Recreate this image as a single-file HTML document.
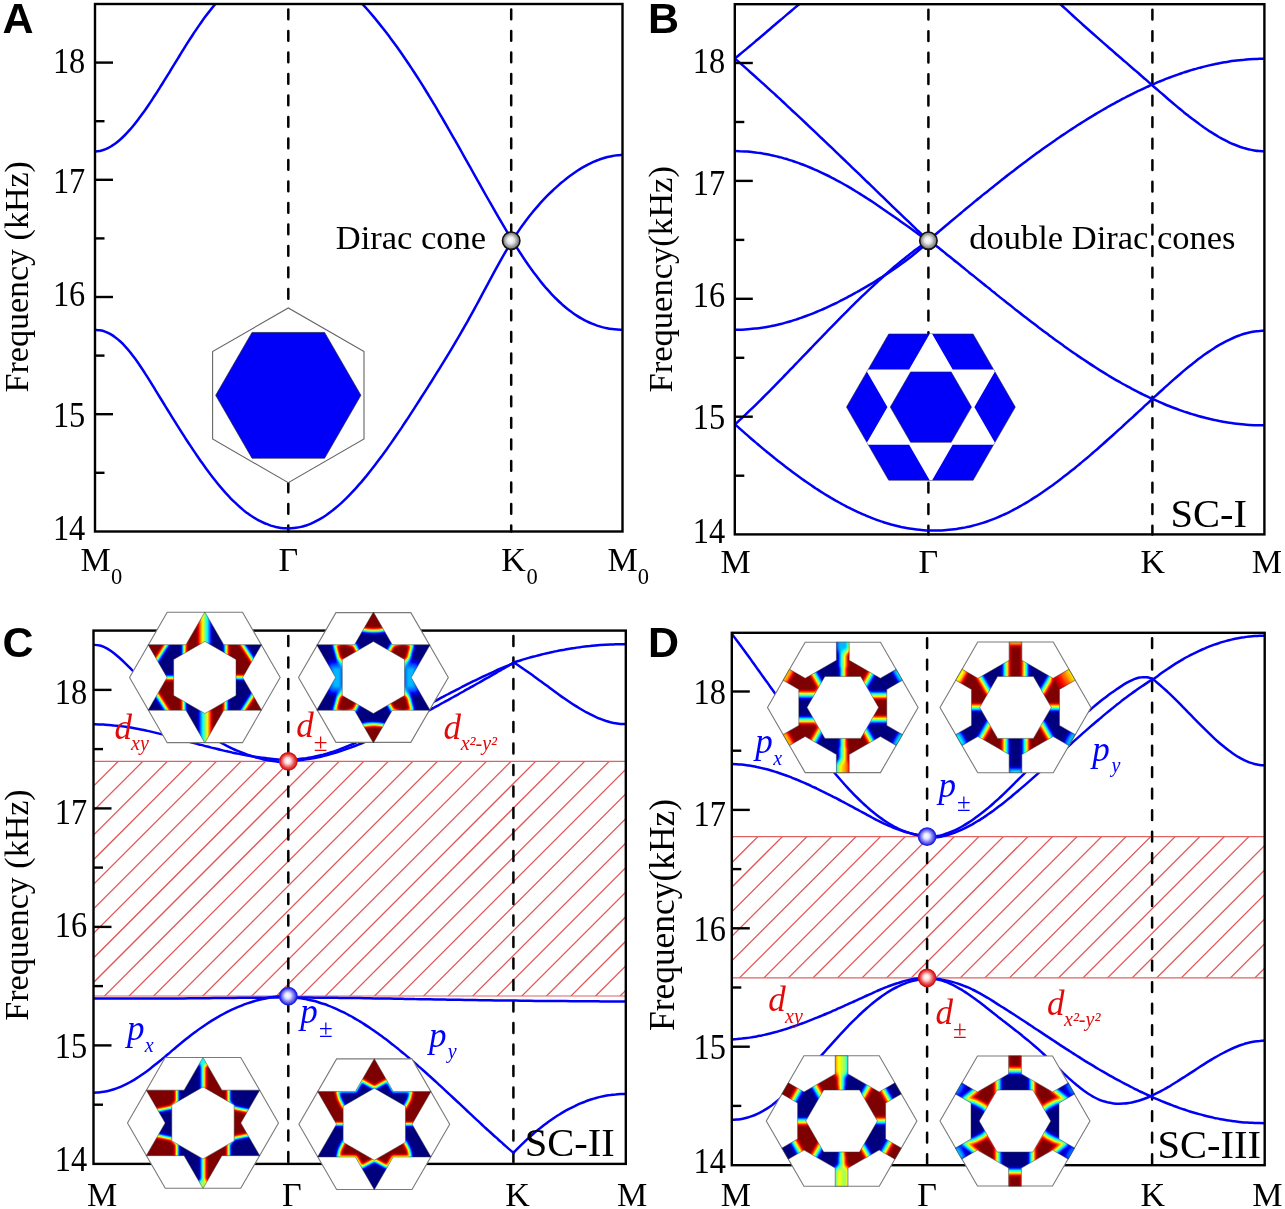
<!DOCTYPE html><html><head><meta charset="utf-8"><style>html,body{margin:0;padding:0;background:#fff;width:1285px;height:1209px;overflow:hidden}</style></head><body><svg width="1285" height="1209" viewBox="0 0 1285 1209" style="position:absolute;left:0;top:0;will-change:transform">
<defs><clipPath id="clipA"><rect x="95.0" y="4.0" width="527.5" height="527.5"/></clipPath><clipPath id="clipB"><rect x="734.8" y="4.2" width="529.6000000000001" height="530.1999999999999"/></clipPath><clipPath id="clipC"><rect x="93.5" y="630.6" width="532.3" height="533.3000000000001"/></clipPath><clipPath id="clipD"><rect x="731.8" y="632.8" width="532.9000000000001" height="532.4000000000001"/></clipPath><radialGradient id="gsph" cx="0.5" cy="0.5" r="0.55" fx="0.45" fy="0.45"><stop offset="0" stop-color="#fff"/><stop offset="0.35" stop-color="#e8e8e8"/><stop offset="0.75" stop-color="#8a8a8a"/><stop offset="1" stop-color="#444"/></radialGradient><radialGradient id="rsph" cx="0.5" cy="0.5" r="0.55" fx="0.45" fy="0.45"><stop offset="0" stop-color="#fff"/><stop offset="0.3" stop-color="#fde0e0"/><stop offset="0.7" stop-color="#e84545"/><stop offset="1" stop-color="#c81818"/></radialGradient><radialGradient id="bsph" cx="0.5" cy="0.5" r="0.55" fx="0.45" fy="0.45"><stop offset="0" stop-color="#fff"/><stop offset="0.3" stop-color="#e4e4ff"/><stop offset="0.7" stop-color="#6060f0"/><stop offset="1" stop-color="#2020d8"/></radialGradient><clipPath id="kagB"><path d="M1015.30,407.10 L973.10,334.01 L888.70,334.01 L846.50,407.10 L888.70,480.19 L973.10,480.19 Z"/></clipPath><clipPath id="hC"><rect x="93.5" y="761.4" width="532.3" height="234.60000000000002"/></clipPath><filter id="fC1" filterUnits="userSpaceOnUse" x="124.85" y="597.45" width="160" height="160" color-interpolation-filters="sRGB"><feGaussianBlur stdDeviation="0.9"/><feComponentTransfer><feFuncR type="table" tableValues="0.000 0.000 0.000 0.000 0.000 0.000 0.000 0.000 0.000 0.000 0.000 0.000 0.000 0.000 0.000 0.000 0.000 0.000 0.000 0.000 0.000 0.000 0.000 0.000 0.000 0.062 0.125 0.188 0.250 0.312 0.375 0.438 0.500 0.562 0.625 0.688 0.750 0.812 0.875 0.938 1.000 1.000 1.000 1.000 1.000 1.000 1.000 1.000 1.000 1.000 1.000 1.000 1.000 1.000 1.000 1.000 1.000 0.938 0.875 0.812 0.750 0.688 0.625 0.562 0.500"/><feFuncG type="table" tableValues="0.000 0.000 0.000 0.000 0.000 0.000 0.000 0.000 0.000 0.062 0.125 0.188 0.250 0.312 0.375 0.438 0.500 0.562 0.625 0.688 0.750 0.812 0.875 0.938 1.000 1.000 1.000 1.000 1.000 1.000 1.000 1.000 1.000 1.000 1.000 1.000 1.000 1.000 1.000 1.000 1.000 0.938 0.875 0.812 0.750 0.688 0.625 0.562 0.500 0.438 0.375 0.312 0.250 0.188 0.125 0.062 0.000 0.000 0.000 0.000 0.000 0.000 0.000 0.000 0.000"/><feFuncB type="table" tableValues="0.500 0.562 0.625 0.688 0.750 0.812 0.875 0.938 1.000 1.000 1.000 1.000 1.000 1.000 1.000 1.000 1.000 1.000 1.000 1.000 1.000 1.000 1.000 1.000 1.000 0.938 0.875 0.812 0.750 0.688 0.625 0.562 0.500 0.438 0.375 0.312 0.250 0.188 0.125 0.062 0.000 0.000 0.000 0.000 0.000 0.000 0.000 0.000 0.000 0.000 0.000 0.000 0.000 0.000 0.000 0.000 0.000 0.000 0.000 0.000 0.000 0.000 0.000 0.000 0.000"/></feComponentTransfer></filter><clipPath id="mC1" clip-rule="evenodd"><path clip-rule="evenodd" d="M223.76 644.70 261.57 644.70 242.67 677.45 261.57 710.20 223.76 710.20 204.85 742.95 185.94 710.20 148.13 710.20 167.03 677.45 148.13 644.70 185.94 644.70 204.85 611.95ZM173.67 659.45 173.67 695.45 204.85 713.45 236.03 695.45 236.03 659.45 204.85 641.45Z"/></clipPath><filter id="fC2" filterUnits="userSpaceOnUse" x="293.4" y="597.5" width="160" height="160" color-interpolation-filters="sRGB"><feGaussianBlur stdDeviation="0.9"/><feComponentTransfer><feFuncR type="table" tableValues="0.000 0.000 0.000 0.000 0.000 0.000 0.000 0.000 0.000 0.000 0.000 0.000 0.000 0.000 0.000 0.000 0.000 0.000 0.000 0.000 0.000 0.000 0.000 0.000 0.000 0.062 0.125 0.188 0.250 0.312 0.375 0.438 0.500 0.562 0.625 0.688 0.750 0.812 0.875 0.938 1.000 1.000 1.000 1.000 1.000 1.000 1.000 1.000 1.000 1.000 1.000 1.000 1.000 1.000 1.000 1.000 1.000 0.938 0.875 0.812 0.750 0.688 0.625 0.562 0.500"/><feFuncG type="table" tableValues="0.000 0.000 0.000 0.000 0.000 0.000 0.000 0.000 0.000 0.062 0.125 0.188 0.250 0.312 0.375 0.438 0.500 0.562 0.625 0.688 0.750 0.812 0.875 0.938 1.000 1.000 1.000 1.000 1.000 1.000 1.000 1.000 1.000 1.000 1.000 1.000 1.000 1.000 1.000 1.000 1.000 0.938 0.875 0.812 0.750 0.688 0.625 0.562 0.500 0.438 0.375 0.312 0.250 0.188 0.125 0.062 0.000 0.000 0.000 0.000 0.000 0.000 0.000 0.000 0.000"/><feFuncB type="table" tableValues="0.500 0.562 0.625 0.688 0.750 0.812 0.875 0.938 1.000 1.000 1.000 1.000 1.000 1.000 1.000 1.000 1.000 1.000 1.000 1.000 1.000 1.000 1.000 1.000 1.000 0.938 0.875 0.812 0.750 0.688 0.625 0.562 0.500 0.438 0.375 0.312 0.250 0.188 0.125 0.062 0.000 0.000 0.000 0.000 0.000 0.000 0.000 0.000 0.000 0.000 0.000 0.000 0.000 0.000 0.000 0.000 0.000 0.000 0.000 0.000 0.000 0.000 0.000 0.000 0.000"/></feComponentTransfer></filter><clipPath id="mC2" clip-rule="evenodd"><path clip-rule="evenodd" d="M392.31 644.75 430.12 644.75 411.22 677.50 430.12 710.25 392.31 710.25 373.40 743.00 354.49 710.25 316.68 710.25 335.58 677.50 316.68 644.75 354.49 644.75 373.40 612.00ZM342.22 659.50 342.22 695.50 373.40 713.50 404.58 695.50 404.58 659.50 373.40 641.50Z"/></clipPath><filter id="fC3" filterUnits="userSpaceOnUse" x="123.0" y="1042.9" width="160" height="160" color-interpolation-filters="sRGB"><feGaussianBlur stdDeviation="0.9"/><feComponentTransfer><feFuncR type="table" tableValues="0.000 0.000 0.000 0.000 0.000 0.000 0.000 0.000 0.000 0.000 0.000 0.000 0.000 0.000 0.000 0.000 0.000 0.000 0.000 0.000 0.000 0.000 0.000 0.000 0.000 0.062 0.125 0.188 0.250 0.312 0.375 0.438 0.500 0.562 0.625 0.688 0.750 0.812 0.875 0.938 1.000 1.000 1.000 1.000 1.000 1.000 1.000 1.000 1.000 1.000 1.000 1.000 1.000 1.000 1.000 1.000 1.000 0.938 0.875 0.812 0.750 0.688 0.625 0.562 0.500"/><feFuncG type="table" tableValues="0.000 0.000 0.000 0.000 0.000 0.000 0.000 0.000 0.000 0.062 0.125 0.188 0.250 0.312 0.375 0.438 0.500 0.562 0.625 0.688 0.750 0.812 0.875 0.938 1.000 1.000 1.000 1.000 1.000 1.000 1.000 1.000 1.000 1.000 1.000 1.000 1.000 1.000 1.000 1.000 1.000 0.938 0.875 0.812 0.750 0.688 0.625 0.562 0.500 0.438 0.375 0.312 0.250 0.188 0.125 0.062 0.000 0.000 0.000 0.000 0.000 0.000 0.000 0.000 0.000"/><feFuncB type="table" tableValues="0.500 0.562 0.625 0.688 0.750 0.812 0.875 0.938 1.000 1.000 1.000 1.000 1.000 1.000 1.000 1.000 1.000 1.000 1.000 1.000 1.000 1.000 1.000 1.000 1.000 0.938 0.875 0.812 0.750 0.688 0.625 0.562 0.500 0.438 0.375 0.312 0.250 0.188 0.125 0.062 0.000 0.000 0.000 0.000 0.000 0.000 0.000 0.000 0.000 0.000 0.000 0.000 0.000 0.000 0.000 0.000 0.000 0.000 0.000 0.000 0.000 0.000 0.000 0.000 0.000"/></feComponentTransfer></filter><clipPath id="mC3" clip-rule="evenodd"><path clip-rule="evenodd" d="M221.91 1090.15 259.72 1090.15 240.82 1122.90 259.72 1155.65 221.91 1155.65 203.00 1188.40 184.09 1155.65 146.28 1155.65 165.18 1122.90 146.28 1090.15 184.09 1090.15 203.00 1057.40ZM171.82 1104.90 171.82 1140.90 203.00 1158.90 234.18 1140.90 234.18 1104.90 203.00 1086.90Z"/></clipPath><filter id="fC4" filterUnits="userSpaceOnUse" x="294.3" y="1044.2" width="160" height="160" color-interpolation-filters="sRGB"><feGaussianBlur stdDeviation="0.9"/><feComponentTransfer><feFuncR type="table" tableValues="0.000 0.000 0.000 0.000 0.000 0.000 0.000 0.000 0.000 0.000 0.000 0.000 0.000 0.000 0.000 0.000 0.000 0.000 0.000 0.000 0.000 0.000 0.000 0.000 0.000 0.062 0.125 0.188 0.250 0.312 0.375 0.438 0.500 0.562 0.625 0.688 0.750 0.812 0.875 0.938 1.000 1.000 1.000 1.000 1.000 1.000 1.000 1.000 1.000 1.000 1.000 1.000 1.000 1.000 1.000 1.000 1.000 0.938 0.875 0.812 0.750 0.688 0.625 0.562 0.500"/><feFuncG type="table" tableValues="0.000 0.000 0.000 0.000 0.000 0.000 0.000 0.000 0.000 0.062 0.125 0.188 0.250 0.312 0.375 0.438 0.500 0.562 0.625 0.688 0.750 0.812 0.875 0.938 1.000 1.000 1.000 1.000 1.000 1.000 1.000 1.000 1.000 1.000 1.000 1.000 1.000 1.000 1.000 1.000 1.000 0.938 0.875 0.812 0.750 0.688 0.625 0.562 0.500 0.438 0.375 0.312 0.250 0.188 0.125 0.062 0.000 0.000 0.000 0.000 0.000 0.000 0.000 0.000 0.000"/><feFuncB type="table" tableValues="0.500 0.562 0.625 0.688 0.750 0.812 0.875 0.938 1.000 1.000 1.000 1.000 1.000 1.000 1.000 1.000 1.000 1.000 1.000 1.000 1.000 1.000 1.000 1.000 1.000 0.938 0.875 0.812 0.750 0.688 0.625 0.562 0.500 0.438 0.375 0.312 0.250 0.188 0.125 0.062 0.000 0.000 0.000 0.000 0.000 0.000 0.000 0.000 0.000 0.000 0.000 0.000 0.000 0.000 0.000 0.000 0.000 0.000 0.000 0.000 0.000 0.000 0.000 0.000 0.000"/></feComponentTransfer></filter><clipPath id="mC4" clip-rule="evenodd"><path clip-rule="evenodd" d="M393.21 1091.45 431.02 1091.45 412.12 1124.20 431.02 1156.95 393.21 1156.95 374.30 1189.70 355.39 1156.95 317.58 1156.95 336.48 1124.20 317.58 1091.45 355.39 1091.45 374.30 1058.70ZM343.12 1106.20 343.12 1142.20 374.30 1160.20 405.48 1142.20 405.48 1106.20 374.30 1088.20Z"/></clipPath><clipPath id="hD"><rect x="731.8" y="836.7" width="532.9000000000001" height="141.0999999999999"/></clipPath><filter id="fD1" filterUnits="userSpaceOnUse" x="762.8" y="627.4" width="160" height="160" color-interpolation-filters="sRGB"><feGaussianBlur stdDeviation="0.9"/><feComponentTransfer><feFuncR type="table" tableValues="0.000 0.000 0.000 0.000 0.000 0.000 0.000 0.000 0.000 0.000 0.000 0.000 0.000 0.000 0.000 0.000 0.000 0.000 0.000 0.000 0.000 0.000 0.000 0.000 0.000 0.062 0.125 0.188 0.250 0.312 0.375 0.438 0.500 0.562 0.625 0.688 0.750 0.812 0.875 0.938 1.000 1.000 1.000 1.000 1.000 1.000 1.000 1.000 1.000 1.000 1.000 1.000 1.000 1.000 1.000 1.000 1.000 0.938 0.875 0.812 0.750 0.688 0.625 0.562 0.500"/><feFuncG type="table" tableValues="0.000 0.000 0.000 0.000 0.000 0.000 0.000 0.000 0.000 0.062 0.125 0.188 0.250 0.312 0.375 0.438 0.500 0.562 0.625 0.688 0.750 0.812 0.875 0.938 1.000 1.000 1.000 1.000 1.000 1.000 1.000 1.000 1.000 1.000 1.000 1.000 1.000 1.000 1.000 1.000 1.000 0.938 0.875 0.812 0.750 0.688 0.625 0.562 0.500 0.438 0.375 0.312 0.250 0.188 0.125 0.062 0.000 0.000 0.000 0.000 0.000 0.000 0.000 0.000 0.000"/><feFuncB type="table" tableValues="0.500 0.562 0.625 0.688 0.750 0.812 0.875 0.938 1.000 1.000 1.000 1.000 1.000 1.000 1.000 1.000 1.000 1.000 1.000 1.000 1.000 1.000 1.000 1.000 1.000 0.938 0.875 0.812 0.750 0.688 0.625 0.562 0.500 0.438 0.375 0.312 0.250 0.188 0.125 0.062 0.000 0.000 0.000 0.000 0.000 0.000 0.000 0.000 0.000 0.000 0.000 0.000 0.000 0.000 0.000 0.000 0.000 0.000 0.000 0.000 0.000 0.000 0.000 0.000 0.000"/></feComponentTransfer></filter><clipPath id="mD1" clip-rule="evenodd"><path clip-rule="evenodd" d="M836.40 772.60 836.40 754.50 805.21 736.50 789.54 745.54 783.14 734.46 798.81 725.41 798.81 689.39 783.14 680.34 789.54 669.26 805.21 678.30 836.40 660.30 836.40 642.20 849.20 642.20 849.20 660.30 880.39 678.30 896.06 669.26 902.46 680.34 886.79 689.39 886.79 725.41 902.46 734.46 896.06 745.54 880.39 736.50 849.20 754.50 849.20 772.60ZM860.70 676.40 824.90 676.40 807.00 707.40 824.90 738.40 860.70 738.40 878.60 707.40Z"/></clipPath><filter id="fD2" filterUnits="userSpaceOnUse" x="935.5" y="627.4" width="160" height="160" color-interpolation-filters="sRGB"><feGaussianBlur stdDeviation="0.9"/><feComponentTransfer><feFuncR type="table" tableValues="0.000 0.000 0.000 0.000 0.000 0.000 0.000 0.000 0.000 0.000 0.000 0.000 0.000 0.000 0.000 0.000 0.000 0.000 0.000 0.000 0.000 0.000 0.000 0.000 0.000 0.062 0.125 0.188 0.250 0.312 0.375 0.438 0.500 0.562 0.625 0.688 0.750 0.812 0.875 0.938 1.000 1.000 1.000 1.000 1.000 1.000 1.000 1.000 1.000 1.000 1.000 1.000 1.000 1.000 1.000 1.000 1.000 0.938 0.875 0.812 0.750 0.688 0.625 0.562 0.500"/><feFuncG type="table" tableValues="0.000 0.000 0.000 0.000 0.000 0.000 0.000 0.000 0.000 0.062 0.125 0.188 0.250 0.312 0.375 0.438 0.500 0.562 0.625 0.688 0.750 0.812 0.875 0.938 1.000 1.000 1.000 1.000 1.000 1.000 1.000 1.000 1.000 1.000 1.000 1.000 1.000 1.000 1.000 1.000 1.000 0.938 0.875 0.812 0.750 0.688 0.625 0.562 0.500 0.438 0.375 0.312 0.250 0.188 0.125 0.062 0.000 0.000 0.000 0.000 0.000 0.000 0.000 0.000 0.000"/><feFuncB type="table" tableValues="0.500 0.562 0.625 0.688 0.750 0.812 0.875 0.938 1.000 1.000 1.000 1.000 1.000 1.000 1.000 1.000 1.000 1.000 1.000 1.000 1.000 1.000 1.000 1.000 1.000 0.938 0.875 0.812 0.750 0.688 0.625 0.562 0.500 0.438 0.375 0.312 0.250 0.188 0.125 0.062 0.000 0.000 0.000 0.000 0.000 0.000 0.000 0.000 0.000 0.000 0.000 0.000 0.000 0.000 0.000 0.000 0.000 0.000 0.000 0.000 0.000 0.000 0.000 0.000 0.000"/></feComponentTransfer></filter><clipPath id="mD2" clip-rule="evenodd"><path clip-rule="evenodd" d="M1009.10 772.60 1009.10 754.50 977.91 736.50 962.24 745.54 955.84 734.46 971.51 725.41 971.51 689.39 955.84 680.34 962.24 669.26 977.91 678.30 1009.10 660.30 1009.10 642.20 1021.90 642.20 1021.90 660.30 1053.09 678.30 1068.76 669.26 1075.16 680.34 1059.49 689.39 1059.49 725.41 1075.16 734.46 1068.76 745.54 1053.09 736.50 1021.90 754.50 1021.90 772.60ZM1033.40 676.40 997.60 676.40 979.70 707.40 997.60 738.40 1033.40 738.40 1051.30 707.40Z"/></clipPath><filter id="fD3" filterUnits="userSpaceOnUse" x="761.6" y="1041.0" width="160" height="160" color-interpolation-filters="sRGB"><feGaussianBlur stdDeviation="0.9"/><feComponentTransfer><feFuncR type="table" tableValues="0.000 0.000 0.000 0.000 0.000 0.000 0.000 0.000 0.000 0.000 0.000 0.000 0.000 0.000 0.000 0.000 0.000 0.000 0.000 0.000 0.000 0.000 0.000 0.000 0.000 0.062 0.125 0.188 0.250 0.312 0.375 0.438 0.500 0.562 0.625 0.688 0.750 0.812 0.875 0.938 1.000 1.000 1.000 1.000 1.000 1.000 1.000 1.000 1.000 1.000 1.000 1.000 1.000 1.000 1.000 1.000 1.000 0.938 0.875 0.812 0.750 0.688 0.625 0.562 0.500"/><feFuncG type="table" tableValues="0.000 0.000 0.000 0.000 0.000 0.000 0.000 0.000 0.000 0.062 0.125 0.188 0.250 0.312 0.375 0.438 0.500 0.562 0.625 0.688 0.750 0.812 0.875 0.938 1.000 1.000 1.000 1.000 1.000 1.000 1.000 1.000 1.000 1.000 1.000 1.000 1.000 1.000 1.000 1.000 1.000 0.938 0.875 0.812 0.750 0.688 0.625 0.562 0.500 0.438 0.375 0.312 0.250 0.188 0.125 0.062 0.000 0.000 0.000 0.000 0.000 0.000 0.000 0.000 0.000"/><feFuncB type="table" tableValues="0.500 0.562 0.625 0.688 0.750 0.812 0.875 0.938 1.000 1.000 1.000 1.000 1.000 1.000 1.000 1.000 1.000 1.000 1.000 1.000 1.000 1.000 1.000 1.000 1.000 0.938 0.875 0.812 0.750 0.688 0.625 0.562 0.500 0.438 0.375 0.312 0.250 0.188 0.125 0.062 0.000 0.000 0.000 0.000 0.000 0.000 0.000 0.000 0.000 0.000 0.000 0.000 0.000 0.000 0.000 0.000 0.000 0.000 0.000 0.000 0.000 0.000 0.000 0.000 0.000"/></feComponentTransfer></filter><clipPath id="mD3" clip-rule="evenodd"><path clip-rule="evenodd" d="M835.20 1186.20 835.20 1168.10 804.01 1150.10 788.34 1159.14 781.94 1148.06 797.61 1139.01 797.61 1102.99 781.94 1093.94 788.34 1082.86 804.01 1091.90 835.20 1073.90 835.20 1055.80 848.00 1055.80 848.00 1073.90 879.19 1091.90 894.86 1082.86 901.26 1093.94 885.59 1102.99 885.59 1139.01 901.26 1148.06 894.86 1159.14 879.19 1150.10 848.00 1168.10 848.00 1186.20ZM859.50 1090.00 823.70 1090.00 805.80 1121.00 823.70 1152.00 859.50 1152.00 877.40 1121.00Z"/></clipPath><filter id="fD4" filterUnits="userSpaceOnUse" x="935.0" y="1041.0" width="160" height="160" color-interpolation-filters="sRGB"><feGaussianBlur stdDeviation="0.9"/><feComponentTransfer><feFuncR type="table" tableValues="0.000 0.000 0.000 0.000 0.000 0.000 0.000 0.000 0.000 0.000 0.000 0.000 0.000 0.000 0.000 0.000 0.000 0.000 0.000 0.000 0.000 0.000 0.000 0.000 0.000 0.062 0.125 0.188 0.250 0.312 0.375 0.438 0.500 0.562 0.625 0.688 0.750 0.812 0.875 0.938 1.000 1.000 1.000 1.000 1.000 1.000 1.000 1.000 1.000 1.000 1.000 1.000 1.000 1.000 1.000 1.000 1.000 0.938 0.875 0.812 0.750 0.688 0.625 0.562 0.500"/><feFuncG type="table" tableValues="0.000 0.000 0.000 0.000 0.000 0.000 0.000 0.000 0.000 0.062 0.125 0.188 0.250 0.312 0.375 0.438 0.500 0.562 0.625 0.688 0.750 0.812 0.875 0.938 1.000 1.000 1.000 1.000 1.000 1.000 1.000 1.000 1.000 1.000 1.000 1.000 1.000 1.000 1.000 1.000 1.000 0.938 0.875 0.812 0.750 0.688 0.625 0.562 0.500 0.438 0.375 0.312 0.250 0.188 0.125 0.062 0.000 0.000 0.000 0.000 0.000 0.000 0.000 0.000 0.000"/><feFuncB type="table" tableValues="0.500 0.562 0.625 0.688 0.750 0.812 0.875 0.938 1.000 1.000 1.000 1.000 1.000 1.000 1.000 1.000 1.000 1.000 1.000 1.000 1.000 1.000 1.000 1.000 1.000 0.938 0.875 0.812 0.750 0.688 0.625 0.562 0.500 0.438 0.375 0.312 0.250 0.188 0.125 0.062 0.000 0.000 0.000 0.000 0.000 0.000 0.000 0.000 0.000 0.000 0.000 0.000 0.000 0.000 0.000 0.000 0.000 0.000 0.000 0.000 0.000 0.000 0.000 0.000 0.000"/></feComponentTransfer></filter><clipPath id="mD4" clip-rule="evenodd"><path clip-rule="evenodd" d="M1008.60 1186.20 1008.60 1168.10 977.41 1150.10 961.74 1159.14 955.34 1148.06 971.01 1139.01 971.01 1102.99 955.34 1093.94 961.74 1082.86 977.41 1091.90 1008.60 1073.90 1008.60 1055.80 1021.40 1055.80 1021.40 1073.90 1052.59 1091.90 1068.26 1082.86 1074.66 1093.94 1058.99 1102.99 1058.99 1139.01 1074.66 1148.06 1068.26 1159.14 1052.59 1150.10 1021.40 1168.10 1021.40 1186.20ZM1032.90 1090.00 997.10 1090.00 979.20 1121.00 997.10 1152.00 1032.90 1152.00 1050.80 1121.00Z"/></clipPath></defs>
<rect x="0" y="0" width="1285" height="1209" fill="#fff"/>
<line x1="288.3" y1="9.5" x2="288.3" y2="531.5" stroke="#000" stroke-width="2.5" stroke-dasharray="9.8 11.7" stroke-linecap="round"/>
<line x1="511.2" y1="9.5" x2="511.2" y2="531.5" stroke="#000" stroke-width="2.5" stroke-dasharray="9.8 11.7" stroke-linecap="round"/>
<path d="M95.0,329.8 C95.8,329.9 98.3,330.0 100.0,330.3 C101.7,330.6 103.4,331.0 105.0,331.6 C106.7,332.3 108.4,333.0 110.1,333.9 C111.7,334.9 113.4,335.9 115.1,337.2 C116.8,338.4 118.4,339.8 120.1,341.3 C121.8,342.8 123.5,344.5 125.1,346.3 C126.8,348.1 128.5,350.1 130.2,352.2 C131.8,354.3 133.5,356.5 135.2,358.8 C136.9,361.1 138.5,363.5 140.2,366.0 C141.9,368.5 143.6,371.0 145.2,373.6 C146.9,376.2 148.6,378.9 150.3,381.6 C151.9,384.3 153.6,387.0 155.3,389.8 C157.0,392.5 158.6,395.2 160.3,398.0 C162.0,400.7 163.7,403.4 165.3,406.2 C167.0,408.9 168.7,411.6 170.4,414.3 C172.0,417.0 173.7,419.7 175.4,422.4 C177.1,425.1 178.7,427.7 180.4,430.4 C182.1,433.0 183.8,435.6 185.4,438.2 C187.1,440.8 188.8,443.4 190.5,445.9 C192.1,448.4 193.8,450.9 195.5,453.4 C197.2,455.9 198.8,458.3 200.5,460.7 C202.2,463.1 203.8,465.4 205.5,467.7 C207.2,470.0 208.9,472.3 210.5,474.5 C212.2,476.7 213.9,478.9 215.6,481.0 C217.2,483.1 218.9,485.1 220.6,487.1 C222.3,489.1 223.9,491.0 225.6,492.9 C227.3,494.7 229.0,496.5 230.6,498.3 C232.3,500.0 234.0,501.6 235.7,503.2 C237.3,504.8 239.0,506.3 240.7,507.8 C242.4,509.2 244.0,510.6 245.7,511.9 C247.4,513.1 249.1,514.4 250.7,515.5 C252.4,516.6 254.1,517.7 255.8,518.7 C257.4,519.7 259.1,520.6 260.8,521.4 C262.5,522.3 264.1,523.1 265.8,523.7 C267.5,524.4 269.2,525.0 270.8,525.6 C272.5,526.1 274.2,526.6 275.9,527.0 C277.5,527.3 279.2,527.6 280.9,527.9 C282.6,528.1 284.2,528.3 285.9,528.3 C287.6,528.4 289.3,528.4 290.9,528.3 C292.6,528.2 294.3,528.1 296.0,527.8 C297.6,527.6 299.3,527.3 301.0,526.9 C302.7,526.5 304.3,526.0 306.0,525.5 C307.7,524.9 309.3,524.3 311.0,523.6 C312.7,522.9 314.4,522.1 316.0,521.2 C317.7,520.3 319.4,519.4 321.1,518.4 C322.7,517.4 324.4,516.3 326.1,515.2 C327.8,514.0 329.4,512.8 331.1,511.5 C332.8,510.2 334.5,508.9 336.1,507.5 C337.8,506.1 339.5,504.6 341.2,503.1 C342.8,501.5 344.5,499.9 346.2,498.3 C347.9,496.7 349.5,495.0 351.2,493.2 C352.9,491.4 354.6,489.6 356.2,487.8 C357.9,485.9 359.6,484.0 361.3,482.1 C362.9,480.1 364.6,478.1 366.3,476.1 C368.0,474.0 369.6,472.0 371.3,469.8 C373.0,467.7 374.7,465.5 376.3,463.3 C378.0,461.1 379.7,458.9 381.4,456.6 C383.0,454.3 384.7,452.0 386.4,449.7 C388.1,447.3 389.7,445.0 391.4,442.6 C393.1,440.2 394.8,437.7 396.4,435.3 C398.1,432.8 399.8,430.4 401.5,427.9 C403.1,425.4 404.8,422.8 406.5,420.3 C408.2,417.8 409.8,415.2 411.5,412.6 C413.2,410.1 414.8,407.5 416.5,404.9 C418.2,402.3 419.9,399.6 421.5,397.0 C423.2,394.4 424.9,391.8 426.6,389.1 C428.2,386.5 429.9,383.8 431.6,381.2 C433.3,378.5 434.9,375.9 436.6,373.2 C438.3,370.5 440.0,367.8 441.6,365.1 C443.3,362.4 445.0,359.7 446.7,356.9 C448.3,354.2 450.0,351.4 451.7,348.6 C453.4,345.8 455.0,343.0 456.7,340.2 C458.4,337.3 460.1,334.4 461.7,331.5 C463.4,328.6 465.1,325.7 466.8,322.7 C468.4,319.8 470.1,316.7 471.8,313.7 C473.5,310.7 475.1,307.6 476.8,304.5 C478.5,301.4 480.2,298.2 481.8,295.1 C483.5,292.0 485.2,288.8 486.9,285.7 C488.5,282.5 490.2,279.4 491.9,276.3 C493.6,273.2 495.2,270.1 496.9,267.1 C498.6,264.0 500.3,261.0 501.9,258.1 C503.6,255.1 505.3,252.2 507.0,249.4 C508.6,246.6 510.3,243.8 512.0,241.1 C513.7,238.5 515.3,235.9 517.0,233.4 C518.7,230.9 520.3,228.4 522.0,226.1 C523.7,223.7 525.4,221.4 527.0,219.2 C528.7,217.0 530.4,214.9 532.1,212.8 C533.7,210.7 535.4,208.7 537.1,206.8 C538.8,204.9 540.4,203.0 542.1,201.2 C543.8,199.4 545.5,197.6 547.1,195.9 C548.8,194.2 550.5,192.6 552.2,191.0 C553.8,189.4 555.5,187.9 557.2,186.4 C558.9,184.9 560.5,183.4 562.2,182.1 C563.9,180.7 565.6,179.3 567.2,178.0 C568.9,176.7 570.6,175.5 572.3,174.3 C573.9,173.1 575.6,171.9 577.3,170.8 C579.0,169.7 580.6,168.7 582.3,167.7 C584.0,166.7 585.7,165.8 587.3,164.9 C589.0,164.0 590.7,163.2 592.4,162.4 C594.0,161.7 595.7,160.9 597.4,160.3 C599.1,159.6 600.7,159.0 602.4,158.5 C604.1,157.9 605.8,157.4 607.4,157.0 C609.1,156.6 610.8,156.2 612.5,155.9 C614.1,155.6 615.8,155.4 617.5,155.2 C619.2,155.0 621.7,154.9 622.5,154.8" fill="none" stroke="#0000f5" stroke-width="2.5" stroke-linejoin="round" stroke-linecap="round" clip-path="url(#clipA)"/>
<path d="M95.0,151.4 C95.8,151.4 98.3,151.3 100.0,150.9 C101.7,150.6 103.3,150.1 105.0,149.4 C106.7,148.8 108.3,148.0 110.0,147.0 C111.7,146.1 113.3,145.0 115.0,143.8 C116.7,142.5 118.3,141.2 120.0,139.7 C121.7,138.3 123.3,136.7 125.0,135.0 C126.7,133.3 128.3,131.5 130.0,129.6 C131.7,127.7 133.3,125.7 135.0,123.6 C136.7,121.5 138.3,119.3 140.0,117.1 C141.7,114.9 143.3,112.5 145.0,110.2 C146.7,107.8 148.3,105.4 150.0,102.9 C151.7,100.4 153.3,97.8 155.0,95.3 C156.7,92.7 158.3,90.1 160.0,87.4 C161.7,84.8 163.3,82.1 165.0,79.4 C166.7,76.7 168.3,74.0 170.0,71.3 C171.7,68.5 173.3,65.8 175.0,63.1 C176.7,60.4 178.3,57.7 180.0,55.0 C181.7,52.3 183.3,49.6 185.0,46.9 C186.7,44.3 188.3,41.6 190.0,39.0 C191.7,36.5 193.3,33.9 195.0,31.4 C196.7,28.9 198.3,26.5 200.0,24.1 C201.7,21.7 203.3,19.3 205.0,17.1 C206.7,14.8 208.3,12.7 210.0,10.6 C211.7,8.5 213.3,6.4 215.0,4.5 C216.7,2.6 218.3,0.8 220.0,-0.9 C221.7,-2.6 224.2,-5.0 225.0,-5.8" fill="none" stroke="#0000f5" stroke-width="2.5" stroke-linejoin="round" stroke-linecap="round" clip-path="url(#clipA)"/>
<path d="M353.0,-5.7 C353.8,-4.9 356.4,-2.3 358.1,-0.6 C359.8,1.2 361.5,3.0 363.2,4.9 C364.9,6.7 366.6,8.6 368.3,10.5 C369.9,12.4 371.6,14.4 373.3,16.4 C375.0,18.4 376.7,20.5 378.4,22.6 C380.1,24.7 381.8,26.8 383.5,29.0 C385.2,31.2 386.9,33.4 388.6,35.6 C390.3,37.9 392.0,40.1 393.7,42.5 C395.4,44.8 397.1,47.1 398.8,49.5 C400.5,51.9 402.2,54.4 403.8,56.8 C405.5,59.3 407.2,61.8 408.9,64.3 C410.6,66.9 412.3,69.4 414.0,72.0 C415.7,74.6 417.4,77.2 419.1,79.9 C420.8,82.6 422.5,85.3 424.2,88.0 C425.9,90.7 427.6,93.5 429.3,96.3 C431.0,99.0 432.7,101.9 434.4,104.7 C436.1,107.5 437.7,110.4 439.4,113.3 C441.1,116.2 442.8,119.1 444.5,122.0 C446.2,124.9 447.9,127.9 449.6,130.8 C451.3,133.8 453.0,136.8 454.7,139.7 C456.4,142.7 458.1,145.7 459.8,148.7 C461.5,151.7 463.2,154.8 464.9,157.8 C466.6,160.8 468.3,163.8 470.0,166.8 C471.6,169.9 473.3,172.9 475.0,175.9 C476.7,178.9 478.4,181.9 480.1,184.9 C481.8,188.0 483.5,191.0 485.2,194.0 C486.9,197.0 488.6,200.0 490.3,202.9 C492.0,205.9 493.7,208.9 495.4,211.8 C497.1,214.8 498.8,217.7 500.5,220.6 C502.2,223.5 503.9,226.4 505.5,229.2 C507.2,232.1 508.9,234.9 510.6,237.7 C512.3,240.4 514.0,243.2 515.7,245.9 C517.4,248.6 519.1,251.2 520.8,253.8 C522.5,256.4 524.2,259.0 525.9,261.5 C527.6,264.0 529.3,266.4 531.0,268.7 C532.7,271.1 534.4,273.4 536.1,275.6 C537.8,277.9 539.4,280.0 541.1,282.1 C542.8,284.2 544.5,286.2 546.2,288.2 C547.9,290.1 549.6,292.0 551.3,293.8 C553.0,295.6 554.7,297.4 556.4,299.0 C558.1,300.7 559.8,302.3 561.5,303.8 C563.2,305.4 564.9,306.8 566.6,308.2 C568.3,309.6 570.0,310.9 571.7,312.1 C573.3,313.4 575.0,314.6 576.7,315.6 C578.4,316.7 580.1,317.8 581.8,318.7 C583.5,319.7 585.2,320.6 586.9,321.4 C588.6,322.2 590.3,323.0 592.0,323.7 C593.7,324.4 595.4,325.0 597.1,325.6 C598.8,326.1 600.5,326.6 602.2,327.1 C603.9,327.5 605.6,327.9 607.2,328.2 C608.9,328.6 610.6,328.8 612.3,329.0 C614.0,329.3 615.7,329.4 617.4,329.5 C619.1,329.6 621.7,329.7 622.5,329.7" fill="none" stroke="#0000f5" stroke-width="2.5" stroke-linejoin="round" stroke-linecap="round" clip-path="url(#clipA)"/>
<path d="M363.99,351.60 L288.30,307.90 L212.61,351.60 L212.61,439.00 L288.30,482.70 L363.99,439.00 Z" fill="#fff" stroke="#666" stroke-width="1.1"/>
<path d="M360.90,395.30 L324.60,332.43 L252.00,332.43 L215.70,395.30 L252.00,458.17 L324.60,458.17 Z" fill="#0000f8" stroke="#202040" stroke-width="0.7"/>
<rect x="95.0" y="4.0" width="527.5" height="527.5" fill="none" stroke="#000" stroke-width="2.4"/>
<line x1="95.0" y1="472.8" x2="104.5" y2="472.8" stroke="#000" stroke-width="2.4"/>
<line x1="95.0" y1="414.2" x2="113.0" y2="414.2" stroke="#000" stroke-width="2.4"/>
<line x1="95.0" y1="355.6" x2="104.5" y2="355.6" stroke="#000" stroke-width="2.4"/>
<line x1="95.0" y1="297.0" x2="113.0" y2="297.0" stroke="#000" stroke-width="2.4"/>
<line x1="95.0" y1="238.4" x2="104.5" y2="238.4" stroke="#000" stroke-width="2.4"/>
<line x1="95.0" y1="179.8" x2="113.0" y2="179.8" stroke="#000" stroke-width="2.4"/>
<line x1="95.0" y1="121.2" x2="104.5" y2="121.2" stroke="#000" stroke-width="2.4"/>
<line x1="95.0" y1="62.6" x2="113.0" y2="62.6" stroke="#000" stroke-width="2.4"/>
<text transform="translate(52.9,540.2) scale(0.9,1)" font-family="Liberation Serif" font-size="36">14</text>
<text transform="translate(52.9,426.6) scale(0.9,1)" font-family="Liberation Serif" font-size="36">15</text>
<text transform="translate(52.9,305.6) scale(0.9,1)" font-family="Liberation Serif" font-size="36">16</text>
<text transform="translate(52.9,193.1) scale(0.9,1)" font-family="Liberation Serif" font-size="36">17</text>
<text transform="translate(52.9,72.6) scale(0.9,1)" font-family="Liberation Serif" font-size="36">18</text>
<circle cx="511.2" cy="240.7" r="8.7" fill="url(#gsph)" stroke="#111" stroke-width="1.6"/>
<text x="335.8" y="248.6" font-family="Liberation Serif" font-size="34.5" text-anchor="start" fill="#000">Dirac cone</text>
<line x1="928.4" y1="9.7" x2="928.4" y2="534.4" stroke="#000" stroke-width="2.5" stroke-dasharray="9.8 11.7" stroke-linecap="round"/>
<line x1="1152.4" y1="9.7" x2="1152.4" y2="534.4" stroke="#000" stroke-width="2.5" stroke-dasharray="9.8 11.7" stroke-linecap="round"/>
<path d="M734.8,58.5 C735.7,57.8 738.3,55.7 740.0,54.2 C741.8,52.8 743.5,51.4 745.3,49.9 C747.0,48.5 748.7,47.0 750.5,45.6 C752.2,44.1 754.0,42.6 755.7,41.1 C757.5,39.7 759.2,38.2 760.9,36.7 C762.7,35.2 764.4,33.8 766.2,32.3 C767.9,30.8 769.7,29.3 771.4,27.8 C773.1,26.3 774.9,24.8 776.6,23.3 C778.4,21.9 780.1,20.4 781.9,18.9 C783.6,17.4 785.3,15.9 787.1,14.4 C788.8,13.0 790.6,11.5 792.3,10.0 C794.1,8.5 795.8,7.1 797.5,5.6 C799.3,4.2 801.0,2.7 802.8,1.3 C804.5,-0.2 807.1,-2.3 808.0,-3.0" fill="none" stroke="#0000f5" stroke-width="2.5" stroke-linejoin="round" stroke-linecap="round" clip-path="url(#clipB)"/>
<path d="M734.8,58.5 C735.6,59.2 738.2,61.5 739.9,62.9 C741.6,64.4 743.3,65.9 745.0,67.4 C746.7,68.9 748.4,70.4 750.1,72.0 C751.8,73.5 753.5,75.0 755.2,76.5 C756.9,78.0 758.6,79.6 760.3,81.1 C762.0,82.6 763.7,84.2 765.4,85.7 C767.1,87.3 768.8,88.8 770.5,90.4 C772.2,91.9 773.9,93.5 775.6,95.0 C777.3,96.6 779.0,98.1 780.7,99.7 C782.4,101.3 784.0,102.9 785.7,104.4 C787.4,106.0 789.1,107.6 790.8,109.2 C792.5,110.7 794.2,112.3 795.9,113.9 C797.6,115.5 799.3,117.1 801.0,118.7 C802.7,120.3 804.4,121.9 806.1,123.5 C807.8,125.1 809.5,126.7 811.2,128.3 C812.9,129.9 814.6,131.5 816.3,133.1 C818.0,134.7 819.7,136.4 821.4,138.0 C823.1,139.6 824.8,141.2 826.5,142.8 C828.2,144.5 829.9,146.1 831.6,147.7 C833.3,149.3 835.0,151.0 836.7,152.6 C838.4,154.2 840.1,155.8 841.8,157.5 C843.5,159.1 845.2,160.7 846.9,162.4 C848.6,164.0 850.3,165.6 852.0,167.3 C853.7,168.9 855.4,170.5 857.1,172.2 C858.8,173.8 860.5,175.4 862.2,177.1 C863.9,178.7 865.6,180.4 867.3,182.0 C869.0,183.6 870.7,185.3 872.4,186.9 C874.1,188.5 875.8,190.2 877.5,191.8 C879.2,193.5 880.8,195.1 882.5,196.7 C884.2,198.4 885.9,200.0 887.6,201.6 C889.3,203.3 891.0,204.9 892.7,206.6 C894.4,208.2 896.1,209.8 897.8,211.5 C899.5,213.1 901.2,214.7 902.9,216.3 C904.6,218.0 906.3,219.6 908.0,221.2 C909.7,222.9 911.4,224.5 913.1,226.1 C914.8,227.7 916.5,229.4 918.2,231.0 C919.9,232.6 921.6,234.2 923.3,235.8 C925.0,237.5 927.6,239.9 928.4,240.7" fill="none" stroke="#0000f5" stroke-width="2.5" stroke-linejoin="round" stroke-linecap="round" clip-path="url(#clipB)"/>
<path d="M734.8,151.1 C735.6,151.1 738.2,151.1 739.9,151.2 C741.6,151.2 743.3,151.3 745.0,151.4 C746.7,151.5 748.4,151.7 750.1,151.8 C751.8,152.0 753.5,152.2 755.2,152.4 C756.9,152.6 758.6,152.8 760.3,153.1 C762.0,153.4 763.7,153.7 765.4,154.0 C767.1,154.3 768.8,154.6 770.5,155.0 C772.2,155.3 773.9,155.7 775.6,156.1 C777.3,156.5 779.0,157.0 780.7,157.4 C782.4,157.9 784.0,158.3 785.7,158.8 C787.4,159.3 789.1,159.9 790.8,160.4 C792.5,161.0 794.2,161.5 795.9,162.1 C797.6,162.7 799.3,163.3 801.0,164.0 C802.7,164.6 804.4,165.2 806.1,165.9 C807.8,166.6 809.5,167.3 811.2,168.0 C812.9,168.7 814.6,169.5 816.3,170.2 C818.0,171.0 819.7,171.8 821.4,172.6 C823.1,173.4 824.8,174.2 826.5,175.0 C828.2,175.8 829.9,176.7 831.6,177.6 C833.3,178.4 835.0,179.3 836.7,180.3 C838.4,181.2 840.1,182.1 841.8,183.0 C843.5,184.0 845.2,185.0 846.9,185.9 C848.6,186.9 850.3,187.9 852.0,188.9 C853.7,189.9 855.4,191.0 857.1,192.0 C858.8,193.1 860.5,194.1 862.2,195.2 C863.9,196.3 865.6,197.4 867.3,198.5 C869.0,199.6 870.7,200.7 872.4,201.8 C874.1,202.9 875.8,204.0 877.5,205.2 C879.2,206.3 880.8,207.5 882.5,208.7 C884.2,209.8 885.9,211.0 887.6,212.2 C889.3,213.3 891.0,214.5 892.7,215.7 C894.4,216.9 896.1,218.1 897.8,219.3 C899.5,220.5 901.2,221.8 902.9,223.0 C904.6,224.2 906.3,225.4 908.0,226.6 C909.7,227.9 911.4,229.1 913.1,230.3 C914.8,231.6 916.5,232.8 918.2,234.0 C919.9,235.3 921.6,236.5 923.3,237.7 C925.0,239.0 927.6,240.8 928.4,241.4" fill="none" stroke="#0000f5" stroke-width="2.5" stroke-linejoin="round" stroke-linecap="round" clip-path="url(#clipB)"/>
<path d="M734.8,329.7 C735.6,329.7 738.2,329.7 739.9,329.7 C741.6,329.7 743.3,329.6 745.0,329.5 C746.7,329.4 748.4,329.3 750.1,329.1 C751.8,329.0 753.5,328.8 755.2,328.6 C756.9,328.5 758.6,328.2 760.3,328.0 C762.0,327.8 763.7,327.5 765.4,327.2 C767.1,326.9 768.8,326.6 770.5,326.3 C772.2,325.9 773.9,325.6 775.6,325.2 C777.3,324.8 779.0,324.4 780.7,324.0 C782.4,323.6 784.0,323.1 785.7,322.6 C787.4,322.2 789.1,321.7 790.8,321.2 C792.5,320.7 794.2,320.1 795.9,319.6 C797.6,319.0 799.3,318.5 801.0,317.9 C802.7,317.3 804.4,316.7 806.1,316.0 C807.8,315.4 809.5,314.8 811.2,314.1 C812.9,313.4 814.6,312.7 816.3,312.0 C818.0,311.3 819.7,310.6 821.4,309.9 C823.1,309.1 824.8,308.4 826.5,307.6 C828.2,306.8 829.9,306.0 831.6,305.2 C833.3,304.4 835.0,303.6 836.7,302.8 C838.4,301.9 840.1,301.1 841.8,300.2 C843.5,299.3 845.2,298.5 846.9,297.6 C848.6,296.7 850.3,295.7 852.0,294.8 C853.7,293.9 855.4,292.9 857.1,292.0 C858.8,291.0 860.5,290.1 862.2,289.1 C863.9,288.1 865.6,287.1 867.3,286.1 C869.0,285.1 870.7,284.1 872.4,283.1 C874.1,282.0 875.8,281.0 877.5,279.9 C879.2,278.9 880.8,277.8 882.5,276.7 C884.2,275.6 885.9,274.5 887.6,273.4 C889.3,272.3 891.0,271.2 892.7,270.0 C894.4,268.9 896.1,267.7 897.8,266.5 C899.5,265.3 901.2,264.1 902.9,262.8 C904.6,261.6 906.3,260.3 908.0,259.0 C909.7,257.7 911.4,256.4 913.1,255.0 C914.8,253.7 916.5,252.3 918.2,250.8 C919.9,249.4 921.6,248.0 923.3,246.5 C925.0,245.0 927.6,242.6 928.4,241.9" fill="none" stroke="#0000f5" stroke-width="2.5" stroke-linejoin="round" stroke-linecap="round" clip-path="url(#clipB)"/>
<path d="M734.8,424.6 C735.6,423.8 738.2,421.5 739.9,419.9 C741.6,418.3 743.3,416.7 745.0,415.1 C746.7,413.5 748.4,411.9 750.1,410.2 C751.8,408.6 753.5,407.0 755.2,405.3 C756.9,403.6 758.6,402.0 760.3,400.3 C762.0,398.6 763.7,396.9 765.4,395.2 C767.1,393.5 768.8,391.8 770.5,390.1 C772.2,388.4 773.9,386.7 775.6,384.9 C777.3,383.2 779.0,381.5 780.7,379.7 C782.4,378.0 784.0,376.2 785.7,374.5 C787.4,372.7 789.1,371.0 790.8,369.2 C792.5,367.4 794.2,365.7 795.9,363.9 C797.6,362.1 799.3,360.4 801.0,358.6 C802.7,356.8 804.4,355.1 806.1,353.3 C807.8,351.5 809.5,349.7 811.2,348.0 C812.9,346.2 814.6,344.4 816.3,342.7 C818.0,340.9 819.7,339.1 821.4,337.4 C823.1,335.6 824.8,333.8 826.5,332.1 C828.2,330.3 829.9,328.6 831.6,326.8 C833.3,325.1 835.0,323.4 836.7,321.6 C838.4,319.9 840.1,318.2 841.8,316.4 C843.5,314.7 845.2,313.0 846.9,311.3 C848.6,309.6 850.3,307.9 852.0,306.2 C853.7,304.5 855.4,302.9 857.1,301.2 C858.8,299.5 860.5,297.9 862.2,296.2 C863.9,294.6 865.6,293.0 867.3,291.4 C869.0,289.7 870.7,288.1 872.4,286.6 C874.1,285.0 875.8,283.4 877.5,281.8 C879.2,280.3 880.8,278.7 882.5,277.2 C884.2,275.7 885.9,274.2 887.6,272.7 C889.3,271.2 891.0,269.7 892.7,268.2 C894.4,266.8 896.1,265.3 897.8,263.9 C899.5,262.5 901.2,261.1 902.9,259.7 C904.6,258.4 906.3,257.0 908.0,255.7 C909.7,254.3 911.4,253.0 913.1,251.7 C914.8,250.4 916.5,249.2 918.2,247.9 C919.9,246.7 921.6,245.5 923.3,244.3 C925.0,243.1 927.6,241.3 928.4,240.8" fill="none" stroke="#0000f5" stroke-width="2.5" stroke-linejoin="round" stroke-linecap="round" clip-path="url(#clipB)"/>
<path d="M734.8,424.1 C735.6,424.9 738.2,427.1 739.8,428.6 C741.5,430.1 743.2,431.6 744.9,433.1 C746.6,434.6 748.3,436.0 749.9,437.5 C751.6,439.0 753.3,440.4 755.0,441.9 C756.7,443.3 758.3,444.7 760.0,446.1 C761.7,447.6 763.4,449.0 765.1,450.4 C766.7,451.8 768.4,453.1 770.1,454.5 C771.8,455.9 773.5,457.2 775.2,458.6 C776.8,459.9 778.5,461.3 780.2,462.6 C781.9,463.9 783.6,465.2 785.2,466.5 C786.9,467.8 788.6,469.1 790.3,470.3 C792.0,471.6 793.6,472.9 795.3,474.1 C797.0,475.3 798.7,476.5 800.4,477.7 C802.1,479.0 803.7,480.1 805.4,481.3 C807.1,482.5 808.8,483.6 810.5,484.8 C812.1,485.9 813.8,487.0 815.5,488.2 C817.2,489.3 818.9,490.3 820.5,491.4 C822.2,492.5 823.9,493.5 825.6,494.6 C827.3,495.6 829.0,496.6 830.6,497.6 C832.3,498.6 834.0,499.6 835.7,500.6 C837.4,501.5 839.0,502.5 840.7,503.4 C842.4,504.3 844.1,505.2 845.8,506.1 C847.4,507.0 849.1,507.8 850.8,508.7 C852.5,509.5 854.2,510.3 855.9,511.1 C857.5,511.9 859.2,512.7 860.9,513.4 C862.6,514.2 864.3,514.9 865.9,515.6 C867.6,516.3 869.3,517.0 871.0,517.7 C872.7,518.4 874.3,519.0 876.0,519.6 C877.7,520.2 879.4,520.8 881.1,521.4 C882.8,521.9 884.4,522.5 886.1,523.0 C887.8,523.5 889.5,524.0 891.2,524.5 C892.8,524.9 894.5,525.4 896.2,525.8 C897.9,526.2 899.6,526.6 901.2,527.0 C902.9,527.3 904.6,527.7 906.3,528.0 C908.0,528.3 909.7,528.6 911.3,528.8 C913.0,529.1 914.7,529.3 916.4,529.5 C918.1,529.7 919.7,529.9 921.4,530.0 C923.1,530.2 924.8,530.3 926.5,530.4 C928.1,530.4 929.8,530.5 931.5,530.5 C933.2,530.6 934.9,530.6 936.6,530.6 C938.2,530.5 939.9,530.5 941.6,530.4 C943.3,530.3 945.0,530.2 946.6,530.1 C948.3,530.0 950.0,529.8 951.7,529.6 C953.4,529.4 955.0,529.2 956.7,528.9 C958.4,528.7 960.1,528.4 961.8,528.1 C963.5,527.8 965.1,527.5 966.8,527.1 C968.5,526.8 970.2,526.4 971.9,526.0 C973.5,525.6 975.2,525.1 976.9,524.6 C978.6,524.2 980.3,523.7 981.9,523.1 C983.6,522.6 985.3,522.1 987.0,521.5 C988.7,520.9 990.4,520.3 992.0,519.6 C993.7,519.0 995.4,518.3 997.1,517.6 C998.8,516.9 1000.4,516.2 1002.1,515.4 C1003.8,514.7 1005.5,513.9 1007.2,513.1 C1008.8,512.2 1010.5,511.4 1012.2,510.5 C1013.9,509.7 1015.6,508.8 1017.3,507.9 C1018.9,506.9 1020.6,506.0 1022.3,505.0 C1024.0,504.1 1025.7,503.1 1027.3,502.1 C1029.0,501.0 1030.7,500.0 1032.4,498.9 C1034.1,497.9 1035.7,496.8 1037.4,495.7 C1039.1,494.6 1040.8,493.5 1042.5,492.3 C1044.2,491.2 1045.8,490.0 1047.5,488.8 C1049.2,487.6 1050.9,486.4 1052.6,485.2 C1054.2,484.0 1055.9,482.7 1057.6,481.5 C1059.3,480.2 1061.0,478.9 1062.6,477.6 C1064.3,476.3 1066.0,475.0 1067.7,473.7 C1069.4,472.4 1071.1,471.0 1072.7,469.7 C1074.4,468.3 1076.1,467.0 1077.8,465.6 C1079.5,464.2 1081.1,462.8 1082.8,461.4 C1084.5,460.0 1086.2,458.6 1087.9,457.2 C1089.5,455.7 1091.2,454.3 1092.9,452.8 C1094.6,451.4 1096.3,449.9 1098.0,448.5 C1099.6,447.0 1101.3,445.5 1103.0,444.0 C1104.7,442.5 1106.4,441.0 1108.0,439.5 C1109.7,438.0 1111.4,436.5 1113.1,435.0 C1114.8,433.5 1116.4,432.0 1118.1,430.4 C1119.8,428.9 1121.5,427.4 1123.2,425.8 C1124.9,424.3 1126.5,422.8 1128.2,421.2 C1129.9,419.7 1131.6,418.1 1133.3,416.6 C1134.9,415.0 1136.6,413.5 1138.3,411.9 C1140.0,410.4 1141.7,408.8 1143.3,407.3 C1145.0,405.7 1146.7,404.2 1148.4,402.6 C1150.1,401.0 1151.8,399.5 1153.4,397.9 C1155.1,396.4 1156.8,394.8 1158.5,393.3 C1160.2,391.8 1161.8,390.2 1163.5,388.7 C1165.2,387.2 1166.9,385.6 1168.6,384.1 C1170.2,382.6 1171.9,381.1 1173.6,379.6 C1175.3,378.2 1177.0,376.7 1178.7,375.2 C1180.3,373.8 1182.0,372.4 1183.7,370.9 C1185.4,369.5 1187.1,368.1 1188.7,366.8 C1190.4,365.4 1192.1,364.0 1193.8,362.7 C1195.5,361.4 1197.1,360.1 1198.8,358.8 C1200.5,357.6 1202.2,356.3 1203.9,355.1 C1205.6,353.9 1207.2,352.7 1208.9,351.6 C1210.6,350.5 1212.3,349.3 1214.0,348.3 C1215.6,347.2 1217.3,346.2 1219.0,345.2 C1220.7,344.2 1222.4,343.3 1224.0,342.4 C1225.7,341.5 1227.4,340.6 1229.1,339.8 C1230.8,339.0 1232.5,338.2 1234.1,337.5 C1235.8,336.8 1237.5,336.1 1239.2,335.5 C1240.9,334.9 1242.5,334.3 1244.2,333.8 C1245.9,333.3 1247.6,332.9 1249.3,332.5 C1250.9,332.1 1252.6,331.8 1254.3,331.5 C1256.0,331.2 1257.7,331.0 1259.4,330.9 C1261.0,330.7 1263.6,330.7 1264.4,330.6" fill="none" stroke="#0000f5" stroke-width="2.5" stroke-linejoin="round" stroke-linecap="round" clip-path="url(#clipB)"/>
<path d="M928.4,240.6 C929.2,239.9 931.7,237.7 933.4,236.3 C935.1,234.9 936.8,233.5 938.4,232.0 C940.1,230.6 941.8,229.2 943.4,227.8 C945.1,226.3 946.8,224.9 948.5,223.5 C950.1,222.1 951.8,220.7 953.5,219.3 C955.1,217.9 956.8,216.5 958.5,215.1 C960.2,213.7 961.8,212.3 963.5,210.9 C965.2,209.5 966.8,208.1 968.5,206.7 C970.2,205.4 971.9,204.0 973.5,202.6 C975.2,201.2 976.9,199.9 978.5,198.5 C980.2,197.1 981.9,195.8 983.6,194.4 C985.2,193.1 986.9,191.7 988.6,190.4 C990.3,189.0 991.9,187.7 993.6,186.4 C995.3,185.0 996.9,183.7 998.6,182.4 C1000.3,181.1 1002.0,179.7 1003.6,178.4 C1005.3,177.1 1007.0,175.8 1008.6,174.5 C1010.3,173.2 1012.0,171.9 1013.7,170.7 C1015.3,169.4 1017.0,168.1 1018.7,166.8 C1020.3,165.6 1022.0,164.3 1023.7,163.0 C1025.4,161.8 1027.0,160.5 1028.7,159.3 C1030.4,158.0 1032.0,156.8 1033.7,155.6 C1035.4,154.4 1037.1,153.1 1038.7,151.9 C1040.4,150.7 1042.1,149.5 1043.7,148.3 C1045.4,147.1 1047.1,145.9 1048.8,144.8 C1050.4,143.6 1052.1,142.4 1053.8,141.2 C1055.4,140.1 1057.1,138.9 1058.8,137.8 C1060.5,136.6 1062.1,135.5 1063.8,134.4 C1065.5,133.3 1067.1,132.1 1068.8,131.0 C1070.5,129.9 1072.2,128.8 1073.8,127.7 C1075.5,126.6 1077.2,125.6 1078.8,124.5 C1080.5,123.4 1082.2,122.4 1083.9,121.3 C1085.5,120.3 1087.2,119.2 1088.9,118.2 C1090.5,117.2 1092.2,116.1 1093.9,115.1 C1095.6,114.1 1097.2,113.1 1098.9,112.1 C1100.6,111.1 1102.3,110.2 1103.9,109.2 C1105.6,108.2 1107.3,107.3 1108.9,106.3 C1110.6,105.4 1112.3,104.5 1114.0,103.6 C1115.6,102.6 1117.3,101.7 1119.0,100.8 C1120.6,99.9 1122.3,99.0 1124.0,98.2 C1125.7,97.3 1127.3,96.4 1129.0,95.6 C1130.7,94.7 1132.3,93.9 1134.0,93.1 C1135.7,92.3 1137.4,91.4 1139.0,90.7 C1140.7,89.9 1142.4,89.1 1144.0,88.3 C1145.7,87.5 1147.4,86.8 1149.1,86.0 C1150.7,85.3 1152.4,84.5 1154.1,83.8 C1155.7,83.1 1157.4,82.4 1159.1,81.7 C1160.8,81.0 1162.4,80.3 1164.1,79.7 C1165.8,79.0 1167.4,78.4 1169.1,77.7 C1170.8,77.1 1172.5,76.5 1174.1,75.9 C1175.8,75.3 1177.5,74.7 1179.1,74.1 C1180.8,73.5 1182.5,73.0 1184.2,72.4 C1185.8,71.9 1187.5,71.3 1189.2,70.8 C1190.8,70.3 1192.5,69.8 1194.2,69.3 C1195.9,68.8 1197.5,68.4 1199.2,67.9 C1200.9,67.5 1202.5,67.0 1204.2,66.6 C1205.9,66.2 1207.6,65.8 1209.2,65.4 C1210.9,65.0 1212.6,64.6 1214.3,64.3 C1215.9,63.9 1217.6,63.6 1219.3,63.2 C1220.9,62.9 1222.6,62.6 1224.3,62.3 C1226.0,62.0 1227.6,61.8 1229.3,61.5 C1231.0,61.2 1232.6,61.0 1234.3,60.8 C1236.0,60.6 1237.7,60.4 1239.3,60.2 C1241.0,60.0 1242.7,59.8 1244.3,59.7 C1246.0,59.5 1247.7,59.4 1249.4,59.3 C1251.0,59.2 1252.7,59.1 1254.4,59.0 C1256.0,58.9 1257.7,58.9 1259.4,58.8 C1261.1,58.8 1263.6,58.8 1264.4,58.8" fill="none" stroke="#0000f5" stroke-width="2.5" stroke-linejoin="round" stroke-linecap="round" clip-path="url(#clipB)"/>
<path d="M1052.0,-3.7 C1052.8,-2.9 1055.4,-0.5 1057.1,1.1 C1058.7,2.6 1060.4,4.2 1062.1,5.8 C1063.8,7.3 1065.5,8.9 1067.2,10.4 C1068.9,12.0 1070.5,13.5 1072.2,15.0 C1073.9,16.6 1075.6,18.1 1077.3,19.6 C1079.0,21.1 1080.7,22.6 1082.3,24.2 C1084.0,25.7 1085.7,27.2 1087.4,28.7 C1089.1,30.2 1090.8,31.7 1092.5,33.2 C1094.1,34.6 1095.8,36.1 1097.5,37.6 C1099.2,39.1 1100.9,40.6 1102.6,42.1 C1104.3,43.5 1105.9,45.0 1107.6,46.5 C1109.3,48.0 1111.0,49.4 1112.7,50.9 C1114.4,52.4 1116.1,53.8 1117.7,55.3 C1119.4,56.8 1121.1,58.2 1122.8,59.7 C1124.5,61.2 1126.2,62.6 1127.9,64.1 C1129.5,65.5 1131.2,67.0 1132.9,68.5 C1134.6,69.9 1136.3,71.4 1138.0,72.8 C1139.7,74.3 1141.3,75.8 1143.0,77.2 C1144.7,78.7 1146.4,80.1 1148.1,81.6 C1149.8,83.1 1151.5,84.5 1153.1,86.0 C1154.8,87.5 1156.5,88.9 1158.2,90.4 C1159.9,91.9 1161.6,93.3 1163.3,94.8 C1164.9,96.2 1166.6,97.7 1168.3,99.2 C1170.0,100.6 1171.7,102.0 1173.4,103.5 C1175.1,104.9 1176.7,106.3 1178.4,107.7 C1180.1,109.1 1181.8,110.5 1183.5,111.9 C1185.2,113.2 1186.9,114.6 1188.5,115.9 C1190.2,117.2 1191.9,118.6 1193.6,119.8 C1195.3,121.1 1197.0,122.4 1198.7,123.6 C1200.3,124.9 1202.0,126.1 1203.7,127.3 C1205.4,128.4 1207.1,129.6 1208.8,130.7 C1210.5,131.8 1212.1,132.9 1213.8,133.9 C1215.5,135.0 1217.2,136.0 1218.9,137.0 C1220.6,137.9 1222.3,138.9 1223.9,139.7 C1225.6,140.6 1227.3,141.5 1229.0,142.3 C1230.7,143.1 1232.4,143.8 1234.1,144.5 C1235.7,145.2 1237.4,145.9 1239.1,146.5 C1240.8,147.1 1242.5,147.6 1244.2,148.1 C1245.9,148.6 1247.5,149.1 1249.2,149.4 C1250.9,149.8 1252.6,150.1 1254.3,150.4 C1256.0,150.7 1257.7,150.9 1259.3,151.0 C1261.0,151.1 1263.6,151.2 1264.4,151.2" fill="none" stroke="#0000f5" stroke-width="2.5" stroke-linejoin="round" stroke-linecap="round" clip-path="url(#clipB)"/>
<path d="M928.4,239.6 C929.2,240.3 931.7,242.3 933.4,243.6 C935.1,244.9 936.8,246.3 938.4,247.6 C940.1,248.9 941.8,250.3 943.4,251.6 C945.1,253.0 946.8,254.3 948.5,255.7 C950.1,257.0 951.8,258.4 953.5,259.7 C955.1,261.1 956.8,262.4 958.5,263.8 C960.2,265.1 961.8,266.5 963.5,267.8 C965.2,269.2 966.8,270.5 968.5,271.9 C970.2,273.2 971.9,274.6 973.5,275.9 C975.2,277.3 976.9,278.6 978.5,280.0 C980.2,281.3 981.9,282.7 983.6,284.0 C985.2,285.4 986.9,286.7 988.6,288.1 C990.3,289.4 991.9,290.8 993.6,292.1 C995.3,293.4 996.9,294.8 998.6,296.1 C1000.3,297.5 1002.0,298.8 1003.6,300.1 C1005.3,301.4 1007.0,302.8 1008.6,304.1 C1010.3,305.4 1012.0,306.7 1013.7,308.1 C1015.3,309.4 1017.0,310.7 1018.7,312.0 C1020.3,313.3 1022.0,314.6 1023.7,315.9 C1025.4,317.2 1027.0,318.5 1028.7,319.8 C1030.4,321.1 1032.0,322.4 1033.7,323.6 C1035.4,324.9 1037.1,326.2 1038.7,327.5 C1040.4,328.7 1042.1,330.0 1043.7,331.2 C1045.4,332.5 1047.1,333.7 1048.8,335.0 C1050.4,336.2 1052.1,337.4 1053.8,338.7 C1055.4,339.9 1057.1,341.1 1058.8,342.3 C1060.5,343.5 1062.1,344.7 1063.8,345.9 C1065.5,347.1 1067.1,348.3 1068.8,349.5 C1070.5,350.6 1072.2,351.8 1073.8,353.0 C1075.5,354.1 1077.2,355.3 1078.8,356.4 C1080.5,357.6 1082.2,358.7 1083.9,359.8 C1085.5,360.9 1087.2,362.0 1088.9,363.1 C1090.5,364.2 1092.2,365.3 1093.9,366.4 C1095.6,367.5 1097.2,368.5 1098.9,369.6 C1100.6,370.6 1102.3,371.7 1103.9,372.7 C1105.6,373.7 1107.3,374.8 1108.9,375.8 C1110.6,376.8 1112.3,377.8 1114.0,378.8 C1115.6,379.7 1117.3,380.7 1119.0,381.7 C1120.6,382.6 1122.3,383.6 1124.0,384.5 C1125.7,385.4 1127.3,386.3 1129.0,387.2 C1130.7,388.1 1132.3,389.0 1134.0,389.9 C1135.7,390.8 1137.4,391.6 1139.0,392.5 C1140.7,393.3 1142.4,394.1 1144.0,395.0 C1145.7,395.8 1147.4,396.6 1149.1,397.4 C1150.7,398.1 1152.4,398.9 1154.1,399.7 C1155.7,400.4 1157.4,401.2 1159.1,401.9 C1160.8,402.6 1162.4,403.3 1164.1,404.0 C1165.8,404.7 1167.4,405.4 1169.1,406.0 C1170.8,406.7 1172.5,407.4 1174.1,408.0 C1175.8,408.6 1177.5,409.2 1179.1,409.8 C1180.8,410.4 1182.5,411.0 1184.2,411.6 C1185.8,412.1 1187.5,412.7 1189.2,413.2 C1190.8,413.7 1192.5,414.3 1194.2,414.8 C1195.9,415.3 1197.5,415.7 1199.2,416.2 C1200.9,416.7 1202.5,417.1 1204.2,417.5 C1205.9,418.0 1207.6,418.4 1209.2,418.8 C1210.9,419.2 1212.6,419.6 1214.3,419.9 C1215.9,420.3 1217.6,420.6 1219.3,421.0 C1220.9,421.3 1222.6,421.6 1224.3,421.9 C1226.0,422.2 1227.6,422.5 1229.3,422.7 C1231.0,423.0 1232.6,423.2 1234.3,423.4 C1236.0,423.6 1237.7,423.8 1239.3,424.0 C1241.0,424.2 1242.7,424.4 1244.3,424.5 C1246.0,424.7 1247.7,424.8 1249.4,424.9 C1251.0,425.0 1252.7,425.1 1254.4,425.2 C1256.0,425.2 1257.7,425.3 1259.4,425.3 C1261.1,425.3 1263.6,425.3 1264.4,425.3" fill="none" stroke="#0000f5" stroke-width="2.5" stroke-linejoin="round" stroke-linecap="round" clip-path="url(#clipB)"/>
<path d="M1015.30,407.10 L973.10,334.01 L888.70,334.01 L846.50,407.10 L888.70,480.19 L973.10,480.19 Z" fill="#0000f8" stroke="#202040" stroke-width="0.6"/>
<g clip-path="url(#kagB)"><path d="M930.90,334.01 L867.60,443.65 L994.20,443.65 Z M930.90,480.19 L994.20,370.55 L867.60,370.55 Z" fill="#fff" stroke="#fff" stroke-width="2.2" stroke-linejoin="miter"/></g>
<path d="M971.50,407.10 L951.20,371.94 L910.60,371.94 L890.30,407.10 L910.60,442.26 L951.20,442.26 Z" fill="#0000f8" stroke="#202040" stroke-width="0.6"/>
<rect x="734.8" y="4.2" width="529.6000000000001" height="530.1999999999999" fill="none" stroke="#000" stroke-width="2.4"/>
<line x1="734.8" y1="475.7" x2="744.3" y2="475.7" stroke="#000" stroke-width="2.4"/>
<line x1="734.8" y1="416.7" x2="752.8" y2="416.7" stroke="#000" stroke-width="2.4"/>
<line x1="734.8" y1="357.8" x2="744.3" y2="357.8" stroke="#000" stroke-width="2.4"/>
<line x1="734.8" y1="298.8" x2="752.8" y2="298.8" stroke="#000" stroke-width="2.4"/>
<line x1="734.8" y1="239.9" x2="744.3" y2="239.9" stroke="#000" stroke-width="2.4"/>
<line x1="734.8" y1="180.9" x2="752.8" y2="180.9" stroke="#000" stroke-width="2.4"/>
<line x1="734.8" y1="122.0" x2="744.3" y2="122.0" stroke="#000" stroke-width="2.4"/>
<line x1="734.8" y1="63.0" x2="752.8" y2="63.0" stroke="#000" stroke-width="2.4"/>
<text transform="translate(692.7,543.2) scale(0.9,1)" font-family="Liberation Serif" font-size="36">14</text>
<text transform="translate(692.7,429.1) scale(0.9,1)" font-family="Liberation Serif" font-size="36">15</text>
<text transform="translate(692.7,307.2) scale(0.9,1)" font-family="Liberation Serif" font-size="36">16</text>
<text transform="translate(692.7,194.7) scale(0.9,1)" font-family="Liberation Serif" font-size="36">17</text>
<text transform="translate(692.7,73.0) scale(0.9,1)" font-family="Liberation Serif" font-size="36">18</text>
<circle cx="928.4" cy="240.7" r="8.7" fill="url(#gsph)" stroke="#111" stroke-width="1.6"/>
<text x="969.2" y="249.0" font-family="Liberation Serif" font-size="34.5" text-anchor="start" fill="#000">double Dirac cones</text>
<text x="1170.5" y="526.8" font-family="Liberation Serif" font-size="40.5" text-anchor="start" fill="#000">SC-I</text>
<g clip-path="url(#hC)" stroke="#e25656" stroke-width="1.25"><line x1="-192.0" y1="998.0" x2="46.6" y2="759.4"/><line x1="-167.5" y1="998.0" x2="71.1" y2="759.4"/><line x1="-142.9" y1="998.0" x2="95.7" y2="759.4"/><line x1="-118.4" y1="998.0" x2="120.2" y2="759.4"/><line x1="-93.9" y1="998.0" x2="144.8" y2="759.4"/><line x1="-69.3" y1="998.0" x2="169.3" y2="759.4"/><line x1="-44.8" y1="998.0" x2="193.9" y2="759.4"/><line x1="-20.2" y1="998.0" x2="218.4" y2="759.4"/><line x1="4.4" y1="998.0" x2="243.0" y2="759.4"/><line x1="28.9" y1="998.0" x2="267.5" y2="759.4"/><line x1="53.5" y1="998.0" x2="292.1" y2="759.4"/><line x1="78.0" y1="998.0" x2="316.6" y2="759.4"/><line x1="102.5" y1="998.0" x2="341.1" y2="759.4"/><line x1="127.1" y1="998.0" x2="365.7" y2="759.4"/><line x1="151.7" y1="998.0" x2="390.3" y2="759.4"/><line x1="176.2" y1="998.0" x2="414.8" y2="759.4"/><line x1="200.8" y1="998.0" x2="439.4" y2="759.4"/><line x1="225.3" y1="998.0" x2="463.9" y2="759.4"/><line x1="249.8" y1="998.0" x2="488.4" y2="759.4"/><line x1="274.4" y1="998.0" x2="513.0" y2="759.4"/><line x1="299.0" y1="998.0" x2="537.6" y2="759.4"/><line x1="323.5" y1="998.0" x2="562.1" y2="759.4"/><line x1="348.0" y1="998.0" x2="586.6" y2="759.4"/><line x1="372.6" y1="998.0" x2="611.2" y2="759.4"/><line x1="397.2" y1="998.0" x2="635.8" y2="759.4"/><line x1="421.7" y1="998.0" x2="660.3" y2="759.4"/><line x1="446.2" y1="998.0" x2="684.9" y2="759.4"/><line x1="470.8" y1="998.0" x2="709.4" y2="759.4"/><line x1="495.3" y1="998.0" x2="733.9" y2="759.4"/><line x1="519.9" y1="998.0" x2="758.5" y2="759.4"/><line x1="544.5" y1="998.0" x2="783.1" y2="759.4"/><line x1="569.0" y1="998.0" x2="807.6" y2="759.4"/><line x1="593.6" y1="998.0" x2="832.2" y2="759.4"/><line x1="618.1" y1="998.0" x2="856.7" y2="759.4"/><line x1="642.7" y1="998.0" x2="881.3" y2="759.4"/><line x1="667.2" y1="998.0" x2="905.8" y2="759.4"/></g>
<line x1="93.5" y1="761.4" x2="625.8" y2="761.4" stroke="#e06262" stroke-width="1.2"/>
<line x1="93.5" y1="996.0" x2="625.8" y2="996.0" stroke="#e06262" stroke-width="1.2"/>
<line x1="288.3" y1="636.1" x2="288.3" y2="1163.9" stroke="#000" stroke-width="2.5" stroke-dasharray="9.8 11.7" stroke-linecap="round"/>
<line x1="513.4" y1="636.1" x2="513.4" y2="1163.9" stroke="#000" stroke-width="2.5" stroke-dasharray="9.8 11.7" stroke-linecap="round"/>
<path d="M93.5,644.8 C94.4,644.9 96.9,644.9 98.6,645.3 C100.3,645.6 102.0,646.2 103.8,646.9 C105.5,647.6 107.2,648.5 108.9,649.6 C110.6,650.6 112.3,651.9 114.0,653.2 C115.7,654.5 117.4,656.0 119.1,657.5 C120.8,659.0 122.5,660.6 124.3,662.3 C126.0,664.0 127.7,665.7 129.4,667.4 C131.1,669.1 132.8,670.9 134.5,672.6 C136.2,674.3 137.9,676.0 139.6,677.7 C141.3,679.4 143.1,681.0 144.8,682.7 C146.5,684.4 148.2,686.0 149.9,687.6 C151.6,689.3 153.3,690.9 155.0,692.5 C156.7,694.1 158.4,695.7 160.1,697.2 C161.9,698.8 163.6,700.4 165.3,701.9 C167.0,703.4 168.7,704.9 170.4,706.4 C172.1,707.9 173.8,709.4 175.5,710.8 C177.2,712.2 178.9,713.6 180.6,715.0 C182.4,716.4 184.1,717.8 185.8,719.1 C187.5,720.5 189.2,721.8 190.9,723.1 C192.6,724.4 194.3,725.6 196.0,726.8 C197.7,728.1 199.4,729.3 201.2,730.4 C202.9,731.6 204.6,732.8 206.3,733.9 C208.0,735.0 209.7,736.1 211.4,737.1 C213.1,738.2 214.8,739.2 216.5,740.2 C218.2,741.2 219.9,742.1 221.7,743.1 C223.4,744.0 225.1,744.9 226.8,745.8 C228.5,746.6 230.2,747.5 231.9,748.3 C233.6,749.1 235.3,749.9 237.0,750.6 C238.7,751.3 240.5,752.0 242.2,752.7 C243.9,753.4 245.6,754.0 247.3,754.6 C249.0,755.2 250.7,755.8 252.4,756.4 C254.1,756.9 255.8,757.4 257.5,757.9 C259.3,758.3 261.0,758.8 262.7,759.2 C264.4,759.6 266.1,759.9 267.8,760.3 C269.5,760.6 271.2,760.9 272.9,761.1 C274.6,761.4 276.3,761.6 278.0,761.8 C279.8,762.0 281.5,762.1 283.2,762.2 C284.9,762.4 287.4,762.4 288.3,762.5" fill="none" stroke="#0000f5" stroke-width="2.5" stroke-linejoin="round" stroke-linecap="round" clip-path="url(#clipC)"/>
<path d="M93.5,724.3 C94.4,724.3 96.9,724.4 98.6,724.4 C100.3,724.5 102.0,724.5 103.8,724.6 C105.5,724.7 107.2,724.8 108.9,724.9 C110.6,725.1 112.3,725.2 114.0,725.4 C115.7,725.5 117.4,725.7 119.1,725.9 C120.8,726.1 122.5,726.3 124.3,726.6 C126.0,726.8 127.7,727.1 129.4,727.3 C131.1,727.6 132.8,727.9 134.5,728.2 C136.2,728.5 137.9,728.9 139.6,729.2 C141.3,729.6 143.1,729.9 144.8,730.3 C146.5,730.7 148.2,731.0 149.9,731.4 C151.6,731.8 153.3,732.2 155.0,732.6 C156.7,733.1 158.4,733.5 160.1,733.9 C161.9,734.3 163.6,734.8 165.3,735.2 C167.0,735.7 168.7,736.1 170.4,736.6 C172.1,737.0 173.8,737.5 175.5,738.0 C177.2,738.4 178.9,738.9 180.6,739.4 C182.4,739.8 184.1,740.3 185.8,740.8 C187.5,741.2 189.2,741.7 190.9,742.2 C192.6,742.6 194.3,743.1 196.0,743.6 C197.7,744.0 199.4,744.5 201.2,744.9 C202.9,745.4 204.6,745.8 206.3,746.3 C208.0,746.7 209.7,747.1 211.4,747.6 C213.1,748.0 214.8,748.4 216.5,748.8 C218.2,749.3 219.9,749.7 221.7,750.1 C223.4,750.5 225.1,750.9 226.8,751.2 C228.5,751.6 230.2,752.0 231.9,752.4 C233.6,752.7 235.3,753.1 237.0,753.5 C238.7,753.8 240.5,754.1 242.2,754.5 C243.9,754.8 245.6,755.1 247.3,755.4 C249.0,755.7 250.7,756.0 252.4,756.3 C254.1,756.6 255.8,756.8 257.5,757.1 C259.3,757.3 261.0,757.6 262.7,757.8 C264.4,758.0 266.1,758.2 267.8,758.4 C269.5,758.6 271.2,758.8 272.9,759.0 C274.6,759.2 276.3,759.3 278.0,759.4 C279.8,759.6 281.5,759.7 283.2,759.8 C284.9,759.9 287.4,760.0 288.3,760.0" fill="none" stroke="#0000f5" stroke-width="2.5" stroke-linejoin="round" stroke-linecap="round" clip-path="url(#clipC)"/>
<path d="M288.3,759.5 C289.1,759.4 291.6,759.4 293.3,759.4 C295.0,759.3 296.6,759.2 298.3,759.1 C300.0,758.9 301.6,758.8 303.3,758.6 C305.0,758.4 306.6,758.1 308.3,757.8 C310.0,757.6 311.6,757.3 313.3,756.9 C315.0,756.6 316.6,756.2 318.3,755.8 C320.0,755.5 321.6,755.0 323.3,754.6 C325.0,754.1 326.7,753.7 328.3,753.1 C330.0,752.6 331.7,752.1 333.3,751.6 C335.0,751.0 336.7,750.4 338.3,749.8 C340.0,749.2 341.7,748.6 343.3,747.9 C345.0,747.3 346.7,746.6 348.3,745.9 C350.0,745.2 351.7,744.5 353.3,743.8 C355.0,743.0 356.7,742.3 358.3,741.5 C360.0,740.8 361.7,740.0 363.3,739.2 C365.0,738.4 366.7,737.6 368.3,736.8 C370.0,735.9 371.7,735.1 373.3,734.3 C375.0,733.4 376.7,732.6 378.3,731.7 C380.0,730.8 381.7,730.0 383.3,729.1 C385.0,728.2 386.7,727.3 388.3,726.4 C390.0,725.5 391.7,724.7 393.3,723.8 C395.0,722.9 396.7,722.0 398.3,721.1 C400.0,720.2 401.7,719.2 403.4,718.3 C405.0,717.4 406.7,716.5 408.4,715.6 C410.0,714.7 411.7,713.8 413.4,712.9 C415.0,712.0 416.7,711.1 418.4,710.2 C420.0,709.3 421.7,708.4 423.4,707.5 C425.0,706.5 426.7,705.6 428.4,704.7 C430.0,703.8 431.7,702.9 433.4,702.0 C435.0,701.1 436.7,700.2 438.4,699.3 C440.0,698.5 441.7,697.6 443.4,696.7 C445.0,695.8 446.7,694.9 448.4,694.0 C450.0,693.1 451.7,692.3 453.4,691.4 C455.0,690.5 456.7,689.7 458.4,688.8 C460.0,687.9 461.7,687.1 463.4,686.2 C465.0,685.4 466.7,684.6 468.4,683.7 C470.0,682.9 471.7,682.1 473.4,681.2 C475.0,680.4 476.7,679.6 478.4,678.8 C480.1,678.0 481.7,677.2 483.4,676.4 C485.1,675.6 486.7,674.8 488.4,674.1 C490.1,673.3 491.7,672.5 493.4,671.8 C495.1,671.0 496.7,670.3 498.4,669.5 C500.1,668.8 501.7,668.1 503.4,667.4 C505.1,666.7 506.7,666.0 508.4,665.3 C510.1,664.6 512.6,663.6 513.4,663.2" fill="none" stroke="#0000f5" stroke-width="2.5" stroke-linejoin="round" stroke-linecap="round" clip-path="url(#clipC)"/>
<path d="M288.3,760.5 C289.1,760.5 291.6,760.5 293.3,760.4 C295.0,760.4 296.6,760.3 298.3,760.2 C300.0,760.0 301.6,759.9 303.3,759.7 C305.0,759.5 306.6,759.3 308.3,759.0 C310.0,758.8 311.6,758.5 313.3,758.2 C315.0,757.9 316.6,757.6 318.3,757.3 C320.0,756.9 321.6,756.5 323.3,756.1 C325.0,755.7 326.7,755.3 328.3,754.8 C330.0,754.4 331.7,753.9 333.3,753.4 C335.0,752.9 336.7,752.4 338.3,751.9 C340.0,751.4 341.7,750.8 343.3,750.2 C345.0,749.6 346.7,749.1 348.3,748.4 C350.0,747.8 351.7,747.2 353.3,746.6 C355.0,745.9 356.7,745.3 358.3,744.6 C360.0,743.9 361.7,743.2 363.3,742.5 C365.0,741.8 366.7,741.1 368.3,740.4 C370.0,739.6 371.7,738.9 373.3,738.1 C375.0,737.4 376.7,736.6 378.3,735.8 C380.0,735.1 381.7,734.3 383.3,733.5 C385.0,732.7 386.7,731.9 388.3,731.1 C390.0,730.3 391.7,729.4 393.3,728.6 C395.0,727.8 396.7,727.0 398.3,726.1 C400.0,725.3 401.7,724.5 403.4,723.6 C405.0,722.8 406.7,721.9 408.4,721.1 C410.0,720.2 411.7,719.4 413.4,718.5 C415.0,717.6 416.7,716.8 418.4,715.9 C420.0,715.0 421.7,714.2 423.4,713.3 C425.0,712.4 426.7,711.5 428.4,710.6 C430.0,709.7 431.7,708.8 433.4,708.0 C435.0,707.1 436.7,706.2 438.4,705.3 C440.0,704.4 441.7,703.4 443.4,702.5 C445.0,701.6 446.7,700.7 448.4,699.8 C450.0,698.9 451.7,698.0 453.4,697.0 C455.0,696.1 456.7,695.2 458.4,694.3 C460.0,693.3 461.7,692.4 463.4,691.5 C465.0,690.5 466.7,689.6 468.4,688.7 C470.0,687.7 471.7,686.8 473.4,685.8 C475.0,684.9 476.7,683.9 478.4,683.0 C480.1,682.0 481.7,681.1 483.4,680.1 C485.1,679.2 486.7,678.2 488.4,677.3 C490.1,676.3 491.7,675.4 493.4,674.4 C495.1,673.5 496.7,672.5 498.4,671.5 C500.1,670.6 501.7,669.6 503.4,668.7 C505.1,667.7 506.7,666.7 508.4,665.8 C510.1,664.8 512.6,663.4 513.4,662.9" fill="none" stroke="#0000f5" stroke-width="2.5" stroke-linejoin="round" stroke-linecap="round" clip-path="url(#clipC)"/>
<path d="M513.4,662.6 C514.3,662.4 516.8,661.5 518.5,661.0 C520.2,660.5 521.9,659.9 523.6,659.4 C525.3,658.9 527.0,658.4 528.7,657.9 C530.4,657.5 532.1,657.0 533.8,656.5 C535.5,656.1 537.2,655.6 538.9,655.2 C540.6,654.8 542.4,654.3 544.1,653.9 C545.8,653.5 547.5,653.1 549.2,652.8 C550.9,652.4 552.6,652.0 554.3,651.6 C556.0,651.3 557.7,650.9 559.4,650.6 C561.1,650.3 562.8,650.0 564.5,649.7 C566.2,649.4 567.9,649.1 569.6,648.8 C571.3,648.5 573.0,648.2 574.7,648.0 C576.4,647.7 578.1,647.5 579.8,647.3 C581.5,647.0 583.2,646.8 584.9,646.6 C586.6,646.4 588.3,646.2 590.0,646.0 C591.7,645.9 593.4,645.7 595.1,645.5 C596.8,645.4 598.6,645.2 600.3,645.1 C602.0,645.0 603.7,644.9 605.4,644.8 C607.1,644.7 608.8,644.6 610.5,644.5 C612.2,644.4 613.9,644.4 615.6,644.3 C617.3,644.3 619.0,644.2 620.7,644.2 C622.4,644.2 624.9,644.2 625.8,644.2" fill="none" stroke="#0000f5" stroke-width="2.5" stroke-linejoin="round" stroke-linecap="round" clip-path="url(#clipC)"/>
<path d="M513.4,662.2 C514.3,662.7 516.8,664.4 518.5,665.5 C520.2,666.6 521.9,667.8 523.6,669.0 C525.3,670.1 527.0,671.3 528.7,672.5 C530.4,673.7 532.1,675.0 533.8,676.2 C535.5,677.4 537.2,678.7 538.9,680.0 C540.6,681.2 542.4,682.5 544.1,683.7 C545.8,685.0 547.5,686.2 549.2,687.5 C550.9,688.8 552.6,690.0 554.3,691.2 C556.0,692.5 557.7,693.7 559.4,694.9 C561.1,696.2 562.8,697.4 564.5,698.5 C566.2,699.7 567.9,700.9 569.6,702.0 C571.3,703.2 573.0,704.3 574.7,705.4 C576.4,706.5 578.1,707.5 579.8,708.5 C581.5,709.6 583.2,710.6 584.9,711.5 C586.6,712.4 588.3,713.4 590.0,714.2 C591.7,715.1 593.4,715.9 595.1,716.7 C596.8,717.4 598.6,718.2 600.3,718.8 C602.0,719.5 603.7,720.1 605.4,720.7 C607.1,721.2 608.8,721.7 610.5,722.2 C612.2,722.6 613.9,723.0 615.6,723.2 C617.3,723.5 619.0,723.8 620.7,723.9 C622.4,724.1 624.9,724.1 625.8,724.2" fill="none" stroke="#0000f5" stroke-width="2.5" stroke-linejoin="round" stroke-linecap="round" clip-path="url(#clipC)"/>
<path d="M93.5,998.6 C94.3,998.6 96.8,998.6 98.5,998.6 C100.2,998.6 101.9,998.6 103.5,998.6 C105.2,998.6 106.9,998.6 108.6,998.6 C110.2,998.6 111.9,998.6 113.6,998.6 C115.3,998.6 116.9,998.6 118.6,998.6 C120.3,998.6 122.0,998.6 123.6,998.6 C125.3,998.6 127.0,998.6 128.7,998.6 C130.3,998.6 132.0,998.6 133.7,998.6 C135.3,998.6 137.0,998.6 138.7,998.6 C140.4,998.6 142.0,998.6 143.7,998.6 C145.4,998.6 147.1,998.6 148.7,998.6 C150.4,998.6 152.1,998.6 153.8,998.6 C155.4,998.6 157.1,998.6 158.8,998.5 C160.5,998.5 162.1,998.5 163.8,998.5 C165.5,998.5 167.2,998.5 168.8,998.5 C170.5,998.5 172.2,998.5 173.8,998.5 C175.5,998.4 177.2,998.4 178.9,998.4 C180.5,998.4 182.2,998.4 183.9,998.4 C185.6,998.4 187.2,998.4 188.9,998.3 C190.6,998.3 192.3,998.3 193.9,998.3 C195.6,998.3 197.3,998.3 199.0,998.3 C200.6,998.2 202.3,998.2 204.0,998.2 C205.7,998.2 207.3,998.2 209.0,998.2 C210.7,998.1 212.3,998.1 214.0,998.1 C215.7,998.1 217.4,998.1 219.0,998.0 C220.7,998.0 222.4,998.0 224.1,998.0 C225.7,998.0 227.4,998.0 229.1,997.9 C230.8,997.9 232.4,997.9 234.1,997.9 C235.8,997.9 237.5,997.9 239.1,997.8 C240.8,997.8 242.5,997.8 244.2,997.8 C245.8,997.8 247.5,997.8 249.2,997.8 C250.8,997.7 252.5,997.7 254.2,997.7 C255.9,997.7 257.5,997.7 259.2,997.7 C260.9,997.7 262.6,997.7 264.2,997.7 C265.9,997.6 267.6,997.6 269.3,997.6 C270.9,997.6 272.6,997.6 274.3,997.6 C276.0,997.6 277.6,997.6 279.3,997.6 C281.0,997.6 282.7,997.6 284.3,997.6 C286.0,997.6 287.7,997.6 289.3,997.6 C291.0,997.6 292.7,997.6 294.4,997.6 C296.0,997.6 297.7,997.6 299.4,997.6 C301.1,997.6 302.7,997.6 304.4,997.6 C306.1,997.6 307.8,997.6 309.4,997.6 C311.1,997.6 312.8,997.6 314.5,997.7 C316.1,997.7 317.8,997.7 319.5,997.7 C321.2,997.7 322.8,997.7 324.5,997.7 C326.2,997.7 327.8,997.8 329.5,997.8 C331.2,997.8 332.9,997.8 334.5,997.8 C336.2,997.8 337.9,997.9 339.6,997.9 C341.2,997.9 342.9,997.9 344.6,997.9 C346.3,998.0 347.9,998.0 349.6,998.0 C351.3,998.0 353.0,998.1 354.6,998.1 C356.3,998.1 358.0,998.1 359.6,998.1 C361.3,998.2 363.0,998.2 364.7,998.2 C366.3,998.2 368.0,998.3 369.7,998.3 C371.4,998.3 373.0,998.3 374.7,998.4 C376.4,998.4 378.1,998.4 379.7,998.5 C381.4,998.5 383.1,998.5 384.8,998.5 C386.4,998.6 388.1,998.6 389.8,998.6 C391.5,998.7 393.1,998.7 394.8,998.7 C396.5,998.7 398.1,998.8 399.8,998.8 C401.5,998.8 403.2,998.9 404.8,998.9 C406.5,998.9 408.2,998.9 409.9,999.0 C411.5,999.0 413.2,999.0 414.9,999.1 C416.6,999.1 418.2,999.1 419.9,999.2 C421.6,999.2 423.3,999.2 424.9,999.2 C426.6,999.3 428.3,999.3 430.0,999.3 C431.6,999.4 433.3,999.4 435.0,999.4 C436.6,999.5 438.3,999.5 440.0,999.5 C441.7,999.5 443.3,999.6 445.0,999.6 C446.7,999.6 448.4,999.7 450.0,999.7 C451.7,999.7 453.4,999.7 455.1,999.8 C456.7,999.8 458.4,999.8 460.1,999.8 C461.8,999.9 463.4,999.9 465.1,999.9 C466.8,999.9 468.5,1000.0 470.1,1000.0 C471.8,1000.0 473.5,1000.1 475.1,1000.1 C476.8,1000.1 478.5,1000.1 480.2,1000.2 C481.8,1000.2 483.5,1000.2 485.2,1000.2 C486.9,1000.3 488.5,1000.3 490.2,1000.3 C491.9,1000.3 493.6,1000.3 495.2,1000.4 C496.9,1000.4 498.6,1000.4 500.3,1000.4 C501.9,1000.5 503.6,1000.5 505.3,1000.5 C507.0,1000.5 508.6,1000.5 510.3,1000.6 C512.0,1000.6 513.6,1000.6 515.3,1000.6 C517.0,1000.7 518.7,1000.7 520.3,1000.7 C522.0,1000.7 523.7,1000.7 525.4,1000.7 C527.0,1000.8 528.7,1000.8 530.4,1000.8 C532.1,1000.8 533.7,1000.8 535.4,1000.9 C537.1,1000.9 538.8,1000.9 540.4,1000.9 C542.1,1000.9 543.8,1000.9 545.5,1001.0 C547.1,1001.0 548.8,1001.0 550.5,1001.0 C552.1,1001.0 553.8,1001.0 555.5,1001.1 C557.2,1001.1 558.8,1001.1 560.5,1001.1 C562.2,1001.1 563.9,1001.1 565.5,1001.1 C567.2,1001.2 568.9,1001.2 570.6,1001.2 C572.2,1001.2 573.9,1001.2 575.6,1001.2 C577.3,1001.2 578.9,1001.2 580.6,1001.3 C582.3,1001.3 584.0,1001.3 585.6,1001.3 C587.3,1001.3 589.0,1001.3 590.6,1001.3 C592.3,1001.3 594.0,1001.3 595.7,1001.3 C597.3,1001.3 599.0,1001.4 600.7,1001.4 C602.4,1001.4 604.0,1001.4 605.7,1001.4 C607.4,1001.4 609.1,1001.4 610.7,1001.4 C612.4,1001.4 614.1,1001.4 615.8,1001.4 C617.4,1001.4 619.1,1001.4 620.8,1001.4 C622.5,1001.4 625.0,1001.4 625.8,1001.4" fill="none" stroke="#0000f5" stroke-width="2.5" stroke-linejoin="round" stroke-linecap="round" clip-path="url(#clipC)"/>
<path d="M93.5,1092.8 C94.4,1092.7 96.9,1092.6 98.6,1092.5 C100.3,1092.3 102.0,1092.1 103.8,1091.8 C105.5,1091.5 107.2,1091.2 108.9,1090.7 C110.6,1090.3 112.3,1089.8 114.0,1089.2 C115.7,1088.7 117.4,1088.1 119.1,1087.4 C120.8,1086.7 122.5,1085.9 124.3,1085.1 C126.0,1084.3 127.7,1083.5 129.4,1082.5 C131.1,1081.6 132.8,1080.6 134.5,1079.6 C136.2,1078.5 137.9,1077.4 139.6,1076.3 C141.3,1075.1 143.1,1073.9 144.8,1072.7 C146.5,1071.5 148.2,1070.2 149.9,1068.9 C151.6,1067.6 153.3,1066.2 155.0,1064.8 C156.7,1063.5 158.4,1062.1 160.1,1060.7 C161.9,1059.3 163.6,1057.8 165.3,1056.4 C167.0,1055.0 168.7,1053.5 170.4,1052.1 C172.1,1050.6 173.8,1049.2 175.5,1047.7 C177.2,1046.3 178.9,1044.9 180.6,1043.5 C182.4,1042.1 184.1,1040.7 185.8,1039.3 C187.5,1037.9 189.2,1036.5 190.9,1035.2 C192.6,1033.9 194.3,1032.6 196.0,1031.4 C197.7,1030.1 199.4,1028.9 201.2,1027.7 C202.9,1026.5 204.6,1025.3 206.3,1024.2 C208.0,1023.1 209.7,1022.0 211.4,1020.9 C213.1,1019.8 214.8,1018.8 216.5,1017.8 C218.2,1016.8 219.9,1015.8 221.7,1014.9 C223.4,1014.0 225.1,1013.1 226.8,1012.2 C228.5,1011.3 230.2,1010.5 231.9,1009.7 C233.6,1008.9 235.3,1008.1 237.0,1007.4 C238.7,1006.7 240.5,1006.0 242.2,1005.3 C243.9,1004.6 245.6,1004.0 247.3,1003.4 C249.0,1002.8 250.7,1002.2 252.4,1001.7 C254.1,1001.2 255.8,1000.7 257.5,1000.2 C259.3,999.8 261.0,999.4 262.7,999.0 C264.4,998.6 266.1,998.2 267.8,997.9 C269.5,997.6 271.2,997.3 272.9,997.1 C274.6,996.9 276.3,996.7 278.0,996.5 C279.8,996.3 281.5,996.2 283.2,996.1 C284.9,996.0 287.4,995.9 288.3,995.9" fill="none" stroke="#0000f5" stroke-width="2.5" stroke-linejoin="round" stroke-linecap="round" clip-path="url(#clipC)"/>
<path d="M288.3,997.6 C289.1,997.6 291.6,997.7 293.3,997.7 C295.0,997.8 296.6,998.0 298.3,998.1 C300.0,998.3 301.6,998.5 303.3,998.8 C305.0,999.0 306.6,999.3 308.3,999.7 C310.0,1000.0 311.7,1000.4 313.3,1000.8 C315.0,1001.2 316.7,1001.7 318.3,1002.2 C320.0,1002.7 321.7,1003.2 323.3,1003.8 C325.0,1004.3 326.7,1004.9 328.3,1005.6 C330.0,1006.2 331.7,1006.9 333.3,1007.6 C335.0,1008.3 336.7,1009.0 338.3,1009.8 C340.0,1010.6 341.7,1011.4 343.3,1012.2 C345.0,1013.1 346.7,1013.9 348.4,1014.8 C350.0,1015.7 351.7,1016.6 353.4,1017.6 C355.0,1018.5 356.7,1019.5 358.4,1020.5 C360.0,1021.5 361.7,1022.5 363.4,1023.6 C365.0,1024.7 366.7,1025.8 368.4,1026.9 C370.0,1028.0 371.7,1029.1 373.4,1030.3 C375.0,1031.4 376.7,1032.6 378.4,1033.8 C380.0,1035.0 381.7,1036.2 383.4,1037.5 C385.1,1038.7 386.7,1040.0 388.4,1041.2 C390.1,1042.5 391.7,1043.8 393.4,1045.1 C395.1,1046.5 396.7,1047.8 398.4,1049.1 C400.1,1050.5 401.7,1051.9 403.4,1053.3 C405.1,1054.6 406.7,1056.0 408.4,1057.4 C410.1,1058.9 411.7,1060.3 413.4,1061.7 C415.1,1063.2 416.7,1064.6 418.4,1066.1 C420.1,1067.5 421.8,1069.0 423.4,1070.5 C425.1,1072.0 426.8,1073.5 428.4,1075.0 C430.1,1076.5 431.8,1078.0 433.4,1079.5 C435.1,1081.1 436.8,1082.6 438.4,1084.1 C440.1,1085.6 441.8,1087.2 443.4,1088.7 C445.1,1090.3 446.8,1091.8 448.4,1093.4 C450.1,1094.9 451.8,1096.5 453.4,1098.0 C455.1,1099.6 456.8,1101.2 458.5,1102.7 C460.1,1104.3 461.8,1105.9 463.5,1107.4 C465.1,1109.0 466.8,1110.5 468.5,1112.1 C470.1,1113.7 471.8,1115.2 473.5,1116.8 C475.1,1118.3 476.8,1119.9 478.5,1121.4 C480.1,1123.0 481.8,1124.5 483.5,1126.1 C485.1,1127.6 486.8,1129.1 488.5,1130.7 C490.1,1132.2 491.8,1133.7 493.5,1135.2 C495.2,1136.7 496.8,1138.2 498.5,1139.7 C500.2,1141.2 501.8,1142.7 503.5,1144.2 C505.2,1145.7 506.8,1147.1 508.5,1148.6 C510.2,1150.0 512.7,1152.2 513.5,1152.9" fill="none" stroke="#0000f5" stroke-width="2.5" stroke-linejoin="round" stroke-linecap="round" clip-path="url(#clipC)"/>
<path d="M513.5,1152.8 C514.4,1151.9 516.9,1149.3 518.6,1147.6 C520.3,1145.9 522.0,1144.2 523.7,1142.6 C525.4,1141.0 527.1,1139.4 528.8,1137.8 C530.5,1136.3 532.2,1134.8 533.9,1133.3 C535.6,1131.9 537.3,1130.4 539.0,1129.1 C540.7,1127.7 542.4,1126.3 544.1,1125.0 C545.8,1123.8 547.5,1122.5 549.2,1121.3 C550.9,1120.1 552.6,1118.9 554.3,1117.7 C556.0,1116.6 557.7,1115.5 559.4,1114.5 C561.1,1113.4 562.8,1112.4 564.5,1111.4 C566.2,1110.4 567.9,1109.5 569.6,1108.6 C571.4,1107.7 573.1,1106.9 574.8,1106.1 C576.5,1105.2 578.2,1104.5 579.9,1103.7 C581.6,1103.0 583.3,1102.3 585.0,1101.7 C586.7,1101.0 588.4,1100.4 590.1,1099.8 C591.8,1099.3 593.5,1098.7 595.2,1098.3 C596.9,1097.8 598.6,1097.3 600.3,1096.9 C602.0,1096.5 603.7,1096.1 605.4,1095.8 C607.1,1095.5 608.8,1095.2 610.5,1095.0 C612.2,1094.7 613.9,1094.5 615.6,1094.4 C617.3,1094.2 619.0,1094.1 620.7,1094.0 C622.4,1093.9 624.9,1093.9 625.8,1093.9" fill="none" stroke="#0000f5" stroke-width="2.5" stroke-linejoin="round" stroke-linecap="round" clip-path="url(#clipC)"/>
<rect x="93.5" y="630.6" width="532.3" height="533.3000000000001" fill="none" stroke="#000" stroke-width="2.4"/>
<line x1="93.5" y1="1104.7" x2="103.0" y2="1104.7" stroke="#000" stroke-width="2.4"/>
<line x1="93.5" y1="1045.4" x2="111.5" y2="1045.4" stroke="#000" stroke-width="2.4"/>
<line x1="93.5" y1="986.1" x2="103.0" y2="986.1" stroke="#000" stroke-width="2.4"/>
<line x1="93.5" y1="926.9" x2="111.5" y2="926.9" stroke="#000" stroke-width="2.4"/>
<line x1="93.5" y1="867.6" x2="103.0" y2="867.6" stroke="#000" stroke-width="2.4"/>
<line x1="93.5" y1="808.4" x2="111.5" y2="808.4" stroke="#000" stroke-width="2.4"/>
<line x1="93.5" y1="749.1" x2="103.0" y2="749.1" stroke="#000" stroke-width="2.4"/>
<line x1="93.5" y1="689.9" x2="111.5" y2="689.9" stroke="#000" stroke-width="2.4"/>
<text transform="translate(54.7,1171.3) scale(0.9,1)" font-family="Liberation Serif" font-size="36">14</text>
<text transform="translate(54.7,1058.0) scale(0.9,1)" font-family="Liberation Serif" font-size="36">15</text>
<text transform="translate(54.7,937.4) scale(0.9,1)" font-family="Liberation Serif" font-size="36">16</text>
<text transform="translate(54.7,824.3) scale(0.9,1)" font-family="Liberation Serif" font-size="36">17</text>
<text transform="translate(54.7,704.0) scale(0.9,1)" font-family="Liberation Serif" font-size="36">18</text>
<polygon points="280.15,677.45 242.50,612.24 167.20,612.24 129.55,677.45 167.20,742.66 242.50,742.66" fill="#fff" stroke="#7a7a7a" stroke-width="1.1"/>
<g clip-path="url(#mC1)"><g filter="url(#fC1)"><rect x="124.85" y="597.45" width="160" height="160" fill="#000"/><path d="M125.0 597.6 125.0 680.6 143.7 680.6 175.2 729.3 177.0 730.6 178.7 730.8 185.7 730.6 187.2 729.3 187.7 727.6 187.7 711.6 187.0 705.6 187.0 680.8 187.2 680.6 201.7 680.6 202.0 680.8 202.0 705.3 200.2 707.3 198.0 711.1 198.0 757.3 284.7 757.3 284.7 674.6 266.0 674.6 234.5 625.8 232.7 624.6 231.0 624.3 224.2 624.6 222.7 625.8 222.5 626.8 222.5 645.8 223.0 649.3 223.0 674.3 222.7 674.6 208.2 674.6 208.0 674.3 208.0 649.6 209.7 647.6 212.0 643.6 212.0 597.6ZM257.7 680.6 258.0 680.8 257.7 681.6 230.2 724.1 229.5 724.3 229.2 724.1 229.2 708.3 229.0 708.1 229.0 680.8 229.2 680.6ZM180.5 630.8 180.7 631.1 180.7 646.8 181.0 647.1 181.0 674.3 180.7 674.6 152.0 674.6 151.7 674.3 152.0 673.6 179.5 631.1Z" fill="rgb(20,20,20)"/><path d="M125.0 597.6 125.0 680.1 144.2 680.1 175.7 729.1 177.0 730.1 181.5 730.1 181.7 730.3 185.5 730.1 186.7 728.8 187.0 727.6 187.0 710.8 186.5 706.3 186.5 680.3 186.7 680.1 202.2 680.1 202.5 680.3 202.5 705.3 200.5 708.1 198.7 711.3 198.7 757.3 284.7 757.3 284.7 675.1 265.5 675.1 234.0 626.1 232.7 625.1 228.2 625.1 228.0 624.8 225.7 624.8 224.2 625.3 223.5 626.1 223.0 627.6 223.0 643.6 223.5 648.3 223.5 674.8 223.2 675.1 207.7 675.1 207.5 674.8 207.5 649.6 209.5 646.8 211.2 643.3 211.2 597.6ZM258.7 680.1 259.0 680.6 230.7 724.3 230.0 725.1 228.7 725.1 228.5 724.8 228.5 680.3 228.7 680.1ZM181.2 630.1 181.5 630.3 181.5 674.8 181.2 675.1 151.0 675.1 150.7 674.6 179.0 630.8 179.7 630.1Z" fill="rgb(39,39,39)"/><path d="M125.0 597.6 125.0 679.6 144.5 679.6 176.0 728.6 177.2 729.6 183.5 729.6 183.7 729.8 185.5 729.3 186.2 728.1 186.0 679.8 186.2 679.6 202.7 679.6 203.0 679.8 203.0 705.6 202.0 706.8 199.7 711.3 199.7 757.3 284.7 757.3 284.7 675.6 265.2 675.6 233.7 626.6 232.5 625.6 226.2 625.6 226.0 625.3 224.5 625.8 223.7 627.1 224.0 675.3 223.7 675.6 207.2 675.6 207.0 675.3 207.0 649.3 208.2 647.6 210.2 643.3 210.2 597.6ZM259.7 679.6 260.0 679.8 230.7 725.3 228.2 725.6 228.0 725.3 228.0 679.8 228.2 679.6ZM181.7 629.6 182.0 629.8 182.0 675.3 181.7 675.6 150.0 675.6 149.7 675.3 179.0 629.8 179.2 629.6Z" fill="rgb(59,59,59)"/><path d="M125.0 597.6 125.0 679.1 144.7 679.1 176.5 728.3 177.5 729.1 184.7 729.1 185.7 727.6 185.5 679.3 185.7 679.1 203.2 679.1 203.5 679.3 203.5 705.6 201.0 711.1 201.0 757.3 284.7 757.3 284.7 676.1 265.0 676.1 233.2 626.8 232.2 626.1 225.2 626.1 224.5 626.8 224.5 675.8 224.2 676.1 206.7 676.1 206.5 675.8 206.5 649.3 209.0 643.8 209.0 597.6ZM260.7 679.1 261.0 679.3 231.2 725.6 230.7 726.1 227.7 726.1 227.5 725.8 227.5 679.3 227.7 679.1ZM182.2 629.1 182.5 629.3 182.5 675.8 182.2 676.1 149.0 676.1 148.7 675.8 178.5 629.6 179.0 629.1Z" fill="rgb(78,78,78)"/><path d="M125.0 597.6 125.0 678.6 145.0 678.6 146.2 680.1 177.0 728.1 177.7 728.6 184.5 728.6 185.0 728.1 185.0 678.8 185.2 678.6 203.7 678.6 204.0 678.8 204.0 705.8 202.2 710.8 202.2 757.3 284.7 757.3 284.7 676.6 264.7 676.6 263.5 675.1 232.7 627.1 232.0 626.6 225.5 626.6 225.0 627.1 225.0 676.3 224.7 676.6 206.2 676.6 206.0 676.3 206.0 649.1 207.7 643.8 207.7 597.6ZM261.7 678.6 262.0 678.8 231.7 725.8 231.0 726.6 227.2 726.6 227.0 726.3 227.0 678.8 227.2 678.6ZM182.7 628.6 183.0 628.8 183.0 676.3 182.7 676.6 148.0 676.6 147.7 676.3 178.0 629.3 178.7 628.6Z" fill="rgb(98,98,98)"/><path d="M125.0 597.6 125.0 678.1 145.5 678.1 176.2 725.8 178.0 728.1 184.2 728.1 184.5 727.8 184.5 678.3 184.7 678.1 204.2 678.1 204.5 678.3 204.5 706.6 203.5 711.3 203.5 757.3 284.7 757.3 284.7 677.1 264.2 677.1 233.5 629.3 231.7 627.1 225.7 627.1 225.5 627.3 225.5 676.8 225.2 677.1 205.7 677.1 205.5 676.8 205.5 648.3 206.5 643.3 206.5 597.6ZM262.7 678.1 263.0 678.3 232.0 726.6 231.5 727.1 226.7 727.1 226.5 726.8 226.5 678.3 226.7 678.1ZM183.2 628.1 183.5 628.3 183.5 676.8 183.2 677.1 147.0 677.1 146.7 676.8 177.7 628.6 178.2 628.1Z" fill="rgb(118,118,118)"/><path d="M125.0 597.6 125.0 677.6 145.7 677.6 178.0 727.6 184.0 727.6 184.0 677.8 184.2 677.6 204.7 677.6 205.0 677.8 205.0 757.3 284.7 757.3 284.7 677.6 264.0 677.6 231.7 627.6 226.0 627.6 226.0 677.3 225.7 677.6 205.2 677.6 205.0 677.3 205.0 597.6ZM263.5 677.6 263.7 678.1 232.0 727.3 231.7 727.6 226.2 727.6 226.0 727.3 226.0 677.8 226.2 677.6ZM183.7 627.6 184.0 627.8 184.0 677.3 183.7 677.6 146.2 677.6 146.0 677.1 177.7 627.8 178.0 627.6Z" fill="rgb(137,137,137)"/><path d="M205.5 678.1 205.5 706.6 206.5 711.3 206.5 757.3 284.7 757.3 284.7 678.1 264.2 678.1 233.5 725.8 231.7 728.1 226.0 728.1 225.5 727.6 225.5 678.1ZM146.5 678.1 178.2 727.1 183.5 727.1 183.5 678.1ZM226.5 628.1 226.5 677.1 263.2 677.1 231.5 628.1ZM125.0 597.6 125.0 677.1 145.5 677.1 176.2 629.3 178.0 627.1 184.0 627.1 184.5 627.6 184.5 677.1 204.5 677.1 204.5 648.3 203.5 643.6 203.5 597.6Z" fill="rgb(157,157,157)"/><path d="M206.0 678.6 206.0 705.8 207.7 710.8 207.7 757.3 284.7 757.3 284.7 678.6 264.5 678.6 232.7 728.1 232.0 728.6 225.7 728.6 225.0 727.8 225.0 678.6ZM147.7 678.6 178.5 726.6 183.0 726.6 183.0 678.6ZM227.0 628.6 227.0 676.6 262.0 676.6 231.2 628.6ZM125.0 597.6 125.0 676.6 145.2 676.6 177.0 627.1 177.7 626.6 184.2 626.6 185.0 627.3 185.0 676.6 204.0 676.6 204.0 649.1 202.2 644.1 202.2 597.6Z" fill="rgb(177,177,177)"/><path d="M206.5 679.1 206.5 705.6 209.0 711.1 209.0 757.3 284.7 757.3 284.7 679.1 265.0 679.1 233.2 728.3 232.2 729.1 225.5 729.1 224.5 728.1 224.5 679.1ZM148.5 679.1 179.0 726.1 182.5 726.1 182.5 679.1ZM227.5 629.1 227.5 676.1 261.2 676.1 230.7 629.1ZM125.0 597.6 125.0 676.1 144.7 676.1 176.5 626.8 177.5 626.1 184.5 626.1 185.5 627.1 185.5 676.1 203.5 676.1 203.5 649.3 200.7 643.3 200.7 597.6Z" fill="rgb(196,196,196)"/><path d="M207.0 679.6 207.0 705.6 208.0 706.8 210.2 711.3 210.2 757.3 284.7 757.3 284.7 679.6 265.2 679.6 233.7 728.6 232.5 729.6 225.2 729.6 224.2 728.8 223.7 727.6 224.0 679.6ZM149.5 679.6 179.2 725.6 182.0 725.6 182.0 679.6ZM228.0 629.6 228.0 675.6 260.2 675.6 230.5 629.6ZM125.0 597.6 125.0 675.6 144.5 675.6 176.0 626.6 177.2 625.6 183.5 625.6 183.7 625.3 185.2 625.8 186.2 627.3 186.0 675.6 203.0 675.6 203.0 649.3 201.0 646.3 199.7 643.6 199.7 597.6Z" fill="rgb(216,216,216)"/><path d="M207.5 680.1 207.5 705.3 209.5 708.1 211.2 711.3 211.2 757.3 284.7 757.3 284.7 680.1 265.5 680.1 234.0 729.1 232.7 730.1 228.2 730.1 228.0 730.3 225.0 730.1 223.2 728.3 223.5 680.1ZM150.5 680.1 179.5 725.1 181.5 725.1 181.5 680.1ZM228.5 630.1 228.5 675.1 259.2 675.1 230.2 630.1ZM125.0 597.6 125.0 675.1 144.2 675.1 175.7 626.1 177.0 625.1 181.5 625.1 181.7 624.8 184.0 624.8 185.5 625.3 186.5 626.3 187.0 627.8 187.0 643.6 186.5 648.3 186.5 675.1 202.5 675.1 202.5 649.6 200.7 647.3 198.7 643.6 198.7 597.6Z" fill="rgb(235,235,235)"/><path d="M208.0 680.6 208.0 705.3 209.7 707.3 212.0 711.1 212.0 757.3 284.7 757.3 284.7 680.6 265.7 680.6 234.5 729.3 232.7 730.6 231.0 730.8 224.5 730.6 223.2 729.6 222.5 728.1 222.5 709.3 223.0 705.6 223.0 680.6ZM151.5 680.6 179.5 724.1 180.7 724.3 181.0 680.6ZM229.2 630.8 229.0 674.6 258.2 674.6 230.2 631.1ZM125.0 597.6 125.0 674.6 144.0 674.6 175.2 625.8 177.0 624.6 178.7 624.3 185.5 624.6 187.2 626.1 187.5 627.1 187.5 645.8 187.0 649.3 187.0 674.6 202.0 674.6 202.0 649.6 200.0 647.3 197.7 643.3 197.7 597.6Z" fill="rgb(255,255,255)"/></g></g>
<path d="M223.76 644.70 261.57 644.70 242.67 677.45 261.57 710.20 223.76 710.20 204.85 742.95 185.94 710.20 148.13 710.20 167.03 677.45 148.13 644.70 185.94 644.70 204.85 611.95ZM173.67 659.45 173.67 695.45 204.85 713.45 236.03 695.45 236.03 659.45 204.85 641.45Z" fill="none" stroke="#3a3a3a" stroke-width="0.5"/>
<polygon points="448.30,677.50 410.85,612.63 335.95,612.63 298.50,677.50 335.95,742.37 410.85,742.37" fill="#fff" stroke="#7a7a7a" stroke-width="1.1"/>
<g clip-path="url(#mC2)"><g filter="url(#fC2)"><rect x="293.4" y="597.5" width="160" height="160" fill="#000"/><path d="M355.8 724.6 355.5 725.6 355.5 757.4 391.5 757.4 391.5 725.6 391.3 724.6 390.0 723.4 379.8 721.4 372.0 720.9 365.5 721.6 360.0 722.9 358.8 722.9 357.0 723.4ZM402.8 638.6 391.0 641.9 389.5 643.4 380.8 658.6 380.5 659.6 380.8 661.6 382.3 663.1 397.3 672.6 398.5 673.1 398.5 682.1 382.3 691.9 380.8 693.4 380.5 695.4 381.5 697.9 389.5 711.9 391.0 713.4 402.8 716.6 404.3 716.6 413.3 713.6 415.0 712.1 415.3 709.9 411.8 695.9 412.0 695.6 416.3 695.6 418.3 695.1 419.8 694.4 421.3 692.9 422.0 691.4 422.5 689.4 422.5 665.9 421.3 662.4 419.8 660.9 416.3 659.6 412.0 659.6 411.8 659.4 415.3 645.4 415.0 643.1 413.3 641.6 405.3 638.9ZM342.8 638.6 333.5 641.6 331.8 643.1 331.5 645.4 334.8 656.9 335.0 659.4 334.8 659.6 330.8 659.6 328.8 660.1 327.3 660.9 325.8 662.4 325.0 663.9 324.5 665.9 324.5 689.4 325.8 692.9 327.3 694.4 330.8 695.6 334.8 695.6 335.0 695.9 334.8 698.4 331.5 709.9 331.8 712.1 333.5 713.6 341.8 716.4 344.3 716.6 356.0 713.4 357.5 711.9 360.3 706.4 366.3 696.4 366.5 695.4 366.3 693.4 364.8 691.9 348.5 682.1 348.5 673.1 349.8 672.6 364.8 663.1 366.3 661.6 366.5 659.6 365.8 657.6 360.3 648.9 357.5 643.4 356.0 641.9 344.3 638.6ZM355.5 597.6 355.5 629.6 355.8 630.6 357.0 631.9 365.5 633.6 375.8 634.1 376.0 633.9 381.5 633.6 390.0 631.9 391.3 630.6 391.5 629.6 391.5 597.6Z" fill="rgb(20,20,20)"/><path d="M356.3 724.9 356.0 725.6 356.0 757.4 391.0 757.4 391.0 725.6 390.8 724.9 389.8 723.9 379.8 721.9 372.0 721.4 365.5 722.1 360.0 723.4 358.8 723.4 357.3 723.9ZM402.8 639.1 391.3 642.4 389.3 644.9 382.0 657.4 381.0 659.6 381.3 661.4 383.3 663.1 397.5 672.1 401.0 672.6 401.0 682.6 397.5 683.1 382.5 692.4 381.3 693.6 381.0 695.4 389.3 710.4 391.3 712.9 400.8 715.6 404.3 716.1 413.0 713.1 414.5 711.9 414.8 709.9 410.5 693.4 410.8 693.1 415.3 693.1 416.8 692.6 418.0 691.9 419.5 689.9 420.0 688.4 420.0 666.9 418.8 664.1 417.3 662.9 415.3 662.1 410.8 662.1 410.5 661.9 414.8 645.4 414.5 643.4 413.0 642.1 404.3 639.1ZM342.8 639.1 333.8 642.1 332.3 643.4 332.0 645.4 335.0 655.9 336.3 661.9 336.0 662.1 331.8 662.1 330.3 662.6 329.0 663.4 327.5 665.4 327.0 666.9 327.0 688.4 328.3 691.1 329.8 692.4 331.8 693.1 336.0 693.1 336.3 693.4 335.0 699.4 332.0 709.9 332.3 711.9 333.8 713.1 342.8 716.1 344.3 716.1 355.8 712.9 357.0 711.6 359.8 706.1 364.3 698.9 366.0 695.4 365.8 693.6 364.5 692.4 349.5 683.1 346.0 682.6 346.0 672.6 349.5 672.1 363.8 663.1 365.8 661.4 366.0 659.6 365.3 657.9 359.8 649.1 357.0 643.6 355.8 642.4 346.3 639.6ZM356.0 597.6 356.0 629.6 356.3 630.4 357.3 631.4 365.5 633.1 375.8 633.6 376.0 633.4 381.5 633.1 388.3 631.9 389.8 631.4 390.8 630.4 391.0 629.6 391.0 597.6Z" fill="rgb(39,39,39)"/><path d="M356.8 725.1 356.5 725.9 356.5 757.4 390.5 757.4 390.5 725.9 389.5 724.4 381.3 722.6 372.3 721.9 365.8 722.6 360.3 723.9 359.0 723.9 357.5 724.4ZM403.0 639.6 391.5 642.9 390.5 643.9 382.5 657.6 381.5 660.4 381.8 661.1 382.8 662.1 397.8 671.6 399.8 671.6 401.0 671.1 403.3 671.4 403.3 683.9 401.0 684.1 399.8 683.6 397.8 683.6 382.8 692.9 381.8 693.9 381.5 695.1 390.5 711.4 391.5 712.4 401.0 715.1 404.0 715.6 412.8 712.6 414.0 711.6 414.3 710.9 411.0 697.1 409.5 693.6 409.3 691.4 409.8 690.9 414.8 690.9 416.3 690.1 417.8 687.9 417.8 667.4 417.0 665.9 414.8 664.4 409.8 664.4 409.3 663.9 409.5 661.6 411.0 658.1 414.3 645.1 414.0 643.6 412.8 642.6 404.0 639.6ZM343.0 639.6 334.0 642.6 332.8 643.6 332.5 644.4 333.3 648.1 335.8 656.6 335.8 657.6 337.3 661.1 337.5 663.9 337.0 664.4 332.3 664.4 330.8 665.1 329.3 667.4 329.3 687.9 330.0 689.4 332.3 690.9 337.0 690.9 337.5 691.4 337.3 694.1 335.8 697.6 335.5 699.6 332.5 710.1 332.8 711.6 334.0 712.6 343.0 715.6 344.0 715.6 355.5 712.4 356.5 711.4 359.3 705.9 364.8 696.9 365.5 694.6 365.3 693.9 364.3 692.9 349.3 683.6 347.3 683.6 346.0 684.1 343.8 683.9 343.8 671.4 346.0 671.1 347.3 671.6 349.3 671.6 364.3 662.1 365.3 661.1 365.5 659.9 364.8 658.1 359.3 649.4 356.5 643.9 355.5 642.9 346.0 640.1ZM356.5 597.6 356.5 629.4 357.5 630.9 365.8 632.6 375.5 633.1 375.8 632.9 381.3 632.6 388.0 631.4 389.5 630.9 390.3 630.1 390.5 629.4 390.5 597.6Z" fill="rgb(59,59,59)"/><path d="M357.3 725.4 357.0 725.9 357.0 757.4 390.0 757.4 390.0 725.9 389.3 724.9 381.3 723.1 372.3 722.4 365.8 723.1 360.3 724.4 359.0 724.4ZM398.3 684.1 383.0 693.4 382.3 694.1 382.0 695.1 388.5 706.9 391.8 711.9 401.0 714.6 404.0 715.1 413.0 711.9 413.8 710.9 413.8 710.1 410.5 697.4 406.8 690.1 406.0 687.9 404.8 686.9 399.0 684.1ZM348.8 684.1 348.0 684.1 340.8 687.9 340.0 690.1 336.3 697.9 333.0 710.1 333.0 710.9 333.8 711.9 343.0 715.1 344.0 715.1 354.3 712.4 356.0 711.1 358.8 705.6 364.3 696.6 365.0 694.6 364.0 693.4ZM406.8 667.9 406.8 687.4 414.3 687.4 414.3 667.9ZM332.8 667.9 332.8 687.4 340.3 687.4 340.3 667.9ZM404.0 640.1 401.0 640.6 391.8 643.4 390.3 645.4 382.0 659.9 382.3 660.9 383.0 661.6 398.3 671.1 399.0 671.1 404.8 668.4 406.0 667.4 406.8 665.1 410.5 657.9 413.8 645.1 413.8 644.4 413.0 643.4ZM333.8 643.4 333.0 644.4 333.0 645.1 336.3 657.4 340.0 665.1 340.5 666.9 341.3 667.9 348.0 671.1 348.8 671.1 363.3 662.1 364.8 660.9 365.0 659.9 358.8 649.6 356.0 644.1 355.3 643.4 344.0 640.1 343.0 640.1ZM357.0 597.6 357.0 629.4 357.3 629.9 359.0 630.9 360.3 630.9 365.8 632.1 371.5 632.4 371.8 632.6 381.3 632.1 389.3 630.4 390.0 629.4 390.0 597.6Z" fill="rgb(78,78,78)"/><path d="M358.0 725.4 357.5 726.1 357.5 757.4 389.5 757.4 389.5 726.1 389.3 725.6 387.8 724.9 382.5 723.9 374.5 722.9 366.0 723.6ZM382.8 694.4 382.5 694.9 392.0 711.4 403.8 714.6 411.8 711.9 413.0 711.1 413.3 710.4 410.3 698.4 408.8 695.1 404.3 689.1 399.5 685.1 398.0 684.9ZM349.0 684.9 347.5 685.1 344.3 687.6 341.0 691.1 340.8 691.9 339.5 692.9 339.5 693.4 338.0 695.4 336.8 698.1 335.5 703.6 333.5 710.4 334.0 711.4 343.3 714.6 355.0 711.4 364.5 694.9 363.8 693.9ZM412.8 643.9 403.8 640.6 392.0 643.9 382.5 660.1 382.8 660.6 398.0 670.4 399.5 670.1 404.3 666.1 408.8 660.1 410.3 656.9 413.3 644.9ZM334.0 643.9 333.5 644.9 336.8 657.1 338.0 659.9 339.5 661.9 339.5 662.4 340.8 663.4 341.0 664.1 342.5 665.9 348.0 670.4 349.5 670.1 364.3 660.6 364.5 660.1 358.3 649.9 355.0 643.9 343.8 640.6ZM357.5 597.6 357.5 629.1 357.8 629.6 359.3 630.4 360.5 630.4 366.0 631.6 371.8 631.9 372.0 632.1 381.0 631.6 389.0 629.9 389.5 629.1 389.5 597.6Z" fill="rgb(98,98,98)"/><path d="M358.5 725.6 358.0 726.1 358.0 757.4 389.0 757.4 389.0 726.1 388.5 725.6 386.5 725.1 374.5 723.4 367.8 723.9ZM383.0 694.9 391.0 709.1 392.5 711.1 403.8 714.1 411.8 711.4 412.8 710.6 409.8 698.4 408.5 695.9 407.5 694.9 407.0 693.6 404.0 690.6 403.5 689.6 400.8 686.6 399.0 685.9 398.8 685.4 394.3 687.6ZM364.0 694.9 352.8 687.6 348.3 685.4 348.0 685.9 346.3 686.6 340.0 693.4 339.3 695.1 338.3 696.1 337.3 698.1 334.0 710.6 335.0 711.4 343.3 714.1 354.5 711.1 355.3 710.4 358.0 704.9ZM412.3 644.1 403.8 641.1 392.5 644.1 391.0 646.1 383.0 660.1 384.5 661.4 396.0 668.6 398.8 669.9 399.0 669.4 400.8 668.6 403.5 665.6 404.0 664.6 407.0 661.6 407.5 660.4 408.5 659.4 409.8 656.9 412.8 644.9ZM334.5 644.1 334.0 644.9 337.3 657.1 338.3 659.1 339.3 660.1 340.0 661.9 346.3 668.6 348.0 669.4 348.3 669.9 352.3 667.9 364.0 660.1 358.0 650.4 355.3 644.9 354.5 644.1 343.8 641.1ZM358.0 597.6 358.0 629.1 359.3 629.9 360.5 629.9 366.0 631.1 371.8 631.4 372.0 631.6 381.0 631.1 388.5 629.6 389.0 629.1 389.0 597.6Z" fill="rgb(118,118,118)"/><path d="M358.5 726.1 358.5 757.4 388.5 757.4 388.5 726.1 381.0 724.6 374.5 723.9 367.8 724.4ZM383.5 694.9 392.5 710.6 403.3 713.6 412.3 710.6 409.3 698.4 408.3 696.1 399.0 686.1 398.5 685.9 397.5 686.1ZM363.5 694.9 349.0 685.9 348.0 686.1 343.5 690.6 338.5 696.4 337.8 698.1 334.5 710.6 343.3 713.6 354.5 710.6 357.5 704.9ZM412.3 644.6 403.8 641.6 392.5 644.6 383.5 660.1 398.0 669.4 399.0 669.1 408.3 659.1 409.3 656.9ZM334.5 644.6 337.8 657.1 338.5 658.9 343.5 664.6 348.0 669.1 349.0 669.4 363.5 660.1 357.5 650.4 354.5 644.6 343.8 641.6ZM358.5 597.6 358.5 629.1 366.0 630.6 371.8 630.9 372.0 631.1 381.0 630.6 388.5 629.1 388.5 597.6Z" fill="rgb(137,137,137)"/><path d="M359.3 726.4 359.0 726.6 359.0 757.4 388.0 757.4 388.0 726.6 382.5 725.4 374.5 724.4 367.8 724.9ZM384.3 694.9 384.8 696.4 393.0 710.4 403.3 713.1 411.8 710.4 408.8 698.4 408.0 696.9 405.5 693.9 403.8 692.4 402.5 690.4 398.8 686.6 395.5 687.9ZM362.8 694.9 351.5 687.9 348.3 686.6 344.3 690.6 343.5 691.9 340.0 695.4 338.8 697.1 335.0 710.4 343.3 713.1 354.0 710.4 362.5 695.9ZM411.8 644.9 403.8 642.1 393.0 644.9 384.8 658.6 384.3 660.1 396.0 667.6 398.8 668.6 402.5 664.9 403.8 662.9 405.5 661.4 408.0 658.4 408.8 656.9ZM335.0 644.9 338.8 658.1 340.0 659.9 343.5 663.4 344.3 664.6 348.3 668.6 351.0 667.6 362.8 660.1 362.5 659.1 357.0 650.4 354.0 644.9 343.8 642.1ZM359.0 597.6 359.0 628.6 366.0 630.1 371.8 630.4 372.0 630.6 378.8 630.4 387.8 628.9 388.0 628.6 388.0 597.6Z" fill="rgb(157,157,157)"/><path d="M359.5 726.9 359.5 757.4 387.5 757.4 387.5 726.9 381.0 725.6 374.5 724.9 367.8 725.4ZM384.8 695.1 393.0 709.9 403.3 712.6 411.0 710.1 408.0 697.9 407.0 696.4 399.0 687.6 398.3 687.4 396.8 688.1 396.0 688.1ZM362.3 695.1 351.0 688.1 350.3 688.1 348.8 687.4 348.0 687.6 340.5 695.6 338.8 698.1 335.8 710.1 343.8 712.6 354.0 709.9 356.8 704.4ZM411.0 645.1 403.3 642.6 393.0 645.4 384.8 659.9 397.3 667.6 398.5 667.9 399.0 667.6 407.0 658.9 408.0 657.4ZM335.8 645.1 338.8 657.1 340.5 659.6 348.0 667.6 348.5 667.9 349.8 667.6 351.8 666.6 362.3 659.9 356.8 650.9 354.0 645.4 343.8 642.6ZM359.5 597.6 359.5 628.4 366.0 629.6 371.8 629.9 372.0 630.1 381.0 629.6 387.5 628.4 387.5 597.6Z" fill="rgb(177,177,177)"/><path d="M360.0 727.4 360.0 757.4 387.0 757.4 387.0 727.4 380.8 726.1 374.3 725.4 368.0 725.9ZM385.5 695.4 393.5 709.4 403.5 712.1 410.5 709.6 407.3 697.6 398.8 688.1 398.0 688.1 395.0 689.4ZM361.5 695.4 350.5 688.6 348.3 688.1 340.8 696.1 339.5 697.9 336.3 709.6 343.5 712.1 353.5 709.4ZM410.5 645.6 403.5 643.1 393.5 645.9 385.5 659.6 396.0 666.4 398.8 667.1 407.3 657.6ZM336.3 645.6 339.5 657.4 340.8 659.1 348.3 667.1 351.5 666.1 361.5 659.6 356.3 651.1 353.5 645.9 343.5 643.1ZM360.0 597.6 360.0 627.9 366.3 629.1 372.0 629.4 372.3 629.6 380.8 629.1 387.0 627.9 387.0 597.6Z" fill="rgb(196,196,196)"/><path d="M360.5 727.9 360.5 757.4 386.5 757.4 386.5 727.9 380.8 726.6 374.3 725.9 366.3 726.6ZM386.3 695.6 393.8 708.9 403.5 711.6 409.8 709.4 407.0 698.1 403.3 693.9 401.0 692.4 399.8 689.9 398.8 688.9 397.8 688.9 395.3 689.9ZM360.8 695.6 351.8 689.9 349.3 688.9 348.3 688.9 347.3 689.9 346.0 692.4 344.5 693.6 343.3 694.1 340.0 697.9 337.0 709.4 343.5 711.6 353.3 708.9 355.8 703.9ZM409.8 645.9 403.5 643.6 393.8 646.4 386.3 659.4 395.0 665.1 397.0 666.1 398.8 666.4 399.8 665.4 401.0 662.9 403.3 661.4 407.0 657.1ZM337.0 645.9 340.0 657.4 343.3 661.1 344.5 661.6 346.0 662.9 347.3 665.4 348.3 666.4 349.3 666.4 351.3 665.6 360.8 659.4 355.8 651.4 353.3 646.4 343.5 643.6ZM360.5 597.6 360.5 627.4 366.3 628.6 372.0 628.9 372.3 629.1 378.5 628.9 386.3 627.6 386.5 627.4 386.5 597.6Z" fill="rgb(216,216,216)"/><path d="M361.3 728.1 361.0 728.4 361.0 757.4 386.0 757.4 386.0 728.1 374.0 726.4 368.3 726.9ZM387.0 695.6 392.0 704.9 394.5 708.6 402.8 710.9 404.0 710.9 409.3 708.9 406.3 697.9 404.0 695.4 401.8 694.6 400.0 693.1 399.0 691.4 398.5 689.6 397.3 689.6 395.5 690.4ZM360.0 695.6 351.5 690.4 349.8 689.6 348.5 689.6 348.0 691.4 347.0 693.1 345.3 694.6 342.8 695.4 340.5 698.1 337.5 708.9 343.0 710.9 344.3 710.9 352.5 708.6ZM404.0 644.4 402.8 644.4 394.5 646.6 393.8 647.4 387.0 659.4 395.3 664.6 397.5 665.6 398.5 665.6 399.0 663.9 400.0 662.1 401.8 660.6 404.0 659.9 406.3 657.4 409.3 646.4ZM337.5 646.4 340.5 657.1 342.8 659.9 345.3 660.6 347.0 662.1 348.0 663.9 348.5 665.6 351.0 665.1 360.0 659.4 352.5 646.6 344.3 644.4 343.0 644.4ZM361.0 597.6 361.0 626.9 366.5 628.1 372.3 628.4 372.5 628.6 378.3 628.4 386.0 627.1 386.0 597.6Z" fill="rgb(235,235,235)"/><path d="M361.5 728.6 361.5 757.4 385.5 757.4 385.5 728.6 380.5 727.6 374.0 726.9 368.3 727.4ZM387.8 695.9 394.8 708.1 402.8 710.4 403.8 710.4 408.5 708.6 406.5 699.9 405.5 697.6 405.0 697.1 402.5 696.9 400.0 695.9 398.3 694.1 397.3 691.6 397.3 690.4 395.8 690.9ZM359.3 695.9 351.3 690.9 349.8 690.4 349.3 693.1 348.8 694.1 347.0 695.9 344.5 696.9 342.0 697.1 341.3 697.9 340.5 699.6 338.3 708.6 343.3 710.4 344.3 710.4 352.3 708.1ZM408.5 646.6 403.8 644.9 402.8 644.9 394.8 647.1 387.8 659.1 395.5 664.1 397.3 664.9 397.8 662.1 398.3 661.1 400.0 659.4 402.5 658.4 405.0 658.1 405.5 657.6 406.5 655.4ZM338.3 646.6 340.5 655.6 341.3 657.4 342.0 658.1 344.5 658.4 347.0 659.4 348.8 661.1 349.8 663.6 349.8 664.9 350.8 664.6 359.3 659.1 354.8 651.9 352.3 647.1 344.3 644.9 343.3 644.9ZM361.5 597.6 361.5 626.6 366.5 627.6 372.3 627.9 372.5 628.1 380.5 627.6 385.5 626.6 385.5 597.6Z" fill="rgb(255,255,255)"/></g></g>
<path d="M392.31 644.75 430.12 644.75 411.22 677.50 430.12 710.25 392.31 710.25 373.40 743.00 354.49 710.25 316.68 710.25 335.58 677.50 316.68 644.75 354.49 644.75 373.40 612.00ZM342.22 659.50 342.22 695.50 373.40 713.50 404.58 695.50 404.58 659.50 373.40 641.50Z" fill="none" stroke="#3a3a3a" stroke-width="0.5"/>
<polygon points="278.50,1122.90 240.75,1057.52 165.25,1057.52 127.50,1122.90 165.25,1188.28 240.75,1188.28" fill="#fff" stroke="#7a7a7a" stroke-width="1.1"/>
<g clip-path="url(#mC3)"><g filter="url(#fC3)"><rect x="123.0" y="1042.9" width="160" height="160" fill="#000"/><path d="M130.6 1134.0 130.4 1134.5 130.4 1169.0 131.6 1170.5 132.1 1170.8 178.1 1170.8 179.6 1169.5 179.9 1169.0 179.9 1143.0 173.4 1136.0 158.6 1132.8 132.1 1132.8ZM130.6 1076.5 130.4 1077.0 130.4 1111.5 131.6 1113.0 132.1 1113.3 158.6 1113.3 172.9 1110.3 179.6 1103.5 179.9 1103.0 179.9 1077.0 178.6 1075.5 178.1 1075.3 132.1 1075.3ZM199.6 1043.0 199.6 1050.0 199.4 1050.8 196.9 1051.5 195.6 1052.8 194.9 1056.0 194.9 1062.0 195.4 1064.8 196.9 1066.5 199.1 1067.0 199.6 1068.0 199.6 1092.8 200.4 1093.0 200.4 1152.8 199.6 1153.0 199.6 1178.0 199.1 1178.8 196.6 1179.3 195.4 1180.5 194.9 1182.0 194.9 1192.0 195.4 1193.5 196.6 1194.8 199.1 1195.3 199.6 1196.0 199.6 1202.8 282.9 1202.8 282.9 1043.0ZM231.6 1145.3 235.9 1140.8 249.6 1138.0 270.4 1138.0 270.6 1138.3 270.6 1165.3 270.4 1165.5 231.9 1165.5 231.6 1165.3ZM231.6 1080.8 231.9 1080.5 270.4 1080.5 270.6 1080.8 270.6 1107.8 270.4 1108.0 249.6 1108.0 235.4 1105.0 231.6 1100.8Z" fill="rgb(20,20,20)"/><path d="M131.4 1133.8 130.9 1134.5 130.9 1169.0 131.4 1169.8 132.1 1170.3 178.1 1170.3 178.9 1169.8 179.4 1169.0 179.4 1143.0 173.6 1136.8 172.1 1136.0 158.6 1133.3 132.1 1133.3ZM130.9 1077.0 130.9 1111.5 132.1 1112.8 158.6 1112.8 172.9 1109.8 176.1 1106.8 179.4 1103.0 179.4 1077.0 178.1 1075.8 132.1 1075.8ZM200.1 1043.0 199.9 1051.0 199.1 1052.3 197.6 1052.8 196.9 1053.5 196.1 1055.5 196.4 1063.5 197.6 1065.3 199.4 1066.0 200.1 1068.0 200.1 1092.8 200.9 1093.0 200.9 1152.8 200.1 1153.0 200.1 1178.0 199.1 1179.8 197.4 1180.3 196.4 1181.3 195.6 1184.0 195.6 1190.0 196.1 1192.3 197.4 1193.8 199.1 1194.3 200.1 1196.0 200.1 1202.8 282.9 1202.8 282.9 1043.0ZM231.1 1145.3 234.4 1141.5 235.9 1140.3 249.6 1137.5 270.9 1137.5 271.1 1137.8 271.1 1165.8 270.9 1166.0 231.4 1166.0 231.1 1165.8ZM231.1 1080.3 231.4 1080.0 270.9 1080.0 271.1 1080.3 271.1 1108.3 270.9 1108.5 249.6 1108.5 235.4 1105.5 231.1 1100.8Z" fill="rgb(39,39,39)"/><path d="M131.6 1134.3 131.4 1134.8 131.4 1168.8 131.9 1169.5 132.4 1169.8 177.9 1169.8 178.6 1169.3 178.9 1168.8 178.9 1143.3 173.1 1137.0 158.4 1133.8 132.4 1133.8ZM131.6 1076.8 131.4 1077.3 131.4 1111.3 131.9 1112.0 132.4 1112.3 158.4 1112.3 172.6 1109.3 178.6 1103.3 178.9 1102.8 178.9 1077.3 178.4 1076.5 177.9 1076.3 132.4 1076.3ZM200.6 1043.0 200.6 1050.5 199.6 1052.8 198.6 1053.3 197.4 1054.5 197.1 1055.3 197.1 1062.8 197.4 1063.5 199.6 1065.3 200.6 1067.5 200.6 1092.8 201.4 1093.0 201.4 1152.8 200.6 1153.0 200.6 1178.0 199.9 1179.8 199.1 1180.5 198.1 1180.8 196.9 1182.0 196.4 1183.8 196.4 1190.3 196.9 1192.0 198.1 1193.3 199.1 1193.5 199.9 1194.3 200.6 1196.0 200.6 1202.8 282.9 1202.8 282.9 1043.0ZM230.6 1145.0 235.6 1139.8 249.4 1137.0 271.4 1137.0 271.6 1137.3 271.6 1166.3 271.4 1166.5 230.9 1166.5 230.6 1166.3ZM230.6 1079.8 230.9 1079.5 271.4 1079.5 271.6 1079.8 271.6 1108.8 271.4 1109.0 249.4 1109.0 235.1 1106.0 230.6 1101.0Z" fill="rgb(59,59,59)"/><path d="M131.9 1134.8 131.9 1168.8 132.4 1169.3 177.9 1169.3 178.4 1168.8 178.4 1143.3 172.6 1137.3 158.4 1134.3 132.4 1134.3ZM131.9 1077.3 131.9 1111.3 132.4 1111.8 158.4 1111.8 172.6 1108.8 178.4 1102.8 178.4 1077.3 177.9 1076.8 132.4 1076.8ZM201.1 1043.0 201.1 1051.0 200.4 1052.8 198.4 1054.8 197.9 1055.8 197.9 1062.3 198.4 1063.3 200.4 1065.3 201.1 1067.0 201.1 1092.8 201.9 1093.0 201.9 1152.8 201.1 1153.0 201.1 1178.5 200.4 1180.0 199.1 1181.3 198.4 1181.5 197.1 1183.3 197.1 1190.8 197.6 1191.8 199.1 1192.8 200.9 1194.8 201.1 1195.5 201.1 1202.8 282.9 1202.8 282.9 1043.0ZM230.1 1144.8 234.9 1139.5 249.4 1136.5 271.9 1136.5 272.1 1136.8 272.1 1166.8 271.9 1167.0 230.4 1167.0 230.1 1166.8ZM230.1 1079.3 230.4 1079.0 271.9 1079.0 272.1 1079.3 272.1 1109.3 271.9 1109.5 249.4 1109.5 234.9 1106.5 230.1 1101.3Z" fill="rgb(78,78,78)"/><path d="M132.4 1135.0 132.4 1168.5 132.6 1168.8 177.6 1168.8 177.9 1168.5 177.9 1143.5 172.4 1137.8 158.1 1134.8 132.6 1134.8ZM132.4 1077.5 132.4 1111.0 132.6 1111.3 158.1 1111.3 172.4 1108.3 177.9 1102.5 177.9 1077.5 177.6 1077.3 132.6 1077.3ZM201.9 1043.0 201.6 1052.5 198.9 1056.0 198.9 1062.0 201.1 1064.5 201.9 1067.0 201.9 1092.8 202.4 1093.0 202.4 1152.8 201.9 1153.0 201.9 1178.3 201.1 1180.0 198.1 1182.8 197.6 1184.0 197.9 1190.8 201.1 1194.0 201.9 1195.8 201.9 1202.8 282.9 1202.8 282.9 1043.0ZM229.6 1144.5 234.6 1139.0 249.1 1136.0 272.4 1136.0 272.6 1136.3 272.6 1167.3 272.4 1167.5 229.9 1167.5 229.6 1167.3ZM229.6 1078.8 229.9 1078.5 272.4 1078.5 272.6 1078.8 272.6 1109.8 272.4 1110.0 249.1 1110.0 234.6 1107.0 229.6 1101.5Z" fill="rgb(98,98,98)"/><path d="M132.9 1135.3 132.9 1168.3 177.4 1168.3 177.4 1143.8 172.1 1138.3 157.9 1135.3ZM132.9 1077.8 132.9 1110.8 157.9 1110.8 172.1 1107.8 177.4 1102.3 177.4 1077.8ZM202.6 1043.0 202.6 1052.8 203.6 1054.8 206.1 1055.3 206.9 1056.0 206.9 1062.0 206.1 1062.8 203.6 1063.3 202.6 1065.3 202.6 1092.8 202.9 1093.0 202.6 1178.0 201.6 1180.8 200.1 1181.8 198.4 1183.8 198.4 1190.3 200.1 1192.3 201.6 1193.3 202.4 1194.8 202.6 1202.8 282.9 1202.8 282.9 1043.0ZM229.1 1144.3 234.4 1138.5 248.9 1135.5 272.9 1135.5 273.1 1135.8 273.1 1167.8 272.9 1168.0 229.4 1168.0 229.1 1167.8ZM229.1 1078.3 229.4 1078.0 272.9 1078.0 273.1 1078.3 273.1 1110.3 272.9 1110.5 248.9 1110.5 234.4 1107.5 229.1 1101.8Z" fill="rgb(118,118,118)"/><path d="M133.1 1135.5 133.1 1168.0 177.1 1168.0 177.1 1144.0 171.9 1138.5 157.6 1135.5ZM133.1 1078.0 133.1 1110.5 157.6 1110.5 171.9 1107.5 177.1 1102.0 177.1 1078.0ZM203.1 1043.0 203.1 1051.3 203.4 1052.0 204.6 1053.5 206.4 1054.3 207.6 1055.5 207.6 1062.5 206.4 1063.8 204.6 1064.5 203.6 1065.5 203.1 1066.8 203.1 1180.0 202.6 1181.3 201.4 1182.5 200.4 1182.8 199.4 1183.8 199.4 1190.3 200.4 1191.3 201.4 1191.5 202.6 1192.8 203.1 1194.0 203.1 1202.8 282.9 1202.8 282.9 1043.0ZM228.9 1144.0 234.1 1138.3 248.6 1135.3 273.1 1135.3 273.4 1135.5 273.4 1168.0 273.1 1168.3 229.1 1168.3 228.9 1168.0ZM228.9 1078.0 229.1 1077.8 273.1 1077.8 273.4 1078.0 273.4 1110.5 273.1 1110.8 248.6 1110.8 234.1 1107.8 228.9 1102.0Z" fill="rgb(137,137,137)"/><path d="M133.4 1135.8 133.4 1167.8 176.9 1167.8 176.9 1144.3 171.6 1138.8 157.4 1135.8ZM133.4 1078.3 133.4 1110.3 157.4 1110.3 171.6 1107.3 176.9 1101.8 176.9 1078.3ZM203.6 1043.0 203.9 1051.0 204.4 1052.0 207.1 1054.0 208.4 1055.5 208.4 1062.5 207.1 1064.0 204.4 1066.0 203.6 1068.0 203.6 1092.8 203.4 1093.0 203.6 1178.8 203.9 1181.0 204.4 1182.0 206.9 1183.8 206.9 1190.3 206.1 1191.0 204.9 1191.5 203.9 1193.0 203.6 1202.8 282.9 1202.8 282.9 1043.0ZM228.6 1143.8 233.9 1138.0 248.4 1135.0 273.4 1135.0 273.6 1135.3 273.6 1168.3 273.4 1168.5 228.9 1168.5 228.6 1168.3ZM228.6 1077.8 228.9 1077.5 273.4 1077.5 273.6 1077.8 273.6 1110.8 273.4 1111.0 248.4 1111.0 233.9 1108.0 228.6 1102.3Z" fill="rgb(157,157,157)"/><path d="M133.9 1136.3 133.9 1167.3 176.4 1167.3 176.4 1144.5 171.4 1139.3 157.1 1136.3ZM133.9 1078.8 133.9 1109.8 157.1 1109.8 171.4 1106.8 176.4 1101.5 176.4 1078.8ZM204.4 1043.0 204.6 1051.0 206.4 1053.0 208.4 1054.3 209.1 1056.0 208.9 1063.0 207.9 1064.3 206.4 1065.0 204.9 1066.5 204.4 1068.0 204.4 1092.8 203.9 1093.0 203.9 1152.8 204.4 1153.0 204.4 1178.5 205.1 1180.8 208.1 1183.8 208.1 1190.3 205.1 1193.3 204.4 1195.5 204.4 1202.8 282.9 1202.8 282.9 1043.0ZM228.1 1143.5 233.6 1137.5 248.1 1134.5 273.6 1134.5 274.1 1135.0 274.1 1168.5 273.6 1169.0 228.6 1169.0 228.1 1168.5ZM228.1 1077.5 228.6 1077.0 273.6 1077.0 274.1 1077.5 274.1 1111.0 273.6 1111.5 248.1 1111.5 233.6 1108.5 228.1 1102.5Z" fill="rgb(177,177,177)"/><path d="M134.4 1136.8 134.4 1166.8 175.9 1166.8 175.9 1144.8 171.1 1139.8 156.9 1136.8ZM134.4 1079.3 134.4 1109.3 156.9 1109.3 171.1 1106.3 175.9 1101.3 175.9 1079.3ZM205.1 1043.0 205.1 1050.5 206.9 1052.8 207.9 1053.0 209.1 1054.3 209.6 1055.5 209.6 1062.5 209.4 1063.3 207.9 1065.0 206.9 1065.3 205.1 1067.5 205.1 1092.8 204.4 1093.0 204.4 1152.8 205.1 1153.0 205.1 1178.8 206.1 1180.8 206.9 1181.5 207.4 1181.5 208.6 1182.8 208.9 1183.5 208.9 1190.5 208.6 1191.3 206.1 1193.3 205.1 1195.3 205.1 1202.8 282.9 1202.8 282.9 1043.0ZM227.6 1143.3 233.4 1137.0 247.9 1134.0 273.9 1134.0 274.6 1134.8 274.6 1168.8 273.9 1169.5 228.4 1169.5 227.6 1168.8ZM227.6 1077.3 228.4 1076.5 273.9 1076.5 274.6 1077.3 274.6 1111.3 273.9 1112.0 247.9 1112.0 233.4 1109.0 227.6 1102.8Z" fill="rgb(196,196,196)"/><path d="M134.9 1137.3 134.9 1166.3 175.4 1166.3 175.4 1145.0 170.9 1140.3 156.9 1137.3ZM134.9 1079.8 134.9 1108.8 156.9 1108.8 170.4 1106.0 175.4 1101.0 175.4 1079.8ZM205.6 1043.0 205.6 1050.0 205.9 1050.8 206.9 1052.0 208.4 1052.5 209.6 1053.8 210.1 1055.0 210.1 1063.0 209.9 1063.8 208.4 1065.5 206.9 1066.0 206.1 1066.8 205.6 1068.0 205.6 1092.8 204.9 1093.0 204.9 1152.8 205.6 1153.0 205.6 1178.3 206.4 1180.0 207.1 1180.8 208.1 1181.0 209.1 1182.0 209.6 1183.3 209.6 1190.8 209.1 1192.0 208.1 1193.0 207.1 1193.3 205.9 1195.0 205.6 1195.8 205.6 1202.8 282.9 1202.8 282.9 1043.0ZM231.1 1138.5 233.4 1136.5 247.9 1133.5 273.9 1133.5 274.4 1133.8 275.1 1134.8 275.1 1168.8 274.9 1169.3 273.9 1170.0 228.4 1170.0 227.9 1169.8 227.1 1168.8 227.1 1143.3ZM227.4 1076.8 228.4 1076.0 273.9 1076.0 274.4 1076.3 275.1 1077.3 275.1 1111.3 274.9 1111.8 273.9 1112.5 247.9 1112.5 232.9 1109.3 227.1 1102.8 227.1 1077.3Z" fill="rgb(216,216,216)"/><path d="M135.4 1137.8 135.4 1165.8 174.9 1165.8 174.9 1145.3 170.6 1140.8 156.6 1137.8ZM135.4 1080.3 135.4 1108.3 156.6 1108.3 170.1 1105.5 174.9 1100.8 174.9 1080.3ZM206.1 1043.0 206.1 1050.0 207.1 1051.5 208.6 1051.8 209.9 1052.8 210.9 1055.3 210.9 1062.8 210.4 1064.5 208.6 1066.3 207.1 1066.5 206.1 1068.0 206.1 1092.8 205.4 1093.0 205.4 1152.8 206.1 1153.0 206.1 1178.0 206.9 1179.8 208.6 1180.3 209.9 1181.5 210.6 1184.0 210.6 1190.0 210.1 1192.0 208.6 1193.8 206.9 1194.3 206.1 1196.0 206.1 1202.8 282.9 1202.8 282.9 1043.0ZM226.6 1143.0 232.4 1136.5 233.9 1135.8 247.6 1133.0 274.1 1133.0 275.6 1134.5 275.6 1169.0 274.1 1170.5 228.1 1170.5 226.6 1169.0ZM227.1 1076.3 228.1 1075.5 274.1 1075.5 274.9 1076.0 275.6 1077.0 275.6 1111.5 275.1 1112.3 274.1 1113.0 247.6 1113.0 233.9 1110.3 232.4 1109.5 226.6 1103.0 226.6 1077.0Z" fill="rgb(235,235,235)"/><path d="M135.9 1138.3 135.9 1165.3 174.4 1165.3 174.4 1145.3 170.6 1141.3 156.6 1138.3ZM135.9 1080.8 135.9 1107.8 156.6 1107.8 170.1 1105.0 174.4 1100.8 174.4 1080.8ZM206.6 1043.0 206.9 1050.5 209.1 1050.8 210.9 1052.0 211.6 1053.8 211.9 1055.8 211.9 1062.3 211.4 1065.0 210.1 1066.8 208.4 1067.5 206.9 1067.5 206.6 1068.3 206.6 1092.8 205.9 1093.0 205.9 1152.8 206.6 1153.0 206.6 1178.0 207.4 1178.8 209.6 1179.3 210.9 1180.5 211.6 1183.0 211.4 1192.3 210.9 1193.5 209.6 1194.8 207.4 1195.3 206.6 1196.0 206.6 1202.8 282.9 1202.8 282.9 1043.0ZM232.6 1135.8 233.9 1135.3 247.6 1132.5 274.1 1132.5 274.6 1132.8 276.1 1134.5 276.1 1169.0 275.9 1169.5 274.1 1171.0 228.1 1171.0 227.6 1170.8 226.1 1169.0 226.1 1143.0ZM226.4 1076.5 228.1 1075.0 274.1 1075.0 274.6 1075.3 276.1 1077.0 276.1 1111.5 275.9 1112.0 274.1 1113.5 247.6 1113.5 232.6 1110.3 226.1 1103.0 226.1 1077.0Z" fill="rgb(255,255,255)"/></g></g>
<path d="M221.91 1090.15 259.72 1090.15 240.82 1122.90 259.72 1155.65 221.91 1155.65 203.00 1188.40 184.09 1155.65 146.28 1155.65 165.18 1122.90 146.28 1090.15 184.09 1090.15 203.00 1057.40ZM171.82 1104.90 171.82 1140.90 203.00 1158.90 234.18 1140.90 234.18 1104.90 203.00 1086.90Z" fill="none" stroke="#3a3a3a" stroke-width="0.5"/>
<polygon points="449.70,1124.20 412.00,1058.90 336.60,1058.90 298.90,1124.20 336.60,1189.50 412.00,1189.50" fill="#fff" stroke="#7a7a7a" stroke-width="1.1"/>
<g clip-path="url(#mC4)"><g filter="url(#fC4)"><rect x="294.3" y="1044.2" width="160" height="160" fill="#000"/><path d="M335.2 1155.8 335.2 1158.3 336.9 1160.1 353.7 1160.1 358.7 1168.6 360.4 1170.1 362.4 1170.1 374.4 1163.6 386.4 1170.1 388.4 1170.1 390.2 1168.6 395.2 1160.1 411.7 1160.1 413.4 1158.3 413.4 1155.8 411.9 1149.1 407.4 1140.3 404.9 1138.1 395.4 1131.6 353.4 1131.6 344.4 1137.6 341.2 1140.3 336.9 1148.8ZM294.4 1044.3 294.4 1127.1 454.2 1127.1 454.2 1044.3ZM341.4 1094.1 341.7 1093.8 356.4 1093.8 357.9 1092.6 362.4 1084.8 373.4 1090.8 375.4 1090.8 386.4 1084.8 390.9 1092.6 392.4 1093.8 407.2 1093.8 407.4 1094.1 406.4 1098.3 402.9 1104.6 393.4 1111.8 355.4 1111.8 345.7 1104.6 342.2 1097.8Z" fill="rgb(20,20,20)"/><path d="M335.7 1155.8 335.7 1158.3 336.9 1159.6 353.9 1159.6 358.9 1168.1 360.4 1169.6 362.4 1169.6 374.4 1163.1 386.4 1169.6 388.4 1169.6 389.9 1168.1 394.9 1159.6 411.7 1159.6 412.9 1158.3 412.9 1155.8 411.4 1149.1 407.2 1140.8 405.2 1138.8 395.4 1132.1 353.4 1132.1 341.9 1140.1 337.4 1148.8ZM294.4 1044.3 294.4 1126.6 454.2 1126.6 454.2 1044.3ZM340.7 1093.6 340.9 1093.3 356.4 1093.3 357.7 1092.1 360.7 1086.6 362.4 1084.1 373.4 1090.3 375.4 1090.3 386.4 1084.1 388.2 1086.6 391.2 1092.1 392.4 1093.3 407.7 1093.3 407.9 1094.1 406.9 1098.3 403.2 1105.1 393.4 1112.3 355.4 1112.3 345.4 1105.1 341.7 1097.8Z" fill="rgb(39,39,39)"/><path d="M336.2 1156.1 336.2 1158.1 337.2 1159.1 354.2 1159.1 359.7 1168.3 360.7 1169.1 362.2 1169.1 374.2 1162.6 376.2 1163.3 386.7 1169.1 388.2 1169.1 389.2 1168.3 394.7 1159.1 411.4 1159.1 412.4 1158.1 412.4 1156.1 410.7 1148.6 406.4 1140.6 395.2 1132.6 353.7 1132.6 342.2 1140.6 337.9 1149.1ZM294.4 1044.3 294.4 1126.1 454.2 1126.1 454.2 1044.3ZM339.9 1093.1 340.2 1092.8 356.2 1092.8 356.9 1092.3 362.2 1083.3 373.7 1089.8 375.2 1089.8 386.7 1083.3 391.9 1092.3 392.7 1092.8 408.4 1092.8 408.7 1093.3 407.4 1098.6 403.7 1105.3 393.7 1112.8 355.2 1112.8 344.9 1105.3 341.2 1098.1Z" fill="rgb(59,59,59)"/><path d="M336.7 1156.1 336.7 1158.1 337.2 1158.6 354.4 1158.6 359.9 1167.8 360.7 1168.6 362.2 1168.6 374.2 1162.1 376.7 1163.1 386.7 1168.6 388.2 1168.6 388.9 1167.8 394.4 1158.6 411.4 1158.6 411.9 1158.1 411.9 1156.1 410.2 1148.6 406.2 1141.1 404.2 1139.3 395.2 1133.1 353.7 1133.1 345.2 1138.8 342.4 1141.1 338.4 1149.1ZM294.4 1044.3 294.4 1125.6 454.2 1125.6 454.2 1044.3ZM339.4 1092.6 339.7 1092.3 356.2 1092.3 361.9 1082.8 373.7 1089.3 375.2 1089.3 386.9 1082.8 392.7 1092.3 408.9 1092.3 409.2 1093.3 407.9 1098.6 403.9 1105.8 393.7 1113.3 355.2 1113.3 344.7 1105.8 340.7 1098.1Z" fill="rgb(78,78,78)"/><path d="M337.2 1156.3 337.4 1158.1 354.7 1158.1 360.9 1168.1 361.9 1168.1 374.4 1161.3 386.9 1168.1 387.9 1168.1 394.2 1158.1 411.2 1158.1 411.4 1157.8 411.4 1156.3 409.7 1148.8 405.7 1141.3 394.9 1133.6 353.9 1133.6 342.9 1141.3 338.9 1149.3ZM294.4 1044.3 294.4 1125.1 454.2 1125.1 454.2 1044.3ZM338.7 1092.1 338.9 1091.8 355.9 1091.8 361.7 1082.1 373.9 1088.8 374.9 1088.8 387.2 1082.1 392.9 1091.8 409.7 1091.8 409.9 1092.3 408.4 1098.8 404.4 1106.1 393.9 1113.8 354.9 1113.8 344.2 1106.1 340.2 1098.3Z" fill="rgb(98,98,98)"/><path d="M337.7 1156.6 337.7 1157.6 355.2 1157.6 361.2 1167.6 364.7 1166.1 374.2 1160.8 387.7 1167.6 393.7 1157.6 410.9 1157.6 409.2 1149.1 405.2 1141.6 394.7 1134.1 354.2 1134.1 343.4 1141.6 339.4 1149.6ZM294.4 1044.3 294.4 1124.6 454.2 1124.6 454.2 1044.3ZM337.9 1091.6 338.2 1091.3 355.7 1091.3 361.4 1081.3 374.2 1088.3 376.7 1087.3 387.4 1081.3 393.2 1091.3 410.4 1091.3 410.7 1091.6 408.9 1099.1 404.9 1106.3 394.2 1114.3 354.7 1114.3 343.7 1106.3 339.7 1098.6Z" fill="rgb(118,118,118)"/><path d="M337.9 1157.3 355.4 1157.3 361.4 1167.3 374.4 1160.3 387.4 1167.3 393.4 1157.3 410.7 1157.3 408.9 1149.3 404.9 1141.8 394.4 1134.3 354.4 1134.3 343.7 1141.8 339.7 1149.8ZM294.4 1044.3 294.4 1124.3 454.2 1124.3 454.2 1044.3ZM337.7 1091.3 337.9 1091.1 355.4 1091.1 361.4 1080.8 374.4 1088.1 387.4 1080.8 393.4 1091.1 410.7 1091.1 410.9 1091.8 409.2 1099.3 405.2 1106.6 394.4 1114.6 354.4 1114.6 343.4 1106.6 339.4 1098.8Z" fill="rgb(137,137,137)"/><path d="M338.2 1157.1 355.7 1157.1 361.4 1166.8 374.2 1160.1 377.7 1161.6 387.4 1166.8 393.2 1157.1 410.4 1157.1 408.7 1149.6 404.7 1142.1 394.2 1134.6 354.7 1134.6 343.9 1142.1 339.9 1150.1ZM294.4 1044.3 294.4 1124.1 454.2 1124.1 454.2 1044.3ZM337.4 1091.1 337.7 1090.8 355.2 1090.8 361.2 1080.6 363.7 1081.6 374.2 1087.6 376.2 1086.8 385.2 1081.6 387.7 1080.6 393.7 1090.8 410.9 1090.8 411.2 1092.1 409.4 1099.6 405.4 1106.8 394.7 1114.8 354.2 1114.8 343.2 1106.8 339.2 1099.1Z" fill="rgb(157,157,157)"/><path d="M338.9 1156.6 355.9 1156.6 361.7 1166.1 373.9 1159.6 374.9 1159.6 387.2 1166.1 392.9 1156.6 409.7 1156.6 408.2 1149.8 404.2 1142.3 393.9 1135.1 354.9 1135.1 344.4 1142.3 340.4 1150.3ZM294.4 1044.3 294.4 1123.6 454.2 1123.6 454.2 1044.3ZM336.9 1090.8 337.4 1090.3 354.7 1090.3 360.2 1080.8 360.9 1080.1 361.9 1080.1 374.4 1087.1 386.9 1080.1 387.9 1080.1 388.7 1080.8 394.2 1090.3 411.2 1090.3 411.7 1090.8 411.7 1092.3 409.9 1099.8 405.9 1107.1 394.9 1115.3 353.9 1115.3 344.7 1108.8 342.7 1107.1 338.7 1099.3 336.9 1092.3Z" fill="rgb(177,177,177)"/><path d="M339.7 1156.1 356.2 1156.1 356.9 1156.8 361.9 1165.3 373.7 1159.1 375.2 1159.1 386.9 1165.3 391.9 1156.8 392.7 1156.1 408.9 1156.1 407.7 1150.1 403.7 1142.6 393.7 1135.6 355.2 1135.6 344.9 1142.6 340.9 1150.6ZM294.4 1044.3 294.4 1123.1 454.2 1123.1 454.2 1044.3ZM336.4 1090.6 337.2 1089.8 354.4 1089.8 359.7 1080.6 360.7 1079.6 362.2 1079.6 374.2 1086.3 375.7 1085.8 386.7 1079.6 388.2 1079.6 389.2 1080.6 394.4 1089.8 411.4 1089.8 412.2 1090.6 412.2 1092.6 410.4 1100.1 406.4 1107.3 405.2 1108.6 395.2 1115.8 353.7 1115.8 344.4 1109.3 342.2 1107.3 338.2 1099.6 336.4 1092.6Z" fill="rgb(196,196,196)"/><path d="M340.2 1155.6 356.2 1155.6 357.2 1156.3 362.2 1164.8 373.7 1158.6 375.2 1158.6 386.7 1164.8 391.7 1156.3 392.7 1155.6 408.4 1155.6 407.2 1150.1 403.4 1143.1 393.7 1136.1 355.2 1136.1 345.2 1143.1 341.4 1150.6ZM294.4 1044.3 294.4 1122.6 454.2 1122.6 454.2 1044.3ZM335.9 1090.6 337.2 1089.3 354.2 1089.3 359.4 1080.1 360.7 1079.1 362.2 1079.1 374.2 1085.8 375.2 1085.6 386.7 1079.1 388.2 1079.1 389.4 1080.1 394.7 1089.3 411.4 1089.3 412.7 1090.6 412.7 1092.6 410.9 1100.1 406.7 1107.8 402.7 1111.1 395.2 1116.3 353.7 1116.3 343.9 1109.6 341.9 1107.8 337.7 1099.6 335.9 1092.6Z" fill="rgb(216,216,216)"/><path d="M340.9 1155.1 356.4 1155.1 357.4 1155.8 362.4 1164.1 373.4 1158.1 375.4 1158.1 386.4 1164.1 390.9 1156.6 392.4 1155.1 407.7 1155.1 406.7 1150.3 402.9 1143.3 393.4 1136.6 355.4 1136.6 345.7 1143.3 341.9 1150.8ZM294.4 1044.3 294.4 1122.1 454.2 1122.1 454.2 1044.3ZM335.4 1090.3 336.9 1088.8 353.9 1088.8 358.7 1080.3 360.4 1078.6 362.4 1078.6 374.4 1085.3 386.4 1078.6 388.4 1078.6 390.2 1080.3 394.9 1088.8 411.7 1088.8 413.2 1090.3 413.2 1092.8 411.4 1100.3 406.9 1108.3 395.4 1116.8 353.4 1116.8 341.7 1108.3 337.2 1099.8 335.4 1092.8Z" fill="rgb(235,235,235)"/><path d="M341.7 1154.6 356.4 1154.6 358.2 1156.1 362.4 1163.3 362.9 1163.3 373.4 1157.6 375.4 1157.6 385.9 1163.3 386.4 1163.3 390.7 1156.1 392.4 1154.6 407.2 1154.6 406.2 1150.3 402.7 1143.8 393.4 1137.1 355.4 1137.1 345.9 1143.8 342.4 1150.8ZM294.4 1044.3 294.4 1121.6 454.2 1121.6 454.2 1044.3ZM334.9 1090.3 336.9 1088.3 353.7 1088.3 358.4 1079.8 360.4 1078.1 362.4 1078.1 374.4 1084.8 386.4 1078.1 388.4 1078.1 390.4 1079.8 395.2 1088.3 411.7 1088.3 413.7 1090.3 413.7 1092.8 411.9 1100.3 407.7 1108.1 405.9 1109.8 395.4 1117.3 353.4 1117.3 343.7 1110.6 340.9 1108.1 336.7 1099.8 334.9 1092.8Z" fill="rgb(255,255,255)"/></g></g>
<path d="M393.21 1091.45 431.02 1091.45 412.12 1124.20 431.02 1156.95 393.21 1156.95 374.30 1189.70 355.39 1156.95 317.58 1156.95 336.48 1124.20 317.58 1091.45 355.39 1091.45 374.30 1058.70ZM343.12 1106.20 343.12 1142.20 374.30 1160.20 405.48 1142.20 405.48 1106.20 374.30 1088.20Z" fill="none" stroke="#3a3a3a" stroke-width="0.5"/>
<circle cx="288.3" cy="761.4" r="8.6" fill="url(#rsph)" stroke="#d41414" stroke-width="1.5"/>
<circle cx="288.3" cy="996.2" r="8.6" fill="url(#bsph)" stroke="#2020e0" stroke-width="1.5"/>
<text x="524.7" y="1156.0" font-family="Liberation Serif" font-size="40.5" text-anchor="start" fill="#000">SC-II</text>
<text x="114.5" y="738.5" font-family="Liberation Serif" font-size="35" text-anchor="start" fill="#e00a0a" font-style="italic">d</text>
<text x="131.1" y="750.0" font-family="Liberation Serif" font-size="20" text-anchor="start" fill="#e00a0a" font-style="italic">xy</text>
<text x="296.2" y="737.3" font-family="Liberation Serif" font-size="35" text-anchor="start" fill="#e00a0a" font-style="italic">d</text>
<text x="313.8" y="750.7" font-family="Liberation Serif" font-size="25" text-anchor="start" fill="#e00a0a">±</text>
<text x="443.6" y="738.6" font-family="Liberation Serif" font-size="35" text-anchor="start" fill="#e00a0a" font-style="italic">d</text>
<text x="460.7" y="750.0" font-family="Liberation Serif" font-size="20" text-anchor="start" fill="#e00a0a" font-style="italic">x²-y²</text>
<text x="126.9" y="1040.4" font-family="Liberation Serif" font-size="35" text-anchor="start" fill="#0000ff" font-style="italic">p</text>
<text x="144.8" y="1052.0" font-family="Liberation Serif" font-size="20" text-anchor="start" fill="#0000ff" font-style="italic">x</text>
<text x="300.3" y="1022.8" font-family="Liberation Serif" font-size="35" text-anchor="start" fill="#0000ff" font-style="italic">p</text>
<text x="319.0" y="1036.7" font-family="Liberation Serif" font-size="25" text-anchor="start" fill="#0000ff">±</text>
<text x="429.0" y="1046.8" font-family="Liberation Serif" font-size="35" text-anchor="start" fill="#0000ff" font-style="italic">p</text>
<text x="447.7" y="1058.0" font-family="Liberation Serif" font-size="20" text-anchor="start" fill="#0000ff" font-style="italic">y</text>
<g clip-path="url(#hD)" stroke="#e25656" stroke-width="1.25"><line x1="541.0" y1="979.8" x2="686.1" y2="834.7"/><line x1="565.6" y1="979.8" x2="710.7" y2="834.7"/><line x1="590.2" y1="979.8" x2="735.2" y2="834.7"/><line x1="614.7" y1="979.8" x2="759.8" y2="834.7"/><line x1="639.2" y1="979.8" x2="784.3" y2="834.7"/><line x1="663.8" y1="979.8" x2="808.9" y2="834.7"/><line x1="688.4" y1="979.8" x2="833.5" y2="834.7"/><line x1="712.9" y1="979.8" x2="858.0" y2="834.7"/><line x1="737.5" y1="979.8" x2="882.5" y2="834.7"/><line x1="762.0" y1="979.8" x2="907.1" y2="834.7"/><line x1="786.5" y1="979.8" x2="931.6" y2="834.7"/><line x1="811.1" y1="979.8" x2="956.2" y2="834.7"/><line x1="835.7" y1="979.8" x2="980.8" y2="834.7"/><line x1="860.2" y1="979.8" x2="1005.3" y2="834.7"/><line x1="884.8" y1="979.8" x2="1029.8" y2="834.7"/><line x1="909.3" y1="979.8" x2="1054.4" y2="834.7"/><line x1="933.9" y1="979.8" x2="1079.0" y2="834.7"/><line x1="958.4" y1="979.8" x2="1103.5" y2="834.7"/><line x1="983.0" y1="979.8" x2="1128.0" y2="834.7"/><line x1="1007.5" y1="979.8" x2="1152.6" y2="834.7"/><line x1="1032.0" y1="979.8" x2="1177.1" y2="834.7"/><line x1="1056.6" y1="979.8" x2="1201.7" y2="834.7"/><line x1="1081.1" y1="979.8" x2="1226.2" y2="834.7"/><line x1="1105.7" y1="979.8" x2="1250.8" y2="834.7"/><line x1="1130.3" y1="979.8" x2="1275.4" y2="834.7"/><line x1="1154.8" y1="979.8" x2="1299.9" y2="834.7"/><line x1="1179.4" y1="979.8" x2="1324.5" y2="834.7"/><line x1="1203.9" y1="979.8" x2="1349.0" y2="834.7"/><line x1="1228.5" y1="979.8" x2="1373.5" y2="834.7"/><line x1="1253.0" y1="979.8" x2="1398.1" y2="834.7"/><line x1="1277.5" y1="979.8" x2="1422.6" y2="834.7"/><line x1="1302.1" y1="979.8" x2="1447.2" y2="834.7"/></g>
<line x1="731.8" y1="836.7" x2="1264.7" y2="836.7" stroke="#e06262" stroke-width="1.2"/>
<line x1="731.8" y1="977.8" x2="1264.7" y2="977.8" stroke="#e06262" stroke-width="1.2"/>
<line x1="927.1" y1="638.3" x2="927.1" y2="1165.2" stroke="#000" stroke-width="2.5" stroke-dasharray="9.8 11.7" stroke-linecap="round"/>
<line x1="1152.1" y1="638.3" x2="1152.1" y2="1165.2" stroke="#000" stroke-width="2.5" stroke-dasharray="9.8 11.7" stroke-linecap="round"/>
<path d="M731.8,633.8 C732.6,634.9 735.1,638.2 736.8,640.5 C738.5,642.7 740.1,644.9 741.8,647.2 C743.5,649.4 745.2,651.7 746.8,654.0 C748.5,656.3 750.2,658.6 751.8,660.9 C753.5,663.2 755.2,665.5 756.8,667.9 C758.5,670.2 760.2,672.5 761.8,674.9 C763.5,677.2 765.2,679.6 766.9,681.9 C768.5,684.3 770.2,686.6 771.9,689.0 C773.5,691.3 775.2,693.7 776.9,696.1 C778.5,698.4 780.2,700.8 781.9,703.1 C783.5,705.5 785.2,707.8 786.9,710.2 C788.6,712.5 790.2,714.8 791.9,717.1 C793.6,719.5 795.2,721.8 796.9,724.1 C798.6,726.4 800.2,728.7 801.9,730.9 C803.6,733.2 805.2,735.5 806.9,737.7 C808.6,740.0 810.3,742.2 811.9,744.4 C813.6,746.6 815.3,748.8 816.9,751.0 C818.6,753.1 820.3,755.3 821.9,757.4 C823.6,759.5 825.3,761.6 826.9,763.7 C828.6,765.8 830.3,767.8 832.0,769.8 C833.6,771.8 835.3,773.8 837.0,775.8 C838.6,777.7 840.3,779.6 842.0,781.5 C843.6,783.4 845.3,785.3 847.0,787.1 C848.6,788.9 850.3,790.7 852.0,792.4 C853.7,794.2 855.3,795.9 857.0,797.5 C858.7,799.2 860.3,800.8 862.0,802.4 C863.7,803.9 865.3,805.5 867.0,806.9 C868.7,808.4 870.3,809.9 872.0,811.2 C873.7,812.6 875.4,814.0 877.0,815.2 C878.7,816.5 880.4,817.8 882.0,818.9 C883.7,820.1 885.4,821.2 887.0,822.3 C888.7,823.4 890.4,824.4 892.0,825.3 C893.7,826.3 895.4,827.2 897.1,828.0 C898.7,828.8 900.4,829.6 902.1,830.3 C903.7,831.0 905.4,831.7 907.1,832.2 C908.7,832.8 910.4,833.3 912.1,833.8 C913.7,834.2 915.4,834.6 917.1,834.9 C918.8,835.2 920.4,835.4 922.1,835.5 C923.8,835.7 926.3,835.7 927.1,835.8" fill="none" stroke="#0000f5" stroke-width="2.5" stroke-linejoin="round" stroke-linecap="round" clip-path="url(#clipD)"/>
<path d="M731.8,764.0 C732.6,764.0 735.1,764.1 736.8,764.2 C738.5,764.3 740.1,764.5 741.8,764.6 C743.5,764.8 745.2,765.0 746.8,765.2 C748.5,765.5 750.2,765.7 751.8,766.0 C753.5,766.3 755.2,766.6 756.8,767.0 C758.5,767.3 760.2,767.7 761.8,768.1 C763.5,768.5 765.2,768.9 766.9,769.3 C768.5,769.8 770.2,770.3 771.9,770.7 C773.5,771.2 775.2,771.8 776.9,772.3 C778.5,772.8 780.2,773.4 781.9,774.0 C783.5,774.5 785.2,775.1 786.9,775.7 C788.6,776.4 790.2,777.0 791.9,777.7 C793.6,778.3 795.2,779.0 796.9,779.7 C798.6,780.4 800.2,781.1 801.9,781.8 C803.6,782.5 805.2,783.2 806.9,784.0 C808.6,784.7 810.3,785.5 811.9,786.3 C813.6,787.1 815.3,787.8 816.9,788.6 C818.6,789.4 820.3,790.3 821.9,791.1 C823.6,791.9 825.3,792.7 826.9,793.6 C828.6,794.4 830.3,795.3 832.0,796.1 C833.6,797.0 835.3,797.8 837.0,798.7 C838.6,799.6 840.3,800.5 842.0,801.4 C843.6,802.2 845.3,803.1 847.0,804.0 C848.6,804.9 850.3,805.8 852.0,806.7 C853.7,807.6 855.3,808.5 857.0,809.4 C858.7,810.3 860.3,811.2 862.0,812.1 C863.7,813.0 865.3,813.9 867.0,814.8 C868.7,815.7 870.3,816.6 872.0,817.5 C873.7,818.4 875.4,819.2 877.0,820.1 C878.7,820.9 880.4,821.7 882.0,822.6 C883.7,823.4 885.4,824.1 887.0,824.9 C888.7,825.7 890.4,826.4 892.0,827.1 C893.7,827.8 895.4,828.5 897.1,829.1 C898.7,829.7 900.4,830.3 902.1,830.9 C903.7,831.4 905.4,832.0 907.1,832.4 C908.7,832.9 910.4,833.3 912.1,833.7 C913.7,834.1 915.4,834.4 917.1,834.7 C918.8,834.9 920.4,835.1 922.1,835.3 C923.8,835.4 926.3,835.5 927.1,835.5" fill="none" stroke="#0000f5" stroke-width="2.5" stroke-linejoin="round" stroke-linecap="round" clip-path="url(#clipD)"/>
<path d="M927.1,837.1 C928.0,837.0 930.5,837.0 932.2,836.8 C933.9,836.7 935.6,836.4 937.3,836.1 C939.0,835.8 940.7,835.4 942.4,834.9 C944.1,834.4 945.9,833.9 947.6,833.3 C949.3,832.7 951.0,832.0 952.7,831.2 C954.4,830.5 956.1,829.7 957.8,828.8 C959.5,827.9 961.2,827.0 962.9,826.0 C964.6,825.1 966.3,824.0 968.0,822.9 C969.7,821.8 971.4,820.7 973.1,819.5 C974.8,818.3 976.5,817.1 978.2,815.8 C979.9,814.5 981.6,813.2 983.4,811.8 C985.1,810.4 986.8,809.0 988.5,807.6 C990.2,806.2 991.9,804.7 993.6,803.2 C995.3,801.7 997.0,800.1 998.7,798.6 C1000.4,797.0 1002.1,795.4 1003.8,793.8 C1005.5,792.2 1007.2,790.5 1008.9,788.9 C1010.6,787.2 1012.3,785.5 1014.0,783.8 C1015.7,782.2 1017.4,780.4 1019.1,778.7 C1020.9,777.0 1022.6,775.3 1024.3,773.6 C1026.0,771.8 1027.7,770.1 1029.4,768.3 C1031.1,766.6 1032.8,764.8 1034.5,763.1 C1036.2,761.4 1037.9,759.6 1039.6,757.9 C1041.3,756.1 1043.0,754.4 1044.7,752.7 C1046.4,750.9 1048.1,749.2 1049.8,747.5 C1051.5,745.8 1053.2,744.1 1054.9,742.4 C1056.6,740.7 1058.3,739.1 1060.1,737.4 C1061.8,735.7 1063.5,734.1 1065.2,732.5 C1066.9,730.8 1068.6,729.2 1070.3,727.6 C1072.0,726.0 1073.7,724.4 1075.4,722.8 C1077.1,721.3 1078.8,719.7 1080.5,718.2 C1082.2,716.6 1083.9,715.1 1085.6,713.6 C1087.3,712.1 1089.0,710.7 1090.7,709.2 C1092.4,707.8 1094.1,706.4 1095.8,705.0 C1097.6,703.6 1099.3,702.2 1101.0,700.8 C1102.7,699.5 1104.4,698.2 1106.1,696.9 C1107.8,695.6 1109.5,694.3 1111.2,693.1 C1112.9,691.9 1114.6,690.7 1116.3,689.5 C1118.0,688.3 1119.7,687.2 1121.4,686.1 C1123.1,685.0 1124.8,683.9 1126.5,682.9 C1128.2,682.0 1129.9,681.1 1131.6,680.3 C1133.3,679.5 1135.1,678.8 1136.8,678.3 C1138.5,677.8 1140.2,677.4 1141.9,677.3 C1143.6,677.1 1145.3,677.1 1147.0,677.3 C1148.7,677.6 1151.2,678.5 1152.1,678.7" fill="none" stroke="#0000f5" stroke-width="2.5" stroke-linejoin="round" stroke-linecap="round" clip-path="url(#clipD)"/>
<path d="M927.1,838.1 C928.0,838.0 930.5,838.0 932.2,837.9 C933.9,837.7 935.6,837.5 937.3,837.3 C939.0,837.0 940.7,836.7 942.4,836.3 C944.1,835.9 945.9,835.5 947.6,835.0 C949.3,834.5 951.0,834.0 952.7,833.4 C954.4,832.8 956.1,832.1 957.8,831.4 C959.5,830.7 961.2,830.0 962.9,829.2 C964.6,828.4 966.3,827.5 968.0,826.6 C969.7,825.8 971.4,824.8 973.1,823.9 C974.8,822.9 976.5,821.9 978.2,820.8 C979.9,819.8 981.6,818.7 983.4,817.6 C985.1,816.4 986.8,815.3 988.5,814.1 C990.2,812.9 991.9,811.7 993.6,810.5 C995.3,809.2 997.0,807.9 998.7,806.6 C1000.4,805.3 1002.1,804.0 1003.8,802.7 C1005.5,801.3 1007.2,799.9 1008.9,798.5 C1010.6,797.2 1012.3,795.7 1014.0,794.3 C1015.7,792.9 1017.4,791.5 1019.1,790.0 C1020.9,788.5 1022.6,787.1 1024.3,785.6 C1026.0,784.1 1027.7,782.6 1029.4,781.1 C1031.1,779.6 1032.8,778.1 1034.5,776.6 C1036.2,775.1 1037.9,773.6 1039.6,772.1 C1041.3,770.5 1043.0,769.0 1044.7,767.5 C1046.4,765.9 1048.1,764.4 1049.8,762.9 C1051.5,761.3 1053.2,759.8 1054.9,758.3 C1056.6,756.7 1058.3,755.2 1060.1,753.7 C1061.8,752.1 1063.5,750.6 1065.2,749.1 C1066.9,747.5 1068.6,746.0 1070.3,744.5 C1072.0,742.9 1073.7,741.4 1075.4,739.9 C1077.1,738.4 1078.8,736.9 1080.5,735.4 C1082.2,733.8 1083.9,732.3 1085.6,730.9 C1087.3,729.4 1089.0,727.9 1090.7,726.4 C1092.4,724.9 1094.1,723.5 1095.8,722.0 C1097.6,720.6 1099.3,719.1 1101.0,717.7 C1102.7,716.2 1104.4,714.8 1106.1,713.4 C1107.8,712.0 1109.5,710.6 1111.2,709.2 C1112.9,707.9 1114.6,706.5 1116.3,705.1 C1118.0,703.8 1119.7,702.5 1121.4,701.1 C1123.1,699.8 1124.8,698.5 1126.5,697.3 C1128.2,696.0 1129.9,694.7 1131.6,693.5 C1133.3,692.2 1135.1,691.0 1136.8,689.8 C1138.5,688.6 1140.2,687.5 1141.9,686.3 C1143.6,685.2 1145.3,684.0 1147.0,682.9 C1148.7,681.8 1151.2,680.2 1152.1,679.7" fill="none" stroke="#0000f5" stroke-width="2.5" stroke-linejoin="round" stroke-linecap="round" clip-path="url(#clipD)"/>
<path d="M1152.1,680.3 C1153.0,679.7 1155.5,677.7 1157.2,676.4 C1158.9,675.1 1160.6,673.8 1162.3,672.6 C1164.0,671.4 1165.7,670.2 1167.5,669.0 C1169.2,667.8 1170.9,666.7 1172.6,665.6 C1174.3,664.5 1176.0,663.4 1177.7,662.4 C1179.4,661.3 1181.1,660.3 1182.8,659.3 C1184.5,658.3 1186.2,657.4 1187.9,656.5 C1189.6,655.5 1191.3,654.6 1193.0,653.8 C1194.8,652.9 1196.5,652.1 1198.2,651.3 C1199.9,650.5 1201.6,649.7 1203.3,649.0 C1205.0,648.3 1206.7,647.5 1208.4,646.9 C1210.1,646.2 1211.8,645.6 1213.5,644.9 C1215.2,644.3 1216.9,643.7 1218.6,643.2 C1220.3,642.6 1222.0,642.1 1223.8,641.6 C1225.5,641.1 1227.2,640.7 1228.9,640.2 C1230.6,639.8 1232.3,639.4 1234.0,639.0 C1235.7,638.7 1237.4,638.3 1239.1,638.0 C1240.8,637.7 1242.5,637.4 1244.2,637.2 C1245.9,636.9 1247.6,636.7 1249.3,636.5 C1251.1,636.4 1252.8,636.2 1254.5,636.1 C1256.2,636.0 1257.9,635.9 1259.6,635.8 C1261.3,635.7 1263.8,635.7 1264.7,635.7" fill="none" stroke="#0000f5" stroke-width="2.5" stroke-linejoin="round" stroke-linecap="round" clip-path="url(#clipD)"/>
<path d="M1152.1,678.6 C1153.0,679.3 1155.5,681.3 1157.2,682.7 C1158.9,684.1 1160.6,685.6 1162.3,687.1 C1164.0,688.6 1165.7,690.2 1167.5,691.8 C1169.2,693.4 1170.9,695.0 1172.6,696.6 C1174.3,698.3 1176.0,700.0 1177.7,701.7 C1179.4,703.4 1181.1,705.1 1182.8,706.9 C1184.5,708.6 1186.2,710.3 1187.9,712.1 C1189.6,713.8 1191.3,715.6 1193.0,717.3 C1194.8,719.1 1196.5,720.8 1198.2,722.6 C1199.9,724.3 1201.6,726.0 1203.3,727.7 C1205.0,729.4 1206.7,731.1 1208.4,732.7 C1210.1,734.4 1211.8,736.0 1213.5,737.6 C1215.2,739.2 1216.9,740.7 1218.6,742.2 C1220.3,743.7 1222.0,745.1 1223.8,746.5 C1225.5,747.9 1227.2,749.3 1228.9,750.6 C1230.6,751.8 1232.3,753.1 1234.0,754.2 C1235.7,755.3 1237.4,756.4 1239.1,757.4 C1240.8,758.4 1242.5,759.3 1244.2,760.2 C1245.9,761.0 1247.6,761.7 1249.3,762.4 C1251.1,763.0 1252.8,763.6 1254.5,764.0 C1256.2,764.5 1257.9,764.8 1259.6,765.0 C1261.3,765.3 1263.8,765.3 1264.7,765.4" fill="none" stroke="#0000f5" stroke-width="2.5" stroke-linejoin="round" stroke-linecap="round" clip-path="url(#clipD)"/>
<path d="M731.8,1039.4 C732.6,1039.3 735.1,1039.2 736.8,1039.1 C738.5,1038.9 740.1,1038.8 741.8,1038.6 C743.5,1038.4 745.2,1038.2 746.8,1038.0 C748.5,1037.8 750.2,1037.5 751.8,1037.3 C753.5,1037.0 755.2,1036.7 756.8,1036.4 C758.5,1036.1 760.2,1035.7 761.8,1035.4 C763.5,1035.0 765.2,1034.7 766.9,1034.3 C768.5,1033.9 770.2,1033.5 771.9,1033.0 C773.5,1032.6 775.2,1032.1 776.9,1031.7 C778.5,1031.2 780.2,1030.7 781.9,1030.2 C783.5,1029.7 785.2,1029.2 786.9,1028.7 C788.6,1028.1 790.2,1027.6 791.9,1027.0 C793.6,1026.5 795.2,1025.9 796.9,1025.3 C798.6,1024.7 800.2,1024.1 801.9,1023.5 C803.6,1022.9 805.2,1022.3 806.9,1021.6 C808.6,1021.0 810.3,1020.3 811.9,1019.7 C813.6,1019.0 815.3,1018.3 816.9,1017.7 C818.6,1017.0 820.3,1016.3 821.9,1015.6 C823.6,1014.9 825.3,1014.2 826.9,1013.5 C828.6,1012.8 830.3,1012.1 832.0,1011.3 C833.6,1010.6 835.3,1009.9 837.0,1009.1 C838.6,1008.4 840.3,1007.7 842.0,1006.9 C843.6,1006.2 845.3,1005.4 847.0,1004.7 C848.6,1003.9 850.3,1003.1 852.0,1002.4 C853.7,1001.6 855.3,1000.9 857.0,1000.1 C858.7,999.3 860.3,998.6 862.0,997.8 C863.7,997.0 865.3,996.3 867.0,995.5 C868.7,994.8 870.3,994.0 872.0,993.3 C873.7,992.5 875.4,991.8 877.0,991.0 C878.7,990.3 880.4,989.6 882.0,988.9 C883.7,988.2 885.4,987.5 887.0,986.9 C888.7,986.2 890.4,985.6 892.0,985.0 C893.7,984.4 895.4,983.8 897.1,983.3 C898.7,982.7 900.4,982.2 902.1,981.7 C903.7,981.3 905.4,980.8 907.1,980.4 C908.7,980.0 910.4,979.6 912.1,979.3 C913.7,979.0 915.4,978.7 917.1,978.5 C918.8,978.3 920.4,978.1 922.1,978.0 C923.8,977.9 926.3,977.8 927.1,977.8" fill="none" stroke="#0000f5" stroke-width="2.5" stroke-linejoin="round" stroke-linecap="round" clip-path="url(#clipD)"/>
<path d="M731.8,1119.9 C732.6,1119.8 735.1,1119.8 736.8,1119.6 C738.5,1119.5 740.1,1119.2 741.8,1118.9 C743.5,1118.6 745.2,1118.3 746.8,1117.8 C748.5,1117.3 750.2,1116.8 751.8,1116.2 C753.5,1115.6 755.2,1114.9 756.8,1114.1 C758.5,1113.4 760.2,1112.5 761.8,1111.6 C763.5,1110.7 765.2,1109.7 766.9,1108.6 C768.5,1107.6 770.2,1106.4 771.9,1105.2 C773.5,1104.0 775.2,1102.7 776.9,1101.3 C778.5,1100.0 780.2,1098.5 781.9,1097.0 C783.5,1095.6 785.2,1094.0 786.9,1092.4 C788.6,1090.9 790.2,1089.2 791.9,1087.5 C793.6,1085.9 795.2,1084.2 796.9,1082.4 C798.6,1080.7 800.2,1078.9 801.9,1077.1 C803.6,1075.3 805.2,1073.5 806.9,1071.7 C808.6,1069.8 810.3,1068.0 811.9,1066.1 C813.6,1064.3 815.3,1062.4 816.9,1060.5 C818.6,1058.6 820.3,1056.8 821.9,1054.9 C823.6,1053.0 825.3,1051.1 826.9,1049.2 C828.6,1047.4 830.3,1045.5 832.0,1043.6 C833.6,1041.8 835.3,1039.9 837.0,1038.1 C838.6,1036.3 840.3,1034.4 842.0,1032.6 C843.6,1030.9 845.3,1029.1 847.0,1027.3 C848.6,1025.6 850.3,1023.9 852.0,1022.2 C853.7,1020.5 855.3,1018.9 857.0,1017.3 C858.7,1015.6 860.3,1014.1 862.0,1012.5 C863.7,1011.0 865.3,1009.5 867.0,1008.0 C868.7,1006.6 870.3,1005.2 872.0,1003.8 C873.7,1002.4 875.4,1001.1 877.0,999.8 C878.7,998.5 880.4,997.3 882.0,996.1 C883.7,994.9 885.4,993.8 887.0,992.7 C888.7,991.7 890.4,990.6 892.0,989.7 C893.7,988.7 895.4,987.8 897.1,987.0 C898.7,986.1 900.4,985.3 902.1,984.6 C903.7,983.9 905.4,983.2 907.1,982.6 C908.7,982.0 910.4,981.5 912.1,981.1 C913.7,980.6 915.4,980.2 917.1,979.9 C918.8,979.6 920.4,979.3 922.1,979.2 C923.8,979.0 926.3,978.9 927.1,978.9" fill="none" stroke="#0000f5" stroke-width="2.5" stroke-linejoin="round" stroke-linecap="round" clip-path="url(#clipD)"/>
<path d="M927.1,978.5 C927.9,978.6 930.5,978.6 932.1,978.7 C933.8,978.8 935.5,978.9 937.2,979.1 C938.9,979.3 940.5,979.5 942.2,979.8 C943.9,980.0 945.6,980.4 947.3,980.7 C948.9,981.1 950.6,981.5 952.3,981.9 C954.0,982.4 955.7,982.9 957.3,983.4 C959.0,984.0 960.7,984.6 962.4,985.2 C964.1,985.8 965.7,986.5 967.4,987.2 C969.1,987.9 970.8,988.7 972.4,989.5 C974.1,990.3 975.8,991.2 977.5,992.1 C979.2,993.0 980.8,993.9 982.5,994.9 C984.2,995.8 985.9,996.8 987.6,997.8 C989.2,998.9 990.9,999.9 992.6,1000.9 C994.3,1002.0 996.0,1003.0 997.6,1004.1 C999.3,1005.2 1001.0,1006.2 1002.7,1007.3 C1004.4,1008.4 1006.0,1009.4 1007.7,1010.5 C1009.4,1011.6 1011.1,1012.7 1012.8,1013.8 C1014.4,1014.9 1016.1,1015.9 1017.8,1017.0 C1019.5,1018.1 1021.2,1019.2 1022.8,1020.3 C1024.5,1021.4 1026.2,1022.5 1027.9,1023.6 C1029.6,1024.7 1031.2,1025.8 1032.9,1026.9 C1034.6,1028.1 1036.3,1029.2 1038.0,1030.3 C1039.6,1031.4 1041.3,1032.5 1043.0,1033.6 C1044.7,1034.7 1046.4,1035.8 1048.0,1036.9 C1049.7,1038.0 1051.4,1039.2 1053.1,1040.3 C1054.7,1041.4 1056.4,1042.5 1058.1,1043.6 C1059.8,1044.7 1061.5,1045.8 1063.1,1046.9 C1064.8,1048.0 1066.5,1049.1 1068.2,1050.1 C1069.9,1051.2 1071.5,1052.3 1073.2,1053.4 C1074.9,1054.5 1076.6,1055.5 1078.3,1056.6 C1079.9,1057.7 1081.6,1058.7 1083.3,1059.8 C1085.0,1060.8 1086.7,1061.9 1088.3,1062.9 C1090.0,1063.9 1091.7,1064.9 1093.4,1065.9 C1095.1,1067.0 1096.7,1068.0 1098.4,1069.0 C1100.1,1069.9 1101.8,1070.9 1103.5,1071.9 C1105.1,1072.9 1106.8,1073.8 1108.5,1074.8 C1110.2,1075.8 1111.9,1076.7 1113.5,1077.6 C1115.2,1078.6 1116.9,1079.5 1118.6,1080.4 C1120.3,1081.3 1121.9,1082.2 1123.6,1083.1 C1125.3,1084.0 1127.0,1084.9 1128.7,1085.7 C1130.3,1086.6 1132.0,1087.4 1133.7,1088.3 C1135.4,1089.1 1137.1,1090.0 1138.7,1090.8 C1140.4,1091.6 1142.1,1092.4 1143.8,1093.2 C1145.4,1094.0 1147.1,1094.8 1148.8,1095.5 C1150.5,1096.3 1152.2,1097.0 1153.8,1097.8 C1155.5,1098.5 1157.2,1099.2 1158.9,1099.9 C1160.6,1100.7 1162.2,1101.4 1163.9,1102.0 C1165.6,1102.7 1167.3,1103.4 1169.0,1104.0 C1170.6,1104.7 1172.3,1105.3 1174.0,1106.0 C1175.7,1106.6 1177.4,1107.2 1179.0,1107.8 C1180.7,1108.4 1182.4,1109.0 1184.1,1109.5 C1185.8,1110.1 1187.4,1110.6 1189.1,1111.2 C1190.8,1111.7 1192.5,1112.2 1194.2,1112.7 C1195.8,1113.2 1197.5,1113.7 1199.2,1114.1 C1200.9,1114.6 1202.6,1115.1 1204.2,1115.5 C1205.9,1115.9 1207.6,1116.3 1209.3,1116.7 C1211.0,1117.1 1212.6,1117.5 1214.3,1117.9 C1216.0,1118.2 1217.7,1118.6 1219.4,1118.9 C1221.0,1119.2 1222.7,1119.5 1224.4,1119.8 C1226.1,1120.1 1227.7,1120.3 1229.4,1120.6 C1231.1,1120.8 1232.8,1121.1 1234.5,1121.3 C1236.1,1121.5 1237.8,1121.7 1239.5,1121.9 C1241.2,1122.1 1242.9,1122.2 1244.5,1122.4 C1246.2,1122.5 1247.9,1122.6 1249.6,1122.7 C1251.3,1122.8 1252.9,1122.9 1254.6,1123.0 C1256.3,1123.0 1258.0,1123.1 1259.7,1123.1 C1261.3,1123.2 1263.9,1123.2 1264.7,1123.2" fill="none" stroke="#0000f5" stroke-width="2.5" stroke-linejoin="round" stroke-linecap="round" clip-path="url(#clipD)"/>
<path d="M927.1,978.0 C927.9,978.1 930.5,978.2 932.1,978.4 C933.8,978.6 935.5,978.9 937.2,979.2 C938.9,979.6 940.5,980.1 942.2,980.6 C943.9,981.2 945.6,981.8 947.3,982.4 C948.9,983.1 950.6,983.9 952.3,984.7 C954.0,985.5 955.7,986.4 957.3,987.3 C959.0,988.2 960.7,989.2 962.4,990.2 C964.1,991.3 965.7,992.4 967.4,993.5 C969.1,994.6 970.8,995.8 972.4,997.0 C974.1,998.2 975.8,999.4 977.5,1000.7 C979.2,1001.9 980.8,1003.2 982.5,1004.5 C984.2,1005.8 985.9,1007.2 987.6,1008.5 C989.2,1009.8 990.9,1011.1 992.6,1012.5 C994.3,1013.8 996.0,1015.1 997.6,1016.4 C999.3,1017.7 1001.0,1019.0 1002.7,1020.4 C1004.4,1021.7 1006.0,1023.0 1007.7,1024.3 C1009.4,1025.6 1011.1,1026.9 1012.8,1028.2 C1014.4,1029.5 1016.1,1030.8 1017.8,1032.1 C1019.5,1033.5 1021.2,1034.8 1022.8,1036.2 C1024.5,1037.5 1026.2,1038.9 1027.9,1040.3 C1029.6,1041.7 1031.2,1043.1 1032.9,1044.5 C1034.6,1046.0 1036.3,1047.4 1038.0,1048.9 C1039.6,1050.4 1041.3,1052.0 1043.0,1053.5 C1044.7,1055.1 1046.4,1056.7 1048.0,1058.3 C1049.7,1059.9 1051.4,1061.5 1053.1,1063.2 C1054.7,1064.8 1056.4,1066.4 1058.1,1068.0 C1059.8,1069.6 1061.5,1071.3 1063.1,1072.9 C1064.8,1074.4 1066.5,1076.0 1068.2,1077.6 C1069.9,1079.1 1071.5,1080.6 1073.2,1082.1 C1074.9,1083.5 1076.6,1085.0 1078.3,1086.3 C1079.9,1087.7 1081.6,1089.0 1083.3,1090.3 C1085.0,1091.5 1086.7,1092.7 1088.3,1093.8 C1090.0,1094.9 1091.7,1095.9 1093.4,1096.8 C1095.1,1097.7 1096.7,1098.6 1098.4,1099.3 C1100.1,1100.1 1101.8,1100.7 1103.5,1101.2 C1105.1,1101.8 1106.8,1102.2 1108.5,1102.6 C1110.2,1102.9 1111.9,1103.2 1113.5,1103.4 C1115.2,1103.6 1116.9,1103.7 1118.6,1103.7 C1120.3,1103.8 1121.9,1103.7 1123.6,1103.6 C1125.3,1103.5 1127.0,1103.3 1128.7,1103.0 C1130.3,1102.7 1132.0,1102.4 1133.7,1102.0 C1135.4,1101.6 1137.1,1101.2 1138.7,1100.7 C1140.4,1100.2 1142.1,1099.6 1143.8,1099.0 C1145.4,1098.4 1147.1,1097.7 1148.8,1097.0 C1150.5,1096.3 1152.2,1095.5 1153.8,1094.7 C1155.5,1093.9 1157.2,1093.1 1158.9,1092.2 C1160.6,1091.3 1162.2,1090.4 1163.9,1089.5 C1165.6,1088.5 1167.3,1087.6 1169.0,1086.6 C1170.6,1085.6 1172.3,1084.6 1174.0,1083.5 C1175.7,1082.5 1177.4,1081.4 1179.0,1080.4 C1180.7,1079.3 1182.4,1078.2 1184.1,1077.2 C1185.8,1076.1 1187.4,1075.0 1189.1,1073.9 C1190.8,1072.8 1192.5,1071.7 1194.2,1070.6 C1195.8,1069.5 1197.5,1068.4 1199.2,1067.3 C1200.9,1066.2 1202.6,1065.1 1204.2,1064.1 C1205.9,1063.0 1207.6,1061.9 1209.3,1060.9 C1211.0,1059.9 1212.6,1058.9 1214.3,1057.9 C1216.0,1056.9 1217.7,1055.9 1219.4,1055.0 C1221.0,1054.1 1222.7,1053.1 1224.4,1052.3 C1226.1,1051.4 1227.7,1050.6 1229.4,1049.8 C1231.1,1049.0 1232.8,1048.2 1234.5,1047.5 C1236.1,1046.8 1237.8,1046.1 1239.5,1045.5 C1241.2,1044.9 1242.9,1044.4 1244.5,1043.8 C1246.2,1043.3 1247.9,1042.9 1249.6,1042.5 C1251.3,1042.1 1252.9,1041.8 1254.6,1041.5 C1256.3,1041.2 1258.0,1041.0 1259.7,1040.9 C1261.3,1040.7 1263.9,1040.6 1264.7,1040.6" fill="none" stroke="#0000f5" stroke-width="2.5" stroke-linejoin="round" stroke-linecap="round" clip-path="url(#clipD)"/>
<rect x="731.8" y="632.8" width="532.9000000000001" height="532.4000000000001" fill="none" stroke="#000" stroke-width="2.4"/>
<line x1="731.8" y1="1105.9" x2="741.3" y2="1105.9" stroke="#000" stroke-width="2.4"/>
<line x1="731.8" y1="1046.7" x2="749.8" y2="1046.7" stroke="#000" stroke-width="2.4"/>
<line x1="731.8" y1="987.5" x2="741.3" y2="987.5" stroke="#000" stroke-width="2.4"/>
<line x1="731.8" y1="928.3" x2="749.8" y2="928.3" stroke="#000" stroke-width="2.4"/>
<line x1="731.8" y1="869.1" x2="741.3" y2="869.1" stroke="#000" stroke-width="2.4"/>
<line x1="731.8" y1="809.9" x2="749.8" y2="809.9" stroke="#000" stroke-width="2.4"/>
<line x1="731.8" y1="750.7" x2="741.3" y2="750.7" stroke="#000" stroke-width="2.4"/>
<line x1="731.8" y1="691.5" x2="749.8" y2="691.5" stroke="#000" stroke-width="2.4"/>
<text transform="translate(693.5,1173.2) scale(0.9,1)" font-family="Liberation Serif" font-size="36">14</text>
<text transform="translate(693.5,1059.3) scale(0.9,1)" font-family="Liberation Serif" font-size="36">15</text>
<text transform="translate(693.5,940.8) scale(0.9,1)" font-family="Liberation Serif" font-size="36">16</text>
<text transform="translate(693.5,825.9) scale(0.9,1)" font-family="Liberation Serif" font-size="36">17</text>
<text transform="translate(693.5,704.3) scale(0.9,1)" font-family="Liberation Serif" font-size="36">18</text>
<polygon points="918.10,707.40 880.45,642.19 805.15,642.19 767.50,707.40 805.15,772.61 880.45,772.61" fill="#fff" stroke="#7a7a7a" stroke-width="1.1"/>
<g clip-path="url(#mD1)"><g filter="url(#fD1)"><rect x="762.8" y="627.4" width="160" height="160" fill="#000"/><path d="M763.4 719.5 763.4 720.8 764.4 724.5 778.4 768.8 779.9 771.0 781.2 771.8 782.4 772.0 784.7 771.8 786.7 770.5 816.2 746.5 825.7 730.0 826.9 726.8 826.7 724.5 825.9 723.3 819.2 716.5 817.9 715.8 816.7 715.5 767.4 715.5 766.2 715.8 764.9 716.5 763.9 717.8ZM779.9 644.0 778.4 646.3 763.7 692.8 763.4 695.3 763.7 696.5 764.4 697.8 765.7 698.8 767.4 699.3 816.7 699.3 817.9 699.0 819.2 698.3 825.9 691.5 826.7 690.3 826.9 688.0 825.7 684.8 816.2 668.3 786.7 644.5 784.7 643.3 783.4 643.0 781.2 643.3ZM837.7 627.5 837.4 634.5 836.7 635.5 836.2 635.5 834.4 637.0 833.2 640.3 833.2 648.8 834.4 652.0 835.4 653.0 836.7 653.5 837.4 654.5 837.7 667.3 838.4 667.5 838.4 747.3 837.7 747.5 837.7 756.8 837.4 757.8 836.9 758.5 834.9 759.3 833.9 760.3 832.7 763.8 832.7 775.3 832.9 776.5 833.9 778.8 834.9 779.8 836.9 780.5 837.4 781.3 837.7 787.3 922.7 787.3 922.7 627.5ZM871.4 724.3 911.7 724.3 911.9 724.5 909.7 732.0 908.7 733.8 907.7 733.5 902.4 730.3 901.7 730.0 898.4 730.3 896.9 731.8 890.7 742.8 890.9 746.0 892.4 747.5 899.2 751.3 901.7 751.3 903.2 750.3 903.4 750.5 902.7 754.3 900.7 760.0 876.7 740.8 868.9 727.3ZM900.7 655.0 902.9 661.5 903.2 664.0 902.9 664.3 901.7 663.5 899.2 663.5 892.4 667.3 890.9 668.8 890.7 672.0 896.9 683.0 898.4 684.5 899.2 684.8 902.4 684.5 907.7 681.3 908.7 681.0 909.7 682.8 911.9 690.3 911.7 690.5 871.4 690.5 868.9 687.5 876.7 674.0Z" fill="rgb(20,20,20)"/><path d="M764.2 719.8 765.2 724.5 779.2 768.8 781.2 771.0 782.7 771.3 784.7 771.0 813.7 747.8 816.2 745.3 825.9 728.0 826.2 726.5 825.9 724.5 817.9 716.5 816.4 716.3 767.7 716.3 766.2 716.5 764.4 718.3ZM781.2 644.0 779.4 645.8 778.7 647.8 778.7 648.5 764.4 692.8 764.2 694.3 764.4 696.5 766.2 698.3 767.7 698.5 816.4 698.5 817.9 698.3 825.9 690.3 826.2 688.3 825.9 686.8 816.2 669.5 813.7 667.0 784.7 644.0 783.2 643.8ZM838.2 627.5 838.2 634.5 837.4 637.3 836.2 638.8 835.2 641.3 835.2 647.8 837.9 653.3 838.2 654.5 838.2 667.3 839.2 667.5 839.2 747.3 838.2 747.5 838.2 757.5 837.4 759.8 835.2 761.8 834.4 763.3 833.9 765.8 834.2 774.8 835.2 777.3 837.4 779.3 837.9 780.5 838.2 787.3 922.7 787.3 922.7 627.5ZM870.9 723.5 912.7 723.5 912.9 723.8 909.9 733.5 908.4 735.3 907.9 735.3 906.4 734.0 901.9 731.5 899.9 731.3 897.7 733.0 893.2 740.5 891.9 743.3 891.9 744.5 893.7 746.8 899.7 750.0 900.9 750.0 901.9 749.5 903.2 748.3 904.2 746.5 904.9 745.8 905.4 746.0 904.7 750.3 901.4 760.5 900.9 761.3 876.2 741.3 867.9 726.8ZM900.9 653.8 901.4 654.5 904.9 665.5 905.2 667.0 904.9 668.0 905.2 668.3 904.7 668.8 901.9 665.3 900.9 664.8 899.7 664.8 893.7 668.0 892.4 669.3 891.9 670.3 891.9 671.5 897.7 681.8 899.9 683.5 901.9 683.3 906.4 680.8 907.9 679.5 908.7 679.8 909.9 681.3 912.9 691.0 912.7 691.3 870.9 691.3 867.9 688.0 876.2 673.5Z" fill="rgb(39,39,39)"/><path d="M780.4 769.3 781.2 770.0 782.7 770.5 784.2 770.3 785.4 769.5 815.2 745.3 824.2 729.5 825.4 726.5 824.9 724.5 817.9 717.5 816.4 717.0 767.7 717.0 766.2 717.5 765.4 718.3 764.9 719.8 765.2 721.5ZM781.2 645.0 779.9 646.8 769.4 680.5 764.9 694.3 765.4 696.5 766.2 697.3 767.7 697.8 816.4 697.8 817.9 697.3 824.9 690.3 825.4 688.3 824.2 685.3 815.2 669.5 813.7 668.0 785.4 645.5 783.2 644.5ZM838.9 627.5 838.9 635.3 836.9 641.5 836.9 647.5 838.9 653.8 838.9 667.3 839.9 667.5 839.9 747.3 838.9 747.5 838.9 757.8 837.4 761.0 835.4 763.8 834.9 766.0 835.2 774.5 835.9 776.3 837.4 778.0 838.9 781.3 838.9 787.3 922.7 787.3 922.7 627.5ZM870.7 722.8 913.9 722.8 914.2 723.0 910.9 733.3 909.2 736.5 907.9 736.8 905.9 734.8 901.9 732.5 900.9 732.3 899.7 732.5 897.9 734.3 893.2 742.5 892.9 744.0 893.9 745.8 897.9 748.3 900.4 749.0 902.2 748.0 905.7 742.0 906.7 741.0 907.7 741.5 906.9 744.3 906.9 745.8 901.4 762.8 875.4 741.8 866.9 726.8ZM901.4 652.3 905.7 665.0 907.4 671.5 907.4 672.8 906.9 673.5 906.2 673.3 902.2 666.8 900.4 665.8 898.9 666.0 893.9 669.0 892.9 670.8 893.2 672.3 897.9 680.5 899.7 682.3 900.4 682.5 901.9 682.3 905.9 680.0 907.9 678.0 908.7 678.0 910.4 680.3 914.2 691.8 913.9 692.0 870.7 692.0 866.9 688.0 875.4 673.0Z" fill="rgb(59,59,59)"/><path d="M901.4 733.5 900.2 733.5 899.2 734.3 894.2 743.0 894.2 744.3 894.9 745.3 899.4 747.8 900.7 747.8 901.7 747.0 906.7 738.3 906.7 737.0 905.9 736.0ZM781.2 769.0 783.2 769.8 785.2 768.8 814.4 745.0 823.4 729.3 824.7 726.5 824.2 724.8 817.7 718.3 816.4 717.8 767.7 717.8 766.2 718.5 765.7 720.5ZM899.4 667.0 894.9 669.5 894.2 670.5 894.2 671.8 899.2 680.5 900.2 681.3 901.4 681.3 905.9 678.8 906.7 677.8 906.7 676.5 901.7 667.8 900.7 667.0ZM781.4 645.8 779.9 649.3 769.9 681.5 765.7 694.3 766.2 696.3 767.7 697.0 816.4 697.0 817.7 696.5 824.2 690.0 824.7 688.3 823.4 685.5 814.4 669.8 785.2 646.3 783.2 645.3ZM839.9 627.5 839.9 635.3 839.7 637.5 838.4 641.3 838.4 647.8 839.7 651.5 839.9 667.3 840.7 667.5 840.7 747.3 839.9 747.5 839.9 757.0 839.7 758.0 836.7 763.3 835.9 765.3 835.9 773.8 836.7 775.8 839.7 781.0 839.9 787.3 922.7 787.3 922.7 627.5ZM870.4 722.0 914.9 722.0 915.2 722.3 911.2 735.0 909.2 740.0 909.2 741.3 901.9 763.8 901.2 763.5 874.7 742.0 866.2 727.0 866.2 726.5ZM901.9 651.3 908.4 671.0 909.2 674.8 911.2 679.8 915.2 692.5 914.9 692.8 870.4 692.8 866.2 688.3 866.2 687.8 874.7 672.8 901.2 651.5Z" fill="rgb(78,78,78)"/><path d="M901.4 735.8 900.4 736.0 896.4 743.0 896.7 744.0 899.4 745.5 900.4 745.3 904.4 738.3 904.2 737.3ZM782.2 768.8 782.9 769.0 784.4 768.3 813.9 744.3 823.9 726.3 823.7 725.5 816.9 718.8 816.2 718.5 767.9 718.5 766.7 719.3 766.4 720.3 768.7 726.8 781.4 767.8ZM899.4 669.3 896.7 670.8 896.4 671.8 900.4 678.8 901.4 679.0 904.2 677.5 904.4 676.5 900.4 669.5ZM782.2 646.3 781.4 647.3 770.7 681.8 766.4 694.5 766.7 695.5 767.9 696.3 816.2 696.3 816.9 696.0 823.7 689.3 823.9 688.5 813.9 670.5 784.4 646.8 782.9 646.0ZM840.9 627.5 840.9 635.5 841.4 637.5 843.2 639.5 845.7 640.3 846.9 641.8 846.9 647.3 845.7 648.8 843.2 649.5 841.7 651.0 840.9 653.5 840.9 667.3 841.4 667.5 841.4 747.3 840.9 747.5 840.9 756.8 839.7 760.0 838.2 762.0 836.7 765.8 836.7 773.3 837.4 775.5 839.7 779.0 840.7 781.3 840.9 787.3 922.7 787.3 922.7 627.5ZM869.9 721.3 915.9 721.3 916.2 721.5 903.9 760.8 902.2 765.3 874.2 742.8 864.9 726.5ZM902.2 649.8 904.2 655.0 916.2 693.3 915.9 693.5 869.9 693.5 864.9 688.3 874.2 672.0Z" fill="rgb(98,98,98)"/><path d="M782.4 768.0 782.9 768.3 784.2 767.5 813.2 744.0 823.2 726.3 816.7 719.5 816.2 719.3 767.9 719.3 767.4 719.5 767.2 720.3ZM782.4 647.0 767.2 694.5 767.4 695.3 767.9 695.5 816.2 695.5 816.7 695.3 823.2 688.5 813.2 670.8 784.2 647.5 782.9 646.8ZM841.9 627.5 842.2 635.0 842.9 636.8 843.9 637.8 846.2 639.0 847.9 641.5 847.9 647.5 846.2 650.0 843.9 651.3 842.9 652.3 841.9 655.3 841.9 667.3 842.2 667.5 841.9 757.3 840.9 759.8 838.4 763.0 837.4 765.8 837.4 773.3 838.4 776.0 840.9 779.3 841.9 781.8 841.9 787.3 922.7 787.3 922.7 627.5ZM869.7 720.5 916.9 720.5 917.2 720.8 902.7 766.5 873.4 743.0 864.2 726.8 864.2 726.3ZM902.7 648.5 917.2 694.0 916.9 694.3 869.7 694.3 864.2 688.5 864.2 688.0 873.4 671.8Z" fill="rgb(118,118,118)"/><path d="M782.9 767.5 812.7 743.5 822.4 726.3 816.2 720.0 767.9 720.0ZM782.9 647.5 767.9 694.8 816.2 694.8 822.4 688.5 812.7 671.3ZM842.9 627.5 843.2 634.5 844.2 636.3 847.4 639.0 848.7 641.5 848.4 648.3 847.4 650.0 844.2 652.8 842.9 655.3 842.9 758.0 841.9 760.3 839.7 762.8 838.2 765.8 838.2 773.3 839.2 775.5 841.4 778.0 842.7 780.3 842.9 787.3 922.7 787.3 922.7 627.5ZM869.4 719.8 917.9 719.8 918.2 720.0 903.9 765.5 902.9 767.8 872.9 743.5 863.2 726.3ZM902.9 647.3 903.9 649.5 903.9 650.3 918.2 694.8 917.9 695.0 869.4 695.0 863.2 688.5 872.9 671.3Z" fill="rgb(137,137,137)"/><path d="M783.2 766.3 812.2 743.0 821.4 726.8 821.4 726.3 815.9 720.8 768.9 720.8ZM783.2 648.8 768.9 694.0 815.9 694.0 821.4 688.5 821.4 688.0 812.2 671.8ZM843.9 627.5 844.2 634.0 845.4 636.0 847.9 638.5 849.4 641.3 849.4 647.8 847.9 650.5 844.7 654.0 843.9 655.8 843.9 667.3 843.7 667.5 843.9 757.8 842.9 761.3 840.4 763.8 839.4 765.5 839.4 773.5 840.4 775.3 842.9 777.8 842.9 778.5 843.7 780.0 843.9 787.3 922.7 787.3 922.7 627.5ZM868.9 719.3 869.4 719.0 917.9 719.0 918.7 719.5 918.9 720.3 916.7 726.8 904.7 765.5 903.4 768.3 902.9 768.5 901.7 767.8 872.4 744.0 862.4 726.3ZM903.4 646.8 904.7 649.5 914.7 681.8 918.9 694.5 918.7 695.3 917.9 695.8 869.4 695.8 868.9 695.5 862.4 688.5 872.4 670.8 901.7 647.3 902.9 646.5Z" fill="rgb(157,157,157)"/><path d="M783.7 765.0 811.4 742.8 820.7 726.5 815.7 721.5 769.9 721.5ZM783.7 650.0 769.9 693.3 815.7 693.3 820.7 688.3 811.4 672.0ZM844.9 627.5 845.2 633.8 846.2 635.5 849.4 639.5 850.2 641.3 849.9 648.5 848.2 651.3 845.7 654.3 844.9 656.3 844.9 667.3 844.4 667.5 844.4 747.3 844.9 747.5 844.9 759.0 844.4 761.3 842.9 764.3 841.7 765.8 841.7 773.3 842.9 774.8 844.7 778.8 844.9 787.3 922.7 787.3 922.7 627.5ZM868.7 718.5 869.4 718.3 917.9 718.3 919.4 719.3 919.7 720.3 917.4 726.8 904.7 767.8 903.7 769.0 902.9 769.3 901.4 768.5 871.7 744.3 861.7 726.3 861.9 725.5ZM903.7 646.0 904.4 646.8 915.4 681.8 919.7 694.5 919.4 695.5 917.9 696.5 869.4 696.5 868.7 696.3 861.9 689.3 861.7 688.5 871.7 670.5 873.2 669.0 901.4 646.5 902.9 645.8Z" fill="rgb(177,177,177)"/><path d="M783.9 763.5 784.7 763.3 810.9 742.0 819.4 727.0 819.4 726.5 815.2 722.3 770.9 722.3 773.9 732.0 775.4 735.8 775.4 736.5 776.7 739.3 777.4 743.0ZM783.9 733.8 785.4 733.8 786.7 735.0 791.2 742.8 791.2 744.3 789.9 745.5 786.4 747.5 784.9 747.5 783.7 746.3 779.2 738.5 779.2 737.0 780.4 735.8ZM783.9 651.5 777.7 671.0 776.7 675.5 774.9 679.8 770.9 692.5 815.2 692.5 819.4 688.3 819.4 687.8 810.9 672.8 784.7 651.8ZM786.4 667.3 789.9 669.3 791.2 670.5 791.2 672.0 786.7 679.8 785.4 681.0 783.9 681.0 780.4 679.0 779.2 677.8 779.2 676.3 783.7 668.5 784.9 667.3ZM845.9 627.5 846.2 633.8 847.4 636.0 849.9 638.8 850.9 641.3 850.7 648.8 849.9 650.3 846.9 653.8 845.9 656.0 845.9 667.3 845.2 667.5 845.2 747.3 845.9 747.5 845.9 762.5 845.4 765.3 845.4 773.8 845.9 776.5 845.9 787.3 922.7 787.3 922.7 627.5ZM867.9 718.0 869.2 717.5 918.2 717.5 919.9 718.5 920.4 720.5 918.2 727.0 905.4 768.0 904.4 769.5 902.7 770.0 900.7 769.0 871.2 745.0 862.2 729.3 860.9 726.5 861.4 724.8ZM904.4 645.5 905.4 647.0 916.2 681.5 920.4 694.3 919.9 696.3 918.2 697.3 869.2 697.3 867.9 696.8 861.4 690.0 860.9 688.3 862.2 685.5 871.2 669.8 900.7 646.0 902.7 645.0Z" fill="rgb(196,196,196)"/><path d="M784.4 762.5 810.2 741.8 818.7 726.8 814.9 723.0 771.9 723.0 775.2 733.3 776.7 736.3 777.9 736.5 779.7 734.8 783.7 732.5 784.7 732.3 785.9 732.5 787.7 734.3 792.4 742.5 792.7 743.5 792.4 744.8 790.7 746.5 786.7 748.8 785.2 749.0 784.4 748.8 782.7 747.0 779.9 742.0 779.2 741.3 778.4 741.5 779.2 744.3 779.2 745.8ZM784.4 652.5 779.4 668.5 778.7 672.8 778.9 673.3 779.9 672.8 782.7 667.8 784.4 666.0 785.2 665.8 786.7 666.0 790.7 668.3 792.4 670.0 792.7 670.8 792.4 672.3 787.7 680.5 785.9 682.3 785.2 682.5 783.7 682.3 779.7 680.0 777.9 678.3 777.2 678.3 776.4 679.0 775.2 681.5 771.9 691.8 814.9 691.8 818.7 688.0 810.2 673.0ZM846.9 627.5 846.9 633.5 848.2 636.0 850.7 638.3 851.7 640.8 851.7 648.3 850.7 650.8 848.2 653.0 846.9 655.5 846.9 667.3 845.9 667.5 845.9 747.3 846.9 747.5 846.9 760.5 847.9 765.0 847.9 774.0 846.9 778.5 846.9 787.3 922.7 787.3 922.7 627.5ZM867.7 717.3 869.2 716.8 918.2 716.8 919.7 717.3 920.7 718.3 921.2 720.5 906.2 768.3 904.7 770.3 902.7 770.8 900.4 769.8 872.2 747.0 870.4 745.3 861.4 729.5 860.2 726.5 860.7 724.5ZM904.7 644.8 906.2 646.8 916.7 680.5 921.2 694.3 920.7 696.5 919.7 697.5 918.2 698.0 869.2 698.0 867.7 697.5 860.7 690.3 860.2 688.3 861.4 685.3 870.4 669.5 872.2 667.8 900.4 645.3 902.7 644.3Z" fill="rgb(216,216,216)"/><path d="M784.9 761.0 809.4 741.3 817.7 726.8 814.7 723.8 773.2 723.8 776.2 733.5 777.4 735.0 777.9 735.0 779.4 733.8 783.9 731.3 785.9 731.3 787.2 732.0 788.2 733.3 793.7 742.8 793.7 744.8 792.9 746.0 790.9 747.5 786.4 750.0 783.9 749.8 782.9 749.0 781.2 746.3 780.9 746.5 781.4 750.3ZM784.9 654.0 781.4 664.8 781.2 667.8 781.4 668.0 782.9 665.8 783.9 665.0 786.4 664.8 792.7 668.5 793.7 670.0 793.7 672.0 788.2 681.5 787.2 682.8 785.9 683.5 783.9 683.5 779.4 681.0 777.9 679.8 777.2 680.0 776.2 681.3 773.2 691.0 814.7 691.0 817.7 688.0 809.4 673.5ZM847.7 627.5 847.7 633.5 848.4 635.3 849.7 635.8 851.7 637.8 852.7 641.3 852.7 647.8 851.9 650.8 849.7 653.3 848.4 653.8 847.7 655.5 847.7 667.3 846.7 667.5 846.7 747.3 847.7 747.5 847.7 759.3 848.4 762.8 849.4 765.3 849.4 773.8 848.4 776.3 847.7 779.8 847.7 787.3 922.7 787.3 922.7 627.5ZM867.7 716.3 869.2 716.0 918.2 716.0 919.7 716.3 921.7 718.3 921.9 719.8 921.7 722.0 907.4 766.5 907.4 767.3 906.7 769.3 904.7 771.3 902.7 771.5 901.2 771.3 872.2 748.0 869.4 745.3 859.7 728.0 859.4 726.5 859.7 724.5ZM904.7 643.8 906.7 645.8 907.4 647.8 907.4 648.5 921.7 692.8 921.9 694.3 921.7 696.5 919.7 698.5 918.2 698.8 869.2 698.8 867.7 698.5 859.7 690.3 859.4 688.3 859.7 686.8 869.4 669.5 872.2 666.8 901.2 643.8 902.7 643.5Z" fill="rgb(235,235,235)"/><path d="M785.2 759.8 808.9 740.8 816.7 727.3 814.2 724.5 774.2 724.5 775.9 730.5 777.2 733.5 784.2 729.8 786.2 729.8 787.4 730.3 789.2 732.3 795.2 743.0 794.9 745.8 792.7 748.0 786.2 751.5 784.2 751.5 782.7 751.0ZM785.2 655.3 783.2 661.5 782.9 663.8 784.2 663.3 786.2 663.3 792.7 666.8 794.7 668.5 795.2 669.8 795.2 671.8 789.2 682.5 787.4 684.5 786.2 685.0 784.2 685.0 777.2 681.3 776.4 682.8 774.2 690.3 814.2 690.3 816.7 687.5 808.9 674.0ZM848.2 627.5 848.4 633.5 848.9 634.0 849.7 634.0 851.2 634.8 852.7 636.3 853.4 637.8 853.9 641.0 853.7 650.3 852.7 652.8 851.2 654.3 849.7 655.0 848.9 655.0 848.4 655.5 848.2 656.3 848.2 667.3 847.4 667.5 847.4 747.3 848.2 747.5 848.4 759.0 848.7 759.8 850.7 761.5 851.7 764.3 851.7 774.8 850.7 777.5 848.7 779.3 848.4 780.0 848.2 787.3 922.7 787.3 922.7 627.5ZM866.4 716.3 867.7 715.5 868.9 715.3 918.4 715.3 920.2 715.8 921.7 717.0 922.4 718.3 922.7 719.5 922.4 722.0 907.7 768.8 905.9 771.3 904.7 772.0 902.4 772.3 901.2 772.0 899.2 770.8 869.4 746.5 859.9 730.0 858.7 726.8 858.9 724.5 859.7 723.3ZM905.9 643.8 907.7 646.3 922.4 692.8 922.7 695.3 922.4 696.5 921.7 697.8 920.2 699.0 918.4 699.5 868.9 699.5 867.7 699.3 866.4 698.5 859.7 691.5 858.9 690.3 858.7 688.0 859.9 684.8 869.4 668.3 870.9 666.8 899.2 644.3 901.2 643.0 902.4 642.8 904.7 643.0Z" fill="rgb(255,255,255)"/></g></g>
<path d="M836.40 772.60 836.40 754.50 805.21 736.50 789.54 745.54 783.14 734.46 798.81 725.41 798.81 689.39 783.14 680.34 789.54 669.26 805.21 678.30 836.40 660.30 836.40 642.20 849.20 642.20 849.20 660.30 880.39 678.30 896.06 669.26 902.46 680.34 886.79 689.39 886.79 725.41 902.46 734.46 896.06 745.54 880.39 736.50 849.20 754.50 849.20 772.60ZM860.70 676.40 824.90 676.40 807.00 707.40 824.90 738.40 860.70 738.40 878.60 707.40Z" fill="none" stroke="#3a3a3a" stroke-width="0.5"/>
<polygon points="1091.00,707.40 1053.25,642.02 977.75,642.02 940.00,707.40 977.75,772.78 1053.25,772.78" fill="#fff" stroke="#7a7a7a" stroke-width="1.1"/>
<g clip-path="url(#mD2)"><g filter="url(#fD2)"><rect x="935.5" y="627.4" width="160" height="160" fill="#000"/><path d="M1071.4 729.5 1070.1 730.0 1068.6 731.5 1062.6 742.0 1062.4 744.3 1062.9 745.5 1064.4 747.0 1071.6 751.0 1073.9 751.3 1075.1 750.8 1076.6 749.3 1082.6 738.8 1082.9 736.5 1082.4 735.3 1080.9 733.8 1073.6 729.8ZM957.6 729.5 949.9 733.8 948.4 735.3 948.1 738.5 954.4 749.5 955.9 751.0 959.1 751.3 966.9 747.0 968.4 745.5 968.6 742.3 962.4 731.3 960.9 729.8ZM985.9 719.8 974.9 738.8 973.6 742.0 974.1 745.5 980.9 768.0 981.6 769.8 982.6 771.0 983.9 771.8 985.1 772.0 1006.1 772.0 1006.6 772.5 1006.9 777.0 1008.1 778.8 1010.1 779.5 1021.1 779.5 1023.1 778.8 1023.9 778.0 1024.6 776.0 1024.6 772.5 1025.1 772.0 1046.1 772.0 1047.4 771.8 1049.1 770.5 1050.1 768.8 1056.9 746.3 1057.6 742.0 1056.4 738.8 1045.9 720.5 1044.6 719.0 1043.4 718.3 1042.1 718.0 1039.6 718.3 1024.4 723.0 1022.6 724.0 1021.6 725.3 1021.1 727.0 1021.1 765.8 1020.6 766.5 1010.6 766.5 1010.1 765.8 1010.1 727.0 1009.9 725.8 1009.1 724.5 1006.9 723.0 990.4 718.0 987.9 718.3ZM935.6 627.5 935.6 712.0 1095.4 712.0 1095.4 627.5ZM1030.1 651.8 1042.1 651.8 1042.6 652.3 1048.4 671.5 1047.9 673.0 1039.6 687.0 1030.4 684.5 1029.9 684.0 1029.9 652.0ZM1001.1 651.8 1001.4 652.0 1001.4 684.0 1000.9 684.5 991.6 687.0 982.9 672.0 983.1 670.5 988.6 652.3 989.1 651.8Z" fill="rgb(20,20,20)"/><path d="M1071.9 731.0 1070.6 731.5 1069.1 733.3 1064.9 740.5 1063.9 742.8 1063.9 743.8 1064.4 745.0 1066.6 746.8 1071.6 749.5 1073.4 749.8 1074.6 749.3 1076.1 747.5 1080.4 740.3 1081.4 738.0 1081.4 737.0 1080.9 735.8 1078.6 734.0 1073.6 731.3ZM957.9 730.8 951.1 734.5 949.9 735.8 949.4 736.8 949.4 738.0 950.6 740.8 955.1 748.3 957.4 750.0 958.9 750.0 965.6 746.3 966.9 745.0 967.4 744.0 967.4 742.8 966.1 740.0 961.6 732.5 959.4 730.8ZM974.6 740.8 974.4 743.0 974.9 745.5 982.1 769.3 983.9 771.0 985.4 771.3 1006.4 771.3 1007.9 772.3 1007.9 775.5 1008.4 776.8 1009.4 777.8 1010.6 778.3 1020.6 778.3 1021.4 778.0 1023.1 776.3 1023.4 772.3 1024.9 771.3 1045.9 771.3 1047.4 771.0 1049.4 768.8 1056.9 743.0 1056.6 740.8 1045.4 721.0 1043.4 719.0 1041.9 718.8 1039.6 719.0 1023.9 724.0 1022.1 725.8 1021.9 727.3 1021.9 766.0 1020.9 767.8 1010.4 767.8 1009.4 766.0 1009.4 727.3 1009.1 725.8 1007.4 724.0 991.6 719.0 990.1 718.8 987.9 719.0 985.9 721.0ZM935.6 627.5 935.6 711.3 1095.4 711.3 1095.4 627.5ZM1029.4 651.0 1042.6 651.0 1043.1 651.5 1049.1 671.5 1049.1 672.3 1040.4 687.3 1039.6 688.0 1035.4 686.5 1030.4 685.3 1029.1 684.5 1029.1 651.3ZM1001.9 651.0 1002.1 651.3 1002.1 684.5 1001.6 685.0 991.6 688.0 990.9 687.3 982.1 672.3 982.4 670.5 988.1 651.5 988.6 651.0Z" fill="rgb(39,39,39)"/><path d="M1071.9 732.3 1069.6 734.5 1065.4 742.0 1065.1 743.5 1065.4 744.3 1066.6 745.5 1072.1 748.5 1073.4 748.5 1075.6 746.3 1079.9 738.8 1080.1 737.3 1079.9 736.5 1078.6 735.3 1073.1 732.3ZM958.1 731.8 952.1 735.0 950.6 736.5 950.4 737.8 950.9 739.3 955.4 747.0 957.1 748.8 958.6 749.0 964.6 745.8 966.1 744.3 966.4 743.0 965.9 741.5 961.4 733.8 959.6 732.0ZM986.9 721.0 976.4 739.3 975.1 742.3 975.6 745.0 982.4 767.5 983.1 769.3 983.9 770.0 985.4 770.5 1007.9 770.5 1008.9 771.5 1008.9 775.3 1009.9 776.8 1010.9 777.3 1020.4 777.3 1021.4 776.8 1022.4 775.3 1022.4 771.5 1023.4 770.5 1045.9 770.5 1047.4 770.0 1048.1 769.3 1055.4 745.8 1056.1 742.3 1053.9 737.5 1044.4 721.0 1043.4 720.0 1041.1 719.5 1024.9 724.5 1023.9 725.0 1022.9 726.3 1022.6 727.3 1022.6 766.5 1022.1 768.3 1021.1 769.0 1020.4 768.8 1010.9 768.8 1010.1 769.0 1009.1 768.3 1008.6 766.5 1008.6 727.3 1008.1 725.8 1006.4 724.5 990.1 719.5 988.4 719.8ZM935.6 627.5 935.6 710.5 1095.4 710.5 1095.4 627.5ZM1028.6 650.3 1043.4 650.3 1044.1 651.8 1050.1 672.3 1040.1 689.0 1029.9 686.0 1028.4 685.3 1028.4 650.5ZM1002.6 650.3 1002.9 650.5 1002.9 685.3 1001.4 686.0 991.1 689.0 981.1 672.3 986.9 652.5 987.9 650.3Z" fill="rgb(59,59,59)"/><path d="M1009.9 771.0 1009.9 775.0 1011.1 776.3 1020.1 776.3 1021.4 775.0 1021.4 771.0 1020.1 769.8 1011.1 769.8ZM1072.4 733.8 1071.1 734.8 1067.6 740.8 1066.6 743.3 1068.1 744.8 1071.6 746.8 1072.9 747.0 1074.1 746.0 1077.6 740.0 1078.6 737.5 1077.1 736.0 1073.6 734.0ZM957.6 733.0 952.4 736.0 951.6 737.0 951.6 738.3 956.6 747.0 957.6 747.8 959.1 747.8 964.4 744.8 965.1 743.8 965.1 742.5 960.1 733.8 959.1 733.0ZM1042.6 720.5 1041.1 720.3 1026.6 724.8 1024.1 725.8 1023.4 727.3 1023.4 768.8 1025.1 769.8 1045.9 769.8 1047.1 769.3 1047.9 768.0 1055.4 742.3 1054.1 739.5 1043.6 721.3ZM988.6 720.5 987.6 721.3 977.1 739.5 975.9 742.3 976.1 744.0 983.4 768.0 984.1 769.3 985.4 769.8 1006.1 769.8 1007.9 768.8 1007.9 727.3 1007.1 725.8 1003.9 724.5 990.1 720.3ZM935.6 627.5 935.6 709.8 1095.4 709.8 1095.4 627.5ZM1027.9 649.5 1043.9 649.5 1044.6 650.8 1050.6 670.8 1050.9 672.5 1040.6 689.8 1028.9 686.5 1027.6 685.8 1027.6 649.8ZM1003.4 649.5 1003.6 649.8 1003.6 685.8 1002.4 686.5 990.6 689.8 980.4 672.5 980.4 671.5 986.4 651.5 987.4 649.5Z" fill="rgb(78,78,78)"/><path d="M1011.4 771.3 1011.4 774.8 1019.9 774.8 1019.9 771.3ZM957.9 735.3 954.6 737.0 953.9 737.8 953.9 738.3 957.9 745.3 958.9 745.5 962.1 743.8 962.9 743.0 962.9 742.5 958.9 735.5ZM1042.4 721.3 1041.4 721.0 1025.4 726.0 1024.4 726.8 1024.1 727.5 1024.1 767.8 1024.9 768.8 1025.6 769.0 1045.6 769.0 1046.4 768.8 1047.1 767.8 1054.6 742.5 1043.1 722.0ZM988.9 721.3 988.1 722.0 976.6 742.5 984.1 767.8 984.9 768.8 985.6 769.0 1005.6 769.0 1006.4 768.8 1007.1 767.8 1007.1 727.5 1006.9 726.8 1005.9 726.0 989.9 721.0ZM935.6 627.5 935.6 709.0 1095.4 709.0 1095.4 627.5ZM1027.1 648.8 1044.6 648.8 1045.4 650.5 1051.9 672.3 1042.6 688.3 1040.9 690.8 1026.9 686.5 1026.9 649.0ZM1004.1 648.8 1004.4 649.0 1004.4 686.5 990.4 690.8 988.6 688.3 979.4 672.3 985.6 651.3 986.6 648.8Z" fill="rgb(98,98,98)"/><path d="M1041.6 721.8 1026.1 726.5 1025.1 727.0 1024.9 727.5 1024.9 767.3 1025.1 768.0 1025.6 768.3 1045.6 768.3 1046.1 768.0 1046.6 767.0 1053.9 742.5 1042.4 722.3ZM989.6 721.8 988.9 722.3 977.4 742.5 984.6 767.0 985.1 768.0 985.6 768.3 1005.6 768.3 1006.1 768.0 1006.4 767.3 1006.4 727.5 1006.1 727.0 1005.1 726.5ZM935.6 627.5 935.6 708.3 1095.4 708.3 1095.4 627.5ZM1026.4 648.0 1045.1 648.0 1045.4 648.3 1052.6 672.5 1051.1 675.0 1050.6 675.3 1048.6 679.5 1041.4 691.8 1026.1 687.0 1026.1 648.3ZM1004.9 648.0 1005.1 648.3 1005.1 687.0 989.9 691.8 978.6 672.5 985.6 648.8 986.1 648.0Z" fill="rgb(118,118,118)"/><path d="M1041.6 722.5 1025.6 727.5 1025.6 767.5 1045.6 767.5 1053.1 742.5ZM989.6 722.5 978.1 742.5 985.6 767.5 1005.6 767.5 1005.6 727.5ZM935.6 627.5 935.6 707.5 1095.4 707.5 1095.4 627.5ZM1025.6 647.3 1045.6 647.3 1046.1 648.0 1053.4 672.5 1052.1 674.8 1050.9 676.0 1050.1 677.5 1050.1 678.3 1041.6 692.5 1026.1 688.0 1025.4 687.5 1025.4 647.5ZM1005.6 647.3 1005.9 647.5 1005.9 687.5 1005.1 688.0 989.6 692.5 977.9 672.5 985.1 648.0 985.6 647.3Z" fill="rgb(137,137,137)"/><path d="M1041.4 723.3 1026.4 728.0 1026.4 766.8 1045.1 766.8 1052.4 742.5ZM989.9 723.3 978.9 742.5 986.1 766.8 1004.9 766.8 1004.9 728.0ZM935.6 627.5 935.6 706.8 1095.4 706.8 1095.4 627.5ZM1025.6 646.5 1045.6 646.5 1046.4 647.0 1046.9 648.0 1054.1 672.5 1053.1 674.3 1051.1 676.3 1049.6 680.5 1042.6 692.5 1041.6 693.3 1026.1 688.8 1025.1 688.3 1024.6 687.5 1024.6 647.5ZM1005.6 646.5 1006.6 647.5 1006.6 687.5 1006.1 688.3 1005.1 688.8 989.6 693.3 988.6 692.5 977.1 672.5 984.4 648.0 984.9 647.0 985.6 646.5Z" fill="rgb(157,157,157)"/><path d="M1040.9 724.3 1027.1 728.5 1027.1 766.0 1044.6 766.0 1051.6 742.8ZM990.4 724.3 979.6 742.8 986.6 766.0 1004.1 766.0 1004.1 728.5ZM935.6 627.5 935.6 706.0 1095.4 706.0 1095.4 627.5ZM957.9 667.8 959.6 668.0 963.1 670.0 964.4 671.3 964.4 672.3 960.1 679.8 958.9 681.0 957.1 680.8 953.6 678.8 952.4 677.5 952.4 676.5 956.6 669.0ZM1072.9 666.5 1073.6 666.8 1074.9 668.3 1079.9 677.3 1078.9 678.8 1075.6 680.3 1074.4 680.3 1073.4 679.5 1068.4 670.8 1068.4 670.0 1070.4 667.8ZM1024.9 646.0 1025.6 645.8 1045.6 645.8 1046.4 646.0 1047.4 647.3 1054.9 672.5 1053.9 674.3 1051.6 676.5 1050.9 678.0 1050.4 680.8 1043.4 692.8 1042.4 693.8 1041.6 694.0 1033.6 691.5 1024.9 689.0 1024.1 688.3 1023.9 687.5 1023.9 647.5ZM1006.4 646.0 1007.4 647.5 1007.4 687.5 1007.1 688.3 1006.4 689.0 990.9 693.8 989.9 694.0 988.9 693.8 987.9 692.8 977.4 674.8 976.4 672.5 983.9 647.3 984.9 646.0 985.6 645.8 1005.6 645.8Z" fill="rgb(177,177,177)"/><path d="M1040.6 725.3 1027.9 729.3 1027.9 765.3 1043.9 765.3 1044.4 764.3 1050.4 744.3 1050.6 742.5ZM990.6 725.3 980.6 742.5 980.6 743.5 986.6 763.5 987.4 765.3 1003.4 765.3 1003.4 729.0ZM935.6 627.5 935.6 705.3 1095.4 705.3 1095.4 627.5ZM957.4 666.5 959.9 666.8 964.1 669.3 965.6 670.8 965.6 672.5 960.9 680.8 959.4 682.3 956.9 682.0 952.6 679.5 951.1 678.0 951.1 676.3 955.9 668.0ZM1073.6 665.8 1074.6 666.5 1080.6 676.8 1080.6 678.0 1079.9 679.0 1076.4 681.0 1071.4 682.5 1069.9 681.5 1064.9 672.8 1064.9 671.8 1067.1 669.3 1069.4 667.5 1072.4 665.8ZM1025.4 645.0 1045.9 645.0 1047.1 645.5 1048.1 647.0 1055.6 672.5 1054.9 674.0 1051.9 677.0 1051.4 678.0 1051.1 681.0 1043.9 693.5 1042.6 694.5 1041.9 694.8 1040.1 694.5 1033.4 692.3 1025.9 690.3 1024.1 689.5 1023.1 687.8 1023.1 647.3 1023.6 646.0ZM1005.9 645.0 1007.1 645.5 1008.1 647.3 1008.1 687.8 1007.1 689.5 1005.4 690.3 990.1 694.8 988.6 694.5 987.4 693.5 976.9 675.5 975.6 672.8 975.9 671.0 983.1 647.0 984.1 645.5 985.4 645.0ZM1009.9 639.3 1010.4 638.8 1020.9 638.8 1021.4 639.3 1021.4 643.3 1020.9 643.8 1010.4 643.8 1009.9 643.3Z" fill="rgb(196,196,196)"/><path d="M1040.1 726.0 1028.6 729.8 1028.6 764.5 1043.4 764.5 1049.9 742.8ZM991.1 726.0 981.4 742.8 981.9 745.0 987.9 764.5 1002.6 764.5 1002.6 729.8ZM935.6 627.5 935.6 704.5 1095.4 704.5 1095.4 627.5ZM957.1 665.5 959.9 665.8 964.6 668.5 966.6 670.5 966.6 672.5 961.1 682.0 959.6 683.3 956.9 683.0 952.1 680.3 950.1 678.3 950.1 676.3 955.6 666.8ZM1073.6 665.0 1075.4 666.5 1081.1 676.3 1081.4 678.0 1079.9 679.8 1076.9 681.5 1069.4 684.5 1067.4 684.5 1065.9 682.8 1061.4 675.0 1061.4 673.5 1063.9 670.8 1067.1 668.3 1071.9 665.3ZM1024.1 644.5 1025.4 644.3 1045.9 644.3 1047.4 644.8 1048.9 646.8 1056.4 672.5 1055.9 673.8 1052.1 677.5 1051.6 680.5 1051.9 680.8 1050.9 683.0 1044.6 693.8 1042.9 695.3 1041.1 695.5 1024.9 690.8 1023.9 690.3 1022.6 688.8 1022.4 687.8 1022.4 647.3 1022.9 645.5ZM1007.1 644.5 1008.4 645.5 1008.9 647.3 1008.9 687.8 1008.6 688.8 1007.4 690.3 1006.4 690.8 990.1 695.5 988.4 695.3 986.6 693.8 976.1 675.8 974.9 672.8 975.4 670.0 982.4 646.8 983.9 644.8 985.4 644.3 1005.9 644.3ZM1008.9 639.0 1010.1 637.8 1021.1 637.8 1022.4 639.0 1022.4 643.5 1021.1 644.8 1010.1 644.8 1008.9 643.5Z" fill="rgb(216,216,216)"/><path d="M1039.9 727.3 1036.6 728.0 1029.4 730.5 1029.4 763.8 1042.6 763.8 1048.4 745.3 1048.9 742.8ZM991.4 727.3 982.4 742.8 982.6 744.5 988.4 763.5 988.6 763.8 1001.9 763.8 1001.9 730.3ZM935.6 627.5 935.6 703.8 1095.4 703.8 1095.4 627.5ZM956.9 664.5 959.9 664.8 965.9 668.3 967.6 670.3 967.4 673.3 961.9 682.5 959.9 684.3 956.9 684.0 950.9 680.5 949.1 678.5 949.4 675.5 954.9 666.3ZM1074.4 664.5 1075.9 666.0 1082.1 677.0 1081.9 678.8 1079.1 681.0 1071.1 685.0 1066.4 686.8 1063.9 686.8 1062.9 685.8 1057.6 676.5 1057.6 675.5 1058.4 674.3 1061.6 671.3 1068.9 666.3 1072.6 664.3ZM981.9 645.8 983.9 643.8 985.4 643.5 1005.9 643.5 1007.4 643.8 1008.1 643.3 1008.1 638.8 1009.9 637.0 1021.4 637.0 1023.1 638.8 1023.1 643.3 1023.9 643.8 1025.4 643.5 1045.9 643.5 1047.4 643.8 1049.6 646.3 1057.1 671.8 1056.9 674.3 1052.9 677.5 1052.4 678.8 1052.4 681.8 1050.9 684.8 1045.6 693.8 1043.4 696.0 1041.9 696.3 1039.6 696.0 1023.9 691.3 1021.9 689.3 1021.6 687.8 1021.6 647.3 1021.9 646.8 1021.1 645.5 1010.1 645.5 1009.4 646.8 1009.6 647.3 1009.6 687.8 1009.4 689.3 1006.9 691.5 991.6 696.0 990.1 696.3 987.9 696.0 985.6 693.8 974.4 674.3 974.1 672.8 974.6 669.5Z" fill="rgb(235,235,235)"/><path d="M1039.4 728.0 1030.1 731.0 1030.1 763.0 1042.1 763.0 1042.4 762.8 1048.1 743.5 1047.4 741.5ZM991.9 728.0 983.1 743.0 983.4 744.5 988.9 762.8 989.1 763.0 1001.1 763.0 1001.1 731.0ZM935.6 627.5 935.6 703.0 1095.4 703.0 1095.4 627.5ZM957.4 663.0 959.4 663.3 966.6 667.3 968.4 668.8 969.1 670.8 968.9 672.8 962.9 683.3 961.4 685.0 959.4 685.8 957.4 685.5 950.1 681.5 948.4 680.0 947.6 678.0 947.9 676.0 953.9 665.5 955.4 663.8ZM973.4 671.8 980.6 647.0 981.4 645.3 982.6 643.8 983.9 643.0 985.1 642.8 1006.1 642.8 1006.9 643.0 1007.4 642.8 1007.4 638.0 1009.1 636.3 1022.1 636.3 1023.9 638.0 1023.9 642.8 1024.4 643.0 1025.1 642.8 1046.1 642.8 1047.4 643.0 1048.6 643.8 1050.4 646.3 1058.1 672.3 1068.9 665.3 1072.1 663.5 1073.9 663.3 1075.1 663.8 1076.1 664.8 1082.1 675.0 1083.1 677.3 1083.1 678.3 1082.6 679.5 1081.6 680.5 1071.6 686.0 1063.4 689.5 1061.1 689.5 1060.1 688.8 1054.4 679.0 1053.9 679.0 1053.1 682.0 1046.1 694.3 1044.6 696.0 1043.4 696.8 1042.1 697.0 1039.6 696.8 1023.4 691.8 1021.9 690.5 1021.1 689.3 1020.9 688.0 1020.9 646.3 1010.4 646.3 1010.4 688.0 1009.9 689.8 1007.9 691.8 991.6 696.8 989.1 697.0 987.4 696.5 985.1 694.3 973.6 674.3Z" fill="rgb(255,255,255)"/></g></g>
<path d="M1009.10 772.60 1009.10 754.50 977.91 736.50 962.24 745.54 955.84 734.46 971.51 725.41 971.51 689.39 955.84 680.34 962.24 669.26 977.91 678.30 1009.10 660.30 1009.10 642.20 1021.90 642.20 1021.90 660.30 1053.09 678.30 1068.76 669.26 1075.16 680.34 1059.49 689.39 1059.49 725.41 1075.16 734.46 1068.76 745.54 1053.09 736.50 1021.90 754.50 1021.90 772.60ZM1033.40 676.40 997.60 676.40 979.70 707.40 997.60 738.40 1033.40 738.40 1051.30 707.40Z" fill="none" stroke="#3a3a3a" stroke-width="0.5"/>
<polygon points="916.90,1121.00 879.25,1055.79 803.95,1055.79 766.30,1121.00 803.95,1186.21 879.25,1186.21" fill="#fff" stroke="#7a7a7a" stroke-width="1.1"/>
<g clip-path="url(#mD3)"><g filter="url(#fD3)"><rect x="761.6" y="1041.0" width="160" height="160" fill="#000"/><path d="M761.7 1041.1 761.7 1125.6 783.2 1125.6 783.7 1126.1 787.2 1139.6 798.0 1158.4 799.7 1159.9 809.7 1165.6 811.0 1165.9 813.2 1165.6 815.2 1164.1 827.7 1142.4 828.0 1138.9 826.7 1125.9 827.0 1125.6 837.0 1125.6 837.2 1125.9 837.2 1155.9 836.7 1156.1 836.7 1163.4 836.2 1164.4 834.5 1164.6 832.7 1165.9 831.7 1168.6 831.7 1189.6 832.0 1190.9 833.5 1193.1 836.5 1194.1 836.7 1200.9 921.5 1200.9 921.5 1116.6 900.0 1116.6 899.5 1115.9 896.2 1102.4 885.5 1083.6 883.7 1082.1 875.5 1077.4 872.2 1076.1 870.0 1076.4 868.0 1077.9 855.5 1099.9 855.2 1103.4 856.5 1116.4 856.2 1116.6 846.5 1116.6 846.2 1116.4 846.2 1086.1 846.7 1085.9 846.7 1078.6 847.5 1077.6 849.2 1077.1 850.5 1075.9 851.5 1072.9 851.5 1053.4 850.5 1050.4 849.2 1049.1 847.5 1048.6 846.7 1047.6 846.7 1041.1ZM890.0 1125.6 890.2 1126.4 887.7 1136.1 878.5 1152.1 873.5 1155.1 864.5 1139.9 865.5 1125.9 865.7 1125.6ZM809.7 1086.9 818.7 1102.4 817.7 1116.4 817.5 1116.6 793.2 1116.6 793.0 1116.1 795.7 1105.9 805.0 1089.9Z" fill="rgb(20,20,20)"/><path d="M761.7 1041.1 761.7 1124.9 783.7 1124.9 784.5 1126.1 788.0 1139.6 798.0 1157.1 800.2 1159.4 808.7 1164.4 811.2 1165.1 813.2 1164.9 815.2 1162.9 827.0 1142.4 827.2 1139.1 826.2 1130.6 826.0 1125.1 826.2 1124.9 837.7 1124.9 838.0 1125.1 838.0 1155.9 837.5 1156.1 837.5 1163.1 836.5 1165.4 834.7 1166.1 833.5 1167.4 832.7 1169.6 832.7 1188.6 833.5 1190.9 834.7 1192.1 836.2 1192.6 837.2 1194.4 837.5 1200.9 921.5 1200.9 921.5 1117.4 899.5 1117.4 899.0 1116.9 895.5 1102.4 885.5 1084.9 883.2 1082.6 873.5 1077.1 872.0 1076.9 870.0 1077.1 868.0 1079.1 856.2 1099.9 856.0 1103.1 856.7 1108.9 857.2 1117.1 857.0 1117.4 845.7 1117.4 845.5 1117.1 845.5 1086.1 846.0 1085.9 846.0 1078.9 846.7 1076.9 848.2 1075.9 849.7 1074.1 850.2 1072.4 850.2 1053.9 849.2 1051.4 848.2 1050.4 847.5 1050.1 846.2 1048.4 846.0 1041.1ZM891.0 1124.9 891.2 1125.4 888.5 1136.1 879.0 1152.6 873.2 1156.1 863.7 1139.9 863.7 1136.9 865.0 1125.1 865.2 1124.9ZM810.0 1086.1 819.5 1102.4 819.5 1105.4 818.2 1117.1 818.0 1117.4 792.2 1117.4 792.0 1117.1 795.0 1105.9 804.5 1089.4Z" fill="rgb(39,39,39)"/><path d="M761.7 1041.1 761.7 1124.1 784.5 1124.1 785.7 1127.4 788.7 1139.1 799.0 1157.1 801.5 1159.1 808.7 1163.4 811.2 1164.4 812.7 1164.1 814.2 1162.9 826.2 1141.9 826.5 1139.1 825.0 1124.4 825.2 1124.1 838.5 1124.1 838.7 1124.4 838.7 1155.9 838.2 1156.1 838.2 1163.1 837.2 1165.4 834.5 1167.6 833.5 1170.1 833.5 1188.1 834.5 1190.6 837.2 1192.9 838.0 1194.4 838.2 1200.9 921.5 1200.9 921.5 1118.1 898.7 1118.1 898.2 1117.4 894.7 1102.9 884.5 1084.9 883.2 1083.6 875.0 1078.9 872.0 1077.6 870.5 1077.9 869.0 1079.1 857.0 1100.4 856.7 1103.1 858.2 1117.9 858.0 1118.1 845.0 1118.1 844.7 1117.9 844.7 1086.1 845.2 1085.9 845.2 1078.9 846.0 1076.9 847.0 1075.4 848.5 1074.1 849.2 1072.4 849.2 1053.9 848.5 1052.1 847.0 1050.9 846.0 1049.4 845.2 1047.4 845.2 1041.1ZM892.0 1124.1 892.2 1125.1 891.7 1126.1 889.2 1136.6 879.7 1153.1 873.0 1157.1 872.2 1156.4 862.7 1139.9 864.2 1124.4 864.5 1124.1ZM810.2 1084.9 811.2 1086.1 820.5 1102.4 819.0 1117.9 818.7 1118.1 791.2 1118.1 791.0 1117.4 794.2 1105.4 803.7 1088.9Z" fill="rgb(59,59,59)"/><path d="M761.7 1041.1 761.7 1123.4 785.0 1123.4 785.7 1124.6 789.5 1138.9 799.7 1156.9 800.5 1157.6 807.2 1161.6 811.2 1163.6 812.5 1163.4 813.5 1162.6 824.5 1143.6 825.7 1140.9 824.2 1123.6 824.5 1123.4 839.2 1123.4 839.5 1123.6 839.5 1155.9 839.0 1156.1 839.0 1163.4 838.2 1165.1 835.0 1168.4 834.2 1170.1 834.2 1188.1 835.0 1189.9 837.0 1191.6 838.7 1194.1 839.0 1200.9 921.5 1200.9 921.5 1118.9 898.2 1118.9 897.7 1118.4 894.0 1103.1 883.7 1085.1 883.0 1084.4 872.0 1078.4 870.7 1078.6 869.7 1079.4 858.7 1098.6 857.5 1101.4 859.0 1118.6 858.7 1118.9 844.2 1118.9 844.0 1118.6 844.0 1086.1 844.5 1085.9 844.5 1078.6 845.5 1076.4 847.7 1073.6 848.5 1071.9 848.5 1054.4 847.7 1052.6 845.5 1049.9 844.5 1047.6 844.5 1041.1ZM893.0 1123.4 893.2 1124.1 889.7 1137.4 880.2 1153.9 873.5 1157.9 872.5 1158.1 862.0 1140.1 863.5 1123.6 863.7 1123.4ZM810.7 1083.9 821.2 1102.1 819.7 1118.6 819.5 1118.9 790.2 1118.9 790.0 1118.4 793.7 1104.6 803.2 1088.1 810.2 1083.9Z" fill="rgb(78,78,78)"/><path d="M761.7 1041.1 761.7 1122.6 785.7 1122.6 787.0 1126.1 790.2 1138.6 800.2 1156.1 801.2 1157.1 811.5 1162.9 813.0 1161.9 824.0 1142.9 825.0 1140.6 823.5 1122.9 823.7 1122.6 840.0 1122.6 840.2 1122.9 840.2 1155.9 839.7 1156.1 839.7 1163.9 839.0 1165.4 835.5 1168.9 834.7 1170.9 834.7 1187.4 835.5 1189.4 839.5 1193.6 839.7 1200.9 921.5 1200.9 921.5 1119.6 897.5 1119.6 897.0 1118.6 893.2 1103.4 883.2 1085.9 882.2 1084.9 871.7 1079.1 870.2 1080.1 858.2 1101.6 859.7 1119.4 859.5 1119.6 843.5 1119.6 843.2 1119.4 843.2 1086.1 843.7 1085.9 843.7 1078.1 844.5 1076.4 846.5 1074.1 847.7 1071.6 847.7 1054.6 846.5 1052.1 844.5 1049.9 843.7 1048.1 843.7 1041.1ZM894.0 1122.6 894.2 1123.4 890.5 1137.6 882.5 1151.6 880.2 1154.9 872.5 1159.4 871.0 1157.4 861.2 1140.4 862.7 1122.9 863.0 1122.6ZM811.0 1082.9 822.0 1101.9 820.5 1119.4 820.2 1119.6 789.2 1119.6 789.0 1118.9 793.0 1104.4 801.0 1090.4 803.2 1087.1 809.5 1083.4Z" fill="rgb(98,98,98)"/><path d="M761.7 1041.1 761.7 1121.9 786.2 1121.9 787.7 1126.1 790.7 1137.9 801.0 1155.9 811.5 1162.1 812.2 1161.6 824.2 1140.6 822.5 1122.1 822.7 1121.9 840.7 1121.9 841.0 1122.1 840.7 1164.1 840.2 1165.4 836.5 1168.9 835.5 1170.9 835.5 1187.4 836.5 1189.4 840.5 1193.4 840.7 1200.9 921.5 1200.9 921.5 1120.4 897.0 1120.4 896.5 1119.6 892.7 1104.1 882.5 1086.1 871.7 1079.9 871.0 1080.4 859.0 1101.6 860.7 1120.1 860.5 1120.4 842.7 1120.4 842.5 1120.1 842.7 1078.1 843.5 1076.1 846.2 1073.1 846.7 1072.1 846.7 1054.1 846.2 1053.1 844.0 1050.9 843.0 1049.1 842.7 1041.1ZM895.0 1121.9 895.2 1122.4 891.2 1137.9 881.5 1154.9 872.0 1160.4 860.5 1140.6 862.2 1122.1 862.5 1121.9ZM811.2 1081.6 822.7 1101.6 821.0 1120.1 820.7 1120.4 788.2 1120.4 788.0 1119.9 792.2 1104.1 802.0 1087.1Z" fill="rgb(118,118,118)"/><path d="M761.7 1041.1 761.7 1121.1 786.7 1121.1 787.2 1121.6 791.5 1137.9 801.5 1155.4 811.5 1161.4 823.5 1140.6 821.7 1121.4 822.0 1121.1 841.5 1121.1 841.7 1121.4 841.7 1164.9 841.0 1166.6 839.5 1167.9 837.7 1168.6 836.5 1170.4 836.5 1187.9 837.7 1189.6 840.2 1190.9 841.5 1192.6 841.7 1193.4 841.7 1200.9 921.5 1200.9 921.5 1121.1 896.5 1121.1 896.0 1120.6 892.0 1104.1 882.0 1086.6 871.7 1080.6 859.7 1101.6 861.5 1120.9 861.2 1121.1 842.0 1121.1 841.7 1120.9 841.7 1077.1 842.7 1074.9 845.7 1071.9 845.7 1054.4 842.7 1051.4 841.7 1049.1 841.7 1041.1ZM896.0 1121.1 896.2 1121.4 892.0 1137.9 882.0 1155.4 871.7 1161.4 859.7 1140.6 861.5 1121.4 861.7 1121.1ZM811.5 1080.6 823.5 1101.6 821.7 1120.9 821.5 1121.1 787.2 1121.1 787.0 1120.9 791.5 1104.1 801.5 1086.6Z" fill="rgb(137,137,137)"/><path d="M838.5 1169.6 837.2 1170.9 837.2 1187.4 838.5 1188.6 841.0 1188.4 841.7 1187.6 841.7 1170.6 841.0 1169.9ZM842.5 1121.9 842.7 1167.4 843.5 1168.6 845.2 1169.1 846.7 1170.9 846.7 1187.4 845.2 1189.1 843.5 1189.6 842.7 1190.9 842.7 1200.9 921.5 1200.9 921.5 1121.9 896.7 1121.9 892.7 1137.9 882.5 1155.9 871.7 1162.1 871.0 1161.6 859.0 1140.6 860.7 1121.9ZM788.0 1121.9 792.2 1137.9 802.0 1154.9 811.2 1160.4 822.7 1140.6 821.0 1121.9ZM872.0 1081.6 860.5 1101.6 862.2 1120.4 895.2 1120.4 891.2 1104.1 881.5 1087.1ZM761.7 1041.1 761.7 1120.4 786.5 1120.4 790.7 1104.1 801.0 1086.1 811.5 1079.9 812.2 1080.4 824.2 1101.6 822.5 1120.4 841.0 1120.4 840.7 1076.4 841.0 1073.9 841.7 1071.6 841.7 1054.6 841.0 1052.4 840.7 1049.9 840.7 1041.1Z" fill="rgb(157,157,157)"/><path d="M843.2 1122.6 843.2 1155.9 843.7 1156.1 843.7 1164.6 844.5 1166.6 847.0 1169.1 847.7 1170.4 847.7 1187.9 847.0 1189.1 844.5 1191.6 844.0 1192.6 843.7 1200.9 921.5 1200.9 921.5 1122.6 897.2 1122.6 893.2 1138.6 883.2 1156.1 882.2 1157.1 871.7 1162.9 870.2 1161.9 859.2 1142.9 858.2 1140.6 859.7 1122.6ZM789.0 1122.6 793.0 1137.6 802.7 1154.6 811.0 1159.4 822.0 1140.4 820.5 1122.6ZM872.2 1082.6 861.2 1101.9 862.7 1119.6 894.2 1119.6 890.5 1104.4 880.7 1087.4ZM761.7 1041.1 761.7 1119.6 786.0 1119.6 790.2 1103.4 800.2 1085.9 801.2 1084.9 811.5 1079.1 813.0 1080.1 825.0 1101.6 823.5 1119.6 840.2 1119.6 840.2 1086.1 839.7 1085.9 839.7 1077.1 839.2 1075.1 837.2 1071.6 837.2 1054.6 839.2 1051.1 839.7 1049.1 839.7 1041.1Z" fill="rgb(177,177,177)"/><path d="M844.0 1123.4 844.0 1155.9 844.5 1156.1 844.5 1163.6 845.5 1166.1 848.2 1169.1 848.7 1170.1 848.7 1188.1 848.2 1189.1 845.5 1192.1 844.7 1193.6 844.5 1200.9 921.5 1200.9 921.5 1123.4 898.0 1123.4 894.0 1138.9 883.7 1156.9 883.0 1157.6 872.0 1163.6 870.7 1163.4 869.7 1162.6 858.7 1143.6 857.5 1140.9 859.0 1123.4ZM790.0 1123.4 793.7 1137.4 803.2 1153.9 810.2 1158.1 810.7 1158.1 821.2 1140.1 819.7 1123.4ZM872.5 1083.9 862.0 1102.1 863.5 1118.9 893.2 1118.9 889.7 1104.6 880.2 1088.1 873.5 1084.1ZM761.7 1041.1 761.7 1118.9 785.2 1118.9 789.5 1103.1 799.7 1085.1 800.5 1084.4 807.2 1080.4 811.2 1078.4 812.5 1078.6 813.5 1079.4 824.5 1098.6 825.7 1101.4 824.2 1118.9 839.5 1118.9 839.5 1086.1 839.0 1085.9 839.0 1078.9 838.5 1076.4 836.0 1071.6 836.0 1054.6 838.7 1048.9 839.0 1041.1Z" fill="rgb(196,196,196)"/><path d="M844.7 1124.1 844.7 1155.9 845.2 1156.1 845.2 1163.1 846.2 1165.9 847.0 1166.9 847.7 1167.1 849.0 1168.4 849.7 1170.4 849.7 1187.9 849.0 1189.9 846.7 1191.6 845.7 1193.4 845.2 1195.1 845.2 1200.9 921.5 1200.9 921.5 1124.1 898.5 1124.1 894.7 1139.1 884.5 1157.1 883.2 1158.4 875.0 1163.1 872.0 1164.4 870.5 1164.1 869.0 1162.9 857.0 1141.9 856.7 1139.1 858.2 1124.1ZM791.0 1124.1 794.2 1136.6 802.2 1150.6 804.2 1153.6 810.5 1157.1 820.5 1139.9 819.0 1124.1ZM872.7 1084.9 862.7 1102.4 864.2 1118.1 892.5 1118.1 889.2 1105.4 881.2 1091.4 879.2 1088.4 873.2 1084.9ZM761.7 1041.1 761.7 1118.1 784.7 1118.1 788.7 1102.9 799.0 1084.9 801.5 1082.9 808.7 1078.6 811.2 1077.6 812.7 1077.9 814.2 1079.1 826.2 1100.4 826.5 1103.1 825.0 1118.1 838.7 1118.1 838.7 1086.1 838.0 1085.9 837.7 1076.9 836.5 1074.4 835.5 1073.4 834.7 1071.4 834.7 1054.9 838.0 1048.4 838.0 1041.1Z" fill="rgb(216,216,216)"/><path d="M845.5 1124.9 845.5 1155.9 846.0 1156.1 846.0 1163.4 846.7 1165.4 849.0 1166.6 850.0 1167.9 850.7 1170.6 850.7 1187.6 850.2 1189.9 849.5 1191.1 848.2 1192.1 847.2 1192.4 846.5 1193.4 846.0 1194.9 846.0 1200.9 921.5 1200.9 921.5 1124.9 899.2 1124.9 895.5 1139.6 885.5 1157.1 883.2 1159.4 873.5 1164.9 872.0 1165.1 870.0 1164.9 868.0 1162.9 856.2 1142.4 856.0 1139.1 857.5 1124.9ZM792.0 1124.9 795.0 1136.1 803.2 1150.6 805.0 1153.1 809.2 1155.6 810.2 1155.9 819.5 1139.9 819.5 1136.9 818.2 1124.9ZM873.2 1085.9 863.7 1102.4 863.7 1105.4 865.0 1117.4 891.2 1117.4 888.5 1105.9 879.0 1089.4ZM761.7 1041.1 761.7 1117.4 784.0 1117.4 788.0 1102.4 798.0 1084.9 800.2 1082.6 808.7 1077.6 811.2 1076.9 813.2 1077.1 815.2 1079.1 827.0 1099.9 827.2 1103.1 825.7 1117.4 838.0 1117.4 838.0 1086.1 837.2 1085.9 837.2 1077.9 836.5 1075.9 835.7 1075.6 834.5 1074.4 833.7 1072.4 833.7 1053.9 834.5 1051.9 835.7 1050.6 836.5 1050.4 837.2 1048.4 837.2 1041.1Z" fill="rgb(235,235,235)"/><path d="M846.2 1125.6 846.2 1155.9 846.7 1156.1 846.7 1163.6 847.2 1164.4 849.7 1165.1 851.0 1166.4 851.7 1168.4 852.0 1170.6 851.7 1189.9 851.0 1191.9 849.7 1193.1 847.2 1193.9 846.7 1194.6 846.7 1200.9 921.5 1200.9 921.5 1125.6 899.7 1125.6 896.2 1139.6 885.5 1158.4 883.7 1159.9 875.5 1164.6 872.2 1165.9 870.0 1165.6 868.0 1164.1 855.5 1142.4 855.2 1138.9 855.5 1138.6 856.5 1125.6ZM793.0 1125.6 795.7 1136.1 805.0 1152.1 809.7 1155.1 818.7 1139.9 817.7 1125.9 817.5 1125.6ZM873.5 1086.9 864.5 1102.4 865.5 1116.4 865.7 1116.6 890.5 1116.6 889.5 1113.6 887.7 1105.9 878.5 1089.9ZM761.7 1041.1 761.7 1116.6 783.5 1116.6 787.2 1102.4 798.0 1083.6 799.7 1082.1 809.7 1076.4 811.0 1076.1 813.2 1076.4 815.2 1077.9 827.7 1099.9 828.0 1103.4 827.7 1103.6 826.7 1116.6 837.2 1116.6 837.2 1086.1 836.7 1085.9 836.7 1078.9 836.2 1077.6 834.0 1076.6 832.5 1074.4 832.0 1071.4 832.2 1052.9 833.5 1050.1 834.7 1049.1 836.5 1048.4 836.7 1041.1Z" fill="rgb(255,255,255)"/></g></g>
<path d="M835.20 1186.20 835.20 1168.10 804.01 1150.10 788.34 1159.14 781.94 1148.06 797.61 1139.01 797.61 1102.99 781.94 1093.94 788.34 1082.86 804.01 1091.90 835.20 1073.90 835.20 1055.80 848.00 1055.80 848.00 1073.90 879.19 1091.90 894.86 1082.86 901.26 1093.94 885.59 1102.99 885.59 1139.01 901.26 1148.06 894.86 1159.14 879.19 1150.10 848.00 1168.10 848.00 1186.20ZM859.50 1090.00 823.70 1090.00 805.80 1121.00 823.70 1152.00 859.50 1152.00 877.40 1121.00Z" fill="none" stroke="#3a3a3a" stroke-width="0.5"/>
<polygon points="1090.00,1121.00 1052.50,1056.05 977.50,1056.05 940.00,1121.00 977.50,1185.95 1052.50,1185.95" fill="#fff" stroke="#7a7a7a" stroke-width="1.1"/>
<g clip-path="url(#mD4)"><g filter="url(#fD4)"><rect x="935.0" y="1041.0" width="160" height="160" fill="#000"/><path d="M947.4 1150.4 947.9 1153.4 953.4 1162.9 954.9 1164.4 956.9 1165.1 959.4 1164.9 964.9 1161.9 967.6 1159.6 968.1 1158.6 968.4 1156.6 967.9 1154.6 965.9 1151.4 966.1 1150.9 971.6 1154.9 982.1 1169.6 984.4 1170.9 996.1 1175.4 998.6 1175.6 1000.4 1175.1 1000.6 1175.4 1000.6 1200.9 1029.6 1200.9 1029.6 1175.4 1029.9 1175.1 1031.6 1175.6 1034.1 1175.4 1045.9 1170.9 1048.1 1169.6 1058.4 1154.9 1064.4 1150.4 1064.9 1150.9 1062.6 1154.4 1062.1 1155.9 1062.4 1158.6 1063.1 1159.9 1064.6 1161.1 1069.4 1163.9 1071.4 1164.6 1073.4 1164.6 1075.9 1163.1 1081.6 1153.6 1082.1 1152.1 1082.1 1150.1 1080.6 1147.6 1073.9 1143.6 1070.9 1143.4 1069.9 1140.9 1068.1 1139.1 1057.4 1136.1 1049.6 1132.1 1045.1 1127.6 1043.9 1126.9 1042.6 1126.6 1040.4 1126.9 1038.4 1128.4 1027.9 1144.4 1027.6 1145.6 1027.6 1167.4 1027.4 1167.6 1025.6 1167.1 1004.6 1167.1 1003.1 1167.6 1002.6 1167.4 1002.6 1145.6 1002.4 1144.4 991.9 1128.4 989.9 1126.9 987.6 1126.6 985.9 1127.1 980.6 1132.1 972.9 1136.1 961.9 1139.1 959.9 1141.1 959.9 1141.9 959.1 1143.1 958.9 1142.9 956.4 1143.1 950.9 1146.1 948.1 1148.4ZM1064.6 1150.4 1064.9 1150.1 1065.1 1150.4 1064.9 1150.6ZM947.9 1089.9 947.9 1091.9 949.4 1094.4 956.1 1098.4 959.1 1098.6 960.1 1101.4 961.9 1103.1 972.9 1106.1 980.6 1110.1 985.1 1114.6 986.4 1115.4 987.6 1115.6 989.9 1115.4 991.9 1113.9 1002.4 1097.9 1002.6 1096.6 1002.6 1074.9 1002.9 1074.6 1004.6 1075.1 1025.6 1075.1 1027.1 1074.6 1027.6 1074.9 1027.6 1096.6 1027.9 1097.9 1038.4 1113.9 1040.4 1115.4 1042.6 1115.6 1044.4 1115.1 1049.6 1110.1 1057.4 1106.1 1068.1 1103.1 1069.9 1101.4 1070.9 1098.6 1073.9 1098.4 1078.4 1095.9 1081.1 1093.9 1082.1 1091.9 1082.1 1089.9 1081.6 1088.4 1076.6 1079.9 1075.4 1078.4 1073.4 1077.4 1070.4 1077.6 1064.6 1080.9 1062.6 1082.9 1062.1 1084.1 1062.1 1086.1 1062.6 1087.6 1065.1 1091.6 1064.9 1092.1 1058.4 1087.4 1048.1 1072.6 1045.9 1071.4 1034.1 1066.9 1031.6 1066.6 1029.9 1067.1 1029.6 1066.9 1029.6 1041.1 1000.6 1041.1 1000.6 1066.9 1000.4 1067.1 998.6 1066.6 996.1 1066.9 984.4 1071.4 982.1 1072.6 971.6 1087.4 965.1 1092.1 964.9 1091.6 967.4 1087.6 967.9 1086.1 967.6 1083.4 966.9 1082.1 965.4 1080.9 960.6 1078.1 958.6 1077.4 956.6 1077.4 954.1 1078.9 948.4 1088.4Z" fill="rgb(20,20,20)"/><path d="M1071.6 1145.6 1070.4 1146.1 1068.6 1148.1 1064.6 1155.1 1064.4 1157.1 1065.1 1158.6 1066.9 1160.1 1070.6 1162.1 1072.6 1162.4 1073.9 1161.9 1075.6 1159.9 1079.6 1152.9 1079.9 1150.9 1079.1 1149.4 1077.4 1147.9 1073.6 1145.9ZM949.9 1149.4 949.4 1150.4 949.4 1152.4 950.1 1154.1 954.1 1160.9 955.1 1162.1 956.9 1163.1 958.9 1163.1 962.9 1161.1 964.4 1160.1 965.9 1158.6 966.4 1157.6 966.1 1154.9 962.4 1148.6 962.6 1148.1 963.6 1148.1 965.1 1148.9 972.4 1154.6 980.6 1166.6 983.4 1169.6 996.1 1174.6 997.6 1174.9 999.9 1174.6 1001.1 1173.4 1001.4 1173.6 1001.4 1200.9 1028.9 1200.9 1028.9 1173.6 1029.1 1173.4 1030.4 1174.6 1031.9 1174.9 1034.1 1174.6 1046.9 1169.6 1048.9 1167.6 1057.9 1154.4 1065.1 1148.6 1069.1 1146.4 1069.6 1145.4 1069.6 1142.4 1069.4 1141.4 1067.1 1139.4 1057.4 1136.9 1048.6 1132.4 1043.9 1127.6 1042.4 1127.4 1040.4 1127.6 1038.4 1129.6 1028.6 1144.4 1028.4 1145.9 1028.4 1169.1 1028.1 1169.4 1026.9 1168.1 1025.4 1167.9 1004.9 1167.9 1003.4 1168.1 1002.1 1169.4 1001.9 1169.1 1001.9 1145.9 1001.6 1144.4 991.9 1129.6 989.9 1127.6 988.4 1127.4 986.4 1127.6 981.6 1132.4 972.9 1136.9 962.4 1139.6 960.6 1141.4 960.1 1144.1 959.6 1145.1 958.9 1144.9 956.1 1145.1 951.4 1147.9ZM1071.4 1079.6 1065.9 1082.6 1064.6 1084.1 1064.4 1086.1 1069.1 1094.6 1070.9 1096.1 1072.9 1096.4 1078.4 1093.4 1079.6 1091.9 1079.9 1089.9 1075.1 1081.4 1073.4 1079.9ZM957.4 1079.6 956.1 1080.1 954.4 1082.1 950.4 1089.1 950.1 1091.1 950.9 1092.6 952.6 1094.1 956.4 1096.1 958.4 1096.4 959.6 1095.9 961.4 1093.9 965.4 1086.9 965.6 1084.9 964.9 1083.4 963.1 1081.9 959.4 1079.9ZM960.4 1097.1 960.6 1100.9 962.4 1102.6 972.9 1105.4 981.6 1109.9 986.4 1114.6 987.9 1114.9 989.9 1114.6 991.9 1112.6 1001.6 1097.9 1001.9 1096.4 1001.9 1073.1 1002.1 1072.9 1003.4 1074.1 1004.9 1074.4 1025.4 1074.4 1026.9 1074.1 1028.1 1072.9 1028.4 1073.1 1028.4 1096.4 1028.6 1097.9 1038.4 1112.6 1040.4 1114.6 1041.9 1114.9 1043.9 1114.6 1048.6 1109.9 1057.4 1105.4 1067.1 1102.9 1069.4 1100.9 1069.6 1099.9 1069.6 1097.1 1069.1 1096.1 1065.1 1093.6 1057.9 1087.9 1048.9 1074.6 1046.9 1072.6 1034.1 1067.6 1032.6 1067.4 1030.4 1067.6 1029.1 1068.9 1028.9 1068.6 1028.9 1041.1 1001.4 1041.1 1001.4 1068.6 1001.1 1068.9 999.9 1067.6 998.4 1067.4 996.1 1067.6 983.4 1072.6 980.6 1075.6 972.4 1087.6 964.9 1093.6 961.1 1095.9Z" fill="rgb(39,39,39)"/><path d="M1003.4 1169.1 1002.6 1169.9 1002.1 1171.4 1002.1 1200.9 1028.1 1200.9 1028.1 1171.4 1027.6 1169.9 1026.9 1169.1 1025.4 1168.6 1004.9 1168.6ZM1071.6 1148.1 1070.4 1149.4 1066.9 1155.6 1066.9 1157.1 1067.9 1158.1 1070.9 1159.9 1072.6 1159.9 1073.9 1158.6 1077.4 1152.4 1077.4 1150.9 1076.4 1149.9 1073.4 1148.1ZM956.9 1146.4 952.6 1148.6 950.9 1150.9 950.9 1152.4 955.1 1159.9 956.6 1161.4 958.9 1161.6 963.1 1159.4 964.9 1157.1 964.9 1155.6 960.6 1148.1 959.1 1146.6ZM1068.4 1141.4 1066.6 1140.1 1056.9 1137.6 1048.6 1133.4 1043.4 1128.4 1041.9 1128.1 1040.4 1128.6 1039.4 1129.6 1029.9 1143.9 1029.1 1145.9 1029.1 1171.4 1029.6 1172.9 1030.9 1173.9 1032.6 1174.1 1046.9 1168.6 1049.1 1165.9 1056.9 1154.4 1058.6 1152.6 1065.6 1147.4 1068.6 1144.6 1068.9 1142.9ZM961.4 1141.6 961.1 1144.6 961.6 1145.4 966.6 1148.9 971.4 1152.6 973.4 1154.6 981.6 1166.6 983.4 1168.6 997.6 1174.1 999.4 1173.9 1000.6 1172.9 1001.1 1171.4 1001.1 1145.9 1000.4 1143.9 990.9 1129.6 989.9 1128.6 988.4 1128.1 986.9 1128.4 981.6 1133.4 973.4 1137.6 963.4 1140.1ZM1070.9 1082.1 1067.9 1083.9 1066.9 1084.9 1066.9 1086.4 1070.4 1092.6 1071.6 1093.9 1073.4 1093.9 1076.4 1092.1 1077.4 1091.1 1077.4 1089.6 1073.9 1083.4 1072.6 1082.1ZM957.4 1082.1 956.1 1083.4 952.6 1089.6 952.6 1091.1 953.6 1092.1 956.6 1093.9 958.4 1093.9 959.6 1092.6 963.1 1086.4 963.1 1084.9 962.1 1083.9 959.1 1082.1ZM1029.6 1069.4 1029.1 1070.9 1029.1 1096.4 1029.9 1098.4 1039.4 1112.6 1040.4 1113.6 1041.9 1114.1 1043.4 1113.9 1048.6 1108.9 1056.9 1104.6 1066.6 1102.1 1068.4 1100.9 1068.9 1099.4 1068.6 1097.6 1066.9 1095.9 1058.6 1089.6 1056.9 1087.9 1049.1 1076.4 1046.9 1073.6 1032.6 1068.1 1030.9 1068.4ZM1000.6 1069.4 999.4 1068.4 997.6 1068.1 983.4 1073.6 981.6 1075.6 973.4 1087.6 971.4 1089.6 963.1 1095.9 961.4 1097.6 961.1 1099.4 961.6 1100.9 963.4 1102.1 973.4 1104.6 981.6 1108.9 986.9 1113.9 988.4 1114.1 989.9 1113.6 990.9 1112.6 1000.4 1098.4 1001.1 1096.4 1001.1 1070.9ZM1002.1 1041.1 1002.1 1070.9 1002.6 1072.4 1003.4 1073.1 1004.9 1073.6 1025.4 1073.6 1026.9 1073.1 1027.6 1072.4 1028.1 1070.9 1028.1 1041.1Z" fill="rgb(59,59,59)"/><path d="M1003.6 1169.9 1002.9 1171.4 1002.9 1200.9 1027.4 1200.9 1027.4 1171.4 1026.9 1170.1 1025.4 1169.4 1004.9 1169.4ZM956.6 1148.4 952.9 1150.9 952.9 1152.4 956.4 1158.6 957.4 1159.6 959.1 1159.6 962.9 1157.1 962.9 1155.6 959.4 1149.4 958.4 1148.4ZM1067.6 1141.6 1065.6 1140.6 1056.1 1138.1 1048.4 1134.1 1043.6 1129.4 1042.4 1128.9 1040.6 1129.4 1030.6 1144.1 1029.9 1145.9 1029.9 1171.4 1030.4 1172.6 1031.1 1173.1 1032.6 1173.4 1046.6 1167.9 1056.6 1153.4 1063.4 1148.1 1067.9 1144.1 1068.1 1143.1ZM962.4 1141.6 961.9 1142.9 962.4 1144.6 973.4 1153.4 983.6 1167.9 997.6 1173.4 998.4 1173.4 999.9 1172.6 1000.4 1171.4 1000.4 1145.9 999.6 1144.1 989.6 1129.4 988.4 1128.9 986.6 1129.4 981.9 1134.1 974.1 1138.1 964.4 1140.6ZM1030.4 1069.6 1029.9 1070.9 1029.9 1096.4 1030.6 1098.1 1040.6 1112.9 1041.9 1113.4 1043.6 1112.9 1048.4 1108.1 1056.1 1104.1 1065.6 1101.6 1067.6 1100.6 1068.1 1099.1 1067.9 1098.1 1064.6 1095.1 1056.6 1088.9 1046.6 1074.4 1032.6 1068.9 1031.9 1068.9ZM999.9 1069.6 999.1 1069.1 997.6 1068.9 983.6 1074.4 973.4 1088.9 965.4 1095.1 962.1 1098.1 961.9 1099.1 962.4 1100.6 964.4 1101.6 974.1 1104.1 981.9 1108.1 986.6 1112.9 987.9 1113.4 989.6 1112.9 999.6 1098.1 1000.4 1096.4 1000.4 1070.9ZM1002.9 1041.1 1002.9 1070.9 1003.4 1072.1 1004.9 1072.9 1025.4 1072.9 1026.6 1072.4 1027.4 1070.9 1027.4 1041.1Z" fill="rgb(78,78,78)"/><path d="M1004.4 1170.4 1003.6 1171.6 1003.6 1200.9 1026.6 1200.9 1026.6 1171.6 1026.4 1170.9 1025.1 1170.1 1005.1 1170.1ZM1067.1 1142.4 1065.4 1141.4 1055.9 1138.9 1047.6 1134.6 1042.9 1129.9 1042.1 1129.6 1041.4 1129.9 1031.1 1144.9 1030.6 1146.1 1030.6 1171.1 1030.9 1171.9 1032.4 1172.6 1045.9 1167.4 1056.1 1152.6 1066.1 1144.9 1067.1 1143.9ZM962.9 1142.4 962.6 1143.1 962.9 1143.9 963.9 1144.9 973.9 1152.6 984.4 1167.4 997.9 1172.6 999.4 1171.9 999.6 1171.1 999.6 1146.1 999.1 1144.9 988.9 1129.9 988.1 1129.6 987.4 1129.9 982.6 1134.6 974.4 1138.9 964.6 1141.4ZM1030.9 1070.4 1030.6 1071.1 1030.6 1096.1 1031.1 1097.4 1041.4 1112.4 1042.1 1112.6 1042.9 1112.4 1047.6 1107.6 1055.9 1103.4 1065.4 1100.9 1067.1 1099.9 1067.4 1099.1 1067.1 1098.4 1066.1 1097.4 1056.1 1089.6 1045.9 1074.9 1032.4 1069.6ZM999.4 1070.4 997.9 1069.6 984.4 1074.9 973.9 1089.6 963.9 1097.4 962.9 1098.4 962.6 1099.1 962.9 1099.9 964.6 1100.9 974.4 1103.4 982.6 1107.6 987.4 1112.4 988.1 1112.6 988.9 1112.4 999.1 1097.4 999.6 1096.1 999.6 1071.1ZM1003.6 1041.1 1003.6 1070.6 1003.9 1071.4 1005.1 1072.1 1025.1 1072.1 1025.9 1071.9 1026.6 1070.6 1026.6 1041.1Z" fill="rgb(98,98,98)"/><path d="M1004.6 1171.1 1004.4 1171.6 1004.4 1200.9 1025.9 1200.9 1025.9 1171.6 1025.6 1171.1 1025.1 1170.9 1005.1 1170.9ZM1066.4 1142.6 1055.6 1139.6 1047.4 1135.4 1042.6 1130.6 1042.1 1130.4 1041.6 1130.6 1031.4 1146.1 1031.4 1171.1 1031.6 1171.6 1032.4 1171.9 1045.6 1166.6 1055.4 1152.4 1066.4 1143.6ZM963.6 1142.6 963.4 1143.1 964.1 1144.1 974.6 1152.4 984.6 1166.6 997.9 1171.9 998.6 1171.6 998.9 1171.1 998.9 1146.1 988.6 1130.6 988.1 1130.4 987.6 1130.6 982.9 1135.4 974.6 1139.6ZM1031.6 1070.6 1031.4 1071.1 1031.4 1096.1 1041.6 1111.6 1042.1 1111.9 1042.6 1111.6 1047.4 1106.9 1055.6 1102.6 1066.4 1099.6 1066.6 1099.1 1065.9 1098.1 1055.4 1089.9 1045.6 1075.6 1032.4 1070.4ZM998.6 1070.6 997.9 1070.4 984.6 1075.6 974.6 1089.9 964.1 1098.1 963.4 1099.1 963.6 1099.6 974.6 1102.6 982.9 1106.9 987.6 1111.6 988.1 1111.9 988.6 1111.6 998.9 1096.1 998.9 1071.1ZM1004.4 1041.1 1004.4 1070.6 1004.6 1071.1 1005.1 1071.4 1025.1 1071.4 1025.6 1071.1 1025.9 1070.6 1025.9 1041.1Z" fill="rgb(118,118,118)"/><path d="M1005.1 1171.6 1005.1 1200.9 1025.1 1200.9 1025.1 1171.6ZM1065.9 1143.1 1055.6 1140.4 1046.9 1135.9 1042.1 1131.1 1032.1 1146.1 1032.1 1171.1 1045.1 1166.1 1054.9 1151.9ZM964.1 1143.1 975.1 1151.9 985.1 1166.1 998.1 1171.1 998.1 1146.1 988.1 1131.1 983.4 1135.9 974.6 1140.4ZM1032.1 1071.1 1032.1 1096.1 1042.1 1111.1 1046.9 1106.4 1055.6 1101.9 1065.9 1099.1 1054.9 1090.4 1045.1 1076.1ZM998.1 1071.1 985.1 1076.1 975.1 1090.4 964.1 1099.1 974.6 1101.9 983.4 1106.4 988.1 1111.1 998.1 1096.1ZM1005.1 1041.1 1005.1 1070.6 1025.1 1070.6 1025.1 1041.1Z" fill="rgb(137,137,137)"/><path d="M1005.9 1172.4 1005.9 1200.9 1024.4 1200.9 1024.4 1172.4ZM1064.4 1143.4 1055.6 1141.1 1046.4 1136.4 1042.1 1132.4 1032.9 1146.1 1032.9 1170.1 1044.6 1165.6 1054.4 1151.4ZM965.6 1143.4 975.6 1151.4 985.6 1165.6 997.4 1170.1 997.4 1146.1 988.1 1132.4 983.9 1136.4 974.6 1141.1ZM1032.9 1072.1 1032.9 1096.1 1042.1 1109.9 1046.4 1105.9 1055.6 1101.1 1064.4 1098.9 1054.4 1090.9 1044.6 1076.6ZM997.4 1072.1 985.6 1076.6 975.6 1090.9 965.6 1098.9 974.6 1101.1 983.9 1105.9 988.1 1109.9 997.4 1096.1ZM1005.9 1041.1 1005.9 1069.9 1024.4 1069.9 1024.4 1041.1Z" fill="rgb(157,157,157)"/><path d="M1006.6 1173.1 1006.6 1200.9 1023.6 1200.9 1023.6 1173.1ZM1062.6 1143.6 1054.9 1141.6 1046.1 1137.1 1042.4 1133.4 1033.6 1146.4 1033.6 1169.1 1043.9 1165.1 1045.4 1163.4 1053.6 1151.1ZM967.4 1143.6 976.4 1151.1 985.4 1164.1 986.4 1165.1 996.6 1169.1 996.6 1146.4 987.9 1133.4 984.1 1137.1 975.4 1141.6ZM1033.6 1073.1 1033.6 1095.9 1042.4 1108.9 1046.1 1105.1 1054.9 1100.6 1062.6 1098.6 1053.6 1091.1 1045.4 1078.9 1043.9 1077.1ZM996.6 1073.1 986.4 1077.1 985.4 1078.1 976.4 1091.1 967.4 1098.6 975.4 1100.6 984.1 1105.1 987.9 1108.9 996.6 1095.9ZM1006.6 1041.1 1006.6 1069.1 1023.6 1069.1 1023.6 1041.1Z" fill="rgb(177,177,177)"/><path d="M1007.4 1173.9 1007.4 1200.9 1022.9 1200.9 1022.9 1173.9ZM1060.9 1144.1 1054.6 1142.4 1045.4 1137.6 1042.4 1134.9 1034.4 1146.9 1034.4 1167.9 1043.6 1164.4 1053.1 1150.4ZM969.1 1144.1 976.9 1150.4 986.6 1164.4 995.9 1167.9 995.9 1146.9 987.9 1134.9 984.9 1137.6 975.6 1142.4ZM1034.4 1074.4 1034.4 1095.4 1042.4 1107.4 1045.4 1104.6 1054.6 1099.9 1060.9 1098.1 1053.1 1091.9 1043.6 1077.9ZM995.9 1074.4 986.6 1077.9 976.9 1091.9 969.1 1098.1 975.6 1099.9 984.9 1104.6 987.9 1107.4 995.9 1095.4ZM1007.4 1041.1 1007.4 1068.4 1022.9 1068.4 1022.9 1041.1Z" fill="rgb(196,196,196)"/><path d="M1008.1 1174.6 1008.1 1200.9 1022.1 1200.9 1022.1 1174.6ZM1059.4 1144.4 1054.4 1143.1 1045.1 1138.4 1042.6 1135.9 1035.1 1147.1 1035.1 1166.6 1042.9 1163.9 1052.4 1150.1ZM970.6 1144.4 977.6 1150.1 987.4 1163.9 995.1 1166.6 995.1 1147.1 987.6 1135.9 985.1 1138.4 975.9 1143.1ZM1035.1 1075.6 1035.1 1095.1 1042.6 1106.4 1045.1 1103.9 1054.4 1099.1 1059.4 1097.9 1052.4 1092.1 1042.9 1078.4ZM995.1 1075.6 987.4 1078.4 977.6 1092.1 970.6 1097.9 975.9 1099.1 985.1 1103.9 987.6 1106.4 995.1 1095.1ZM1008.1 1041.1 1008.1 1067.6 1022.1 1067.6 1022.1 1041.1Z" fill="rgb(216,216,216)"/><path d="M1008.9 1175.4 1008.9 1200.9 1021.4 1200.9 1021.4 1175.4ZM1057.6 1144.9 1053.9 1143.9 1045.1 1139.4 1042.9 1137.1 1035.9 1147.4 1035.9 1165.6 1042.4 1163.1 1051.4 1150.1 1053.9 1147.6ZM972.4 1144.9 976.1 1147.6 978.6 1150.1 987.9 1163.1 994.4 1165.6 994.4 1147.4 987.4 1137.1 985.1 1139.4 976.4 1143.9ZM1035.9 1076.6 1035.9 1094.9 1042.9 1105.1 1045.1 1102.9 1053.9 1098.4 1057.6 1097.4 1053.9 1094.6 1051.4 1092.1 1042.4 1079.1ZM994.4 1076.6 987.9 1079.1 978.6 1092.1 976.1 1094.6 972.4 1097.4 976.4 1098.4 985.1 1102.9 987.4 1105.1 994.4 1094.9ZM1008.9 1041.1 1008.9 1066.9 1021.4 1066.9 1021.4 1041.1Z" fill="rgb(235,235,235)"/><path d="M1009.6 1176.1 1009.6 1200.9 1020.6 1200.9 1020.6 1176.1ZM1055.9 1145.1 1053.9 1144.6 1044.6 1139.9 1042.9 1138.4 1036.6 1147.6 1036.6 1164.4 1042.1 1162.4 1051.4 1148.9ZM974.1 1145.1 978.6 1148.9 988.1 1162.4 993.6 1164.4 993.6 1147.6 987.4 1138.4 985.6 1139.9 976.4 1144.6ZM1036.6 1077.9 1036.6 1094.6 1042.9 1103.9 1044.6 1102.4 1053.9 1097.6 1055.9 1097.1 1051.4 1093.4 1042.4 1080.1ZM993.6 1077.9 988.1 1079.9 978.6 1093.4 974.1 1097.1 976.4 1097.6 985.6 1102.4 987.4 1103.9 993.6 1094.6ZM1009.6 1041.1 1009.6 1066.1 1020.6 1066.1 1020.6 1041.1Z" fill="rgb(255,255,255)"/></g></g>
<path d="M1008.60 1186.20 1008.60 1168.10 977.41 1150.10 961.74 1159.14 955.34 1148.06 971.01 1139.01 971.01 1102.99 955.34 1093.94 961.74 1082.86 977.41 1091.90 1008.60 1073.90 1008.60 1055.80 1021.40 1055.80 1021.40 1073.90 1052.59 1091.90 1068.26 1082.86 1074.66 1093.94 1058.99 1102.99 1058.99 1139.01 1074.66 1148.06 1068.26 1159.14 1052.59 1150.10 1021.40 1168.10 1021.40 1186.20ZM1032.90 1090.00 997.10 1090.00 979.20 1121.00 997.10 1152.00 1032.90 1152.00 1050.80 1121.00Z" fill="none" stroke="#3a3a3a" stroke-width="0.5"/>
<circle cx="927.1" cy="836.7" r="8.6" fill="url(#bsph)" stroke="#2020e0" stroke-width="1.5"/>
<circle cx="927.1" cy="977.8" r="8.6" fill="url(#rsph)" stroke="#d41414" stroke-width="1.5"/>
<text x="1157.5" y="1158.3" font-family="Liberation Serif" font-size="40.5" text-anchor="start" fill="#000">SC-III</text>
<text x="755.2" y="753.3" font-family="Liberation Serif" font-size="35" text-anchor="start" fill="#0000ff" font-style="italic">p</text>
<text x="773.2" y="764.8" font-family="Liberation Serif" font-size="20" text-anchor="start" fill="#0000ff" font-style="italic">x</text>
<text x="938.6" y="797.4" font-family="Liberation Serif" font-size="35" text-anchor="start" fill="#0000ff" font-style="italic">p</text>
<text x="957.0" y="811.0" font-family="Liberation Serif" font-size="25" text-anchor="start" fill="#0000ff">±</text>
<text x="1092.3" y="761.4" font-family="Liberation Serif" font-size="35" text-anchor="start" fill="#0000ff" font-style="italic">p</text>
<text x="1111.5" y="772.0" font-family="Liberation Serif" font-size="20" text-anchor="start" fill="#0000ff" font-style="italic">y</text>
<text x="768.2" y="1010.8" font-family="Liberation Serif" font-size="35" text-anchor="start" fill="#e00a0a" font-style="italic">d</text>
<text x="785.0" y="1022.5" font-family="Liberation Serif" font-size="20" text-anchor="start" fill="#e00a0a" font-style="italic">xy</text>
<text x="935.6" y="1023.8" font-family="Liberation Serif" font-size="35" text-anchor="start" fill="#e00a0a" font-style="italic">d</text>
<text x="952.9" y="1037.8" font-family="Liberation Serif" font-size="25" text-anchor="start" fill="#e00a0a">±</text>
<text x="1046.9" y="1014.6" font-family="Liberation Serif" font-size="35" text-anchor="start" fill="#e00a0a" font-style="italic">d</text>
<text x="1064.0" y="1025.8" font-family="Liberation Serif" font-size="20" text-anchor="start" fill="#e00a0a" font-style="italic">x²-y²</text>
<text x="2.5" y="33.3" font-family="Liberation Sans" font-size="43" text-anchor="start" fill="#000" font-weight="bold">A</text>
<text x="647.9" y="33.2" font-family="Liberation Sans" font-size="43" text-anchor="start" fill="#000" font-weight="bold">B</text>
<text x="2.6" y="656.6" font-family="Liberation Sans" font-size="43" text-anchor="start" fill="#000" font-weight="bold">C</text>
<text x="647.9" y="656.6" font-family="Liberation Sans" font-size="43" text-anchor="start" fill="#000" font-weight="bold">D</text>
<text transform="translate(27.8,276.8) rotate(-90)" font-family="Liberation Serif" font-size="34" text-anchor="middle">Frequency (kHz)</text>
<text transform="translate(671.7,279.3) rotate(-90)" font-family="Liberation Serif" font-size="34.6" text-anchor="middle">Frequency(kHz)</text>
<text transform="translate(27.8,905) rotate(-90)" font-family="Liberation Serif" font-size="34" text-anchor="middle">Frequency (kHz)</text>
<text transform="translate(674.2,915) rotate(-90)" font-family="Liberation Serif" font-size="35.4" text-anchor="middle">Frequency(kHz)</text>
<text x="95.7" y="571.3" font-family="Liberation Serif" font-size="34" text-anchor="middle" fill="#000">M</text>
<text x="111.0" y="584.0" font-family="Liberation Serif" font-size="22.5" text-anchor="start" fill="#000">0</text>
<text x="288.3" y="571.3" font-family="Liberation Serif" font-size="34" text-anchor="middle" fill="#000">Γ</text>
<text x="513.6" y="571.3" font-family="Liberation Serif" font-size="34" text-anchor="middle" fill="#000">K</text>
<text x="526.4" y="584.0" font-family="Liberation Serif" font-size="22.5" text-anchor="start" fill="#000">0</text>
<text x="622.5" y="571.3" font-family="Liberation Serif" font-size="34" text-anchor="middle" fill="#000">M</text>
<text x="637.8" y="584.0" font-family="Liberation Serif" font-size="22.5" text-anchor="start" fill="#000">0</text>
<text x="735.5" y="572.6" font-family="Liberation Serif" font-size="34" text-anchor="middle" fill="#000">M</text>
<text x="928.4" y="572.6" font-family="Liberation Serif" font-size="34" text-anchor="middle" fill="#000">Γ</text>
<text x="1152.9" y="572.6" font-family="Liberation Serif" font-size="34" text-anchor="middle" fill="#000">K</text>
<text x="1266.8" y="572.6" font-family="Liberation Serif" font-size="34" text-anchor="middle" fill="#000">M</text>
<text x="102.0" y="1206.0" font-family="Liberation Serif" font-size="34" text-anchor="middle" fill="#000">M</text>
<text x="291.8" y="1206.0" font-family="Liberation Serif" font-size="34" text-anchor="middle" fill="#000">Γ</text>
<text x="517.5" y="1206.0" font-family="Liberation Serif" font-size="34" text-anchor="middle" fill="#000">K</text>
<text x="632.0" y="1206.0" font-family="Liberation Serif" font-size="34" text-anchor="middle" fill="#000">M</text>
<text x="735.9" y="1206.2" font-family="Liberation Serif" font-size="34" text-anchor="middle" fill="#000">M</text>
<text x="927.1" y="1206.2" font-family="Liberation Serif" font-size="34" text-anchor="middle" fill="#000">Γ</text>
<text x="1152.9" y="1206.2" font-family="Liberation Serif" font-size="34" text-anchor="middle" fill="#000">K</text>
<text x="1267.3" y="1206.2" font-family="Liberation Serif" font-size="34" text-anchor="middle" fill="#000">M</text>
</svg></body></html>
